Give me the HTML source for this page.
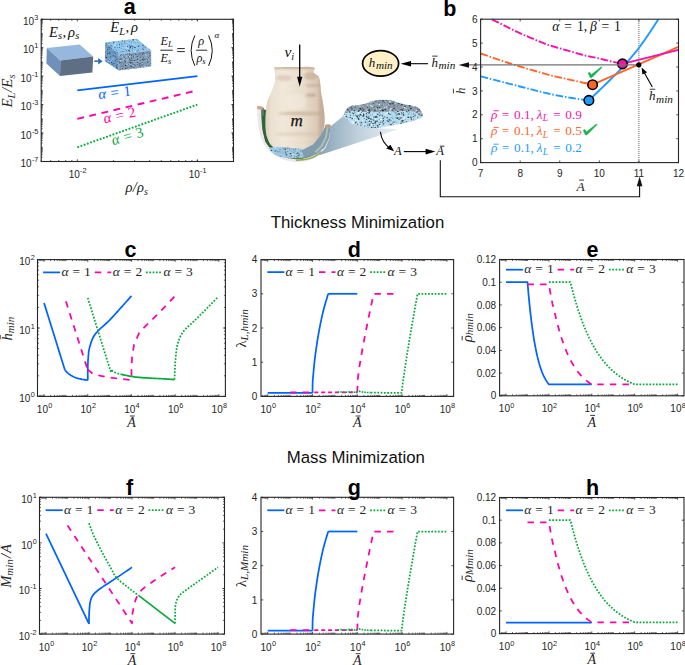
<!DOCTYPE html>
<html><head><meta charset="utf-8"><title>Figure</title>
<style>html,body{margin:0;padding:0;background:#fff;}svg{display:block;}</style></head>
<body><svg width="685" height="665" viewBox="0 0 685 665">
<defs><clipPath id="fc1"><path d="M105.3 42.3 L136.8 38.8 L151.2 50.6 L118.8 54.6 Z"/></clipPath>
<clipPath id="fc2"><path d="M105.3 42.3 L118.8 54.6 L118.8 70.4 L104.8 61.2 Z"/></clipPath>
<clipPath id="fc3"><path d="M118.8 54.6 L151.2 50.6 L151.2 66.4 L118.8 70.4 Z"/></clipPath>
<linearGradient id="metG" x1="0" y1="0" x2="1" y2="0">
      <stop offset="0" stop-color="#e9ddcc"/><stop offset="0.3" stop-color="#f1e8da"/>
      <stop offset="0.65" stop-color="#e8dccb"/><stop offset="0.86" stop-color="#dccab7"/><stop offset="1" stop-color="#c6af9a"/></linearGradient>
    <linearGradient id="coneG" x1="0" y1="0" x2="1" y2="0">
      <stop offset="0" stop-color="#7f9db2" stop-opacity="0.95"/><stop offset="0.5" stop-color="#b9cbd8" stop-opacity="0.9"/>
      <stop offset="1" stop-color="#e4ecf2" stop-opacity="0.85"/></linearGradient>
    <filter id="blur1" x="-20%" y="-20%" width="140%" height="140%"><feGaussianBlur stdDeviation="1.2"/></filter>
    <filter id="blur2" x="-20%" y="-20%" width="140%" height="140%"><feGaussianBlur stdDeviation="0.6"/></filter>
<clipPath id="metClip"><path d="M274 67.4 L276.73 67.33 L280.58 67.23 L285.07 67.12 L289.71 67.04 L294 67 L298.26 66.96 L302.81 66.88 L307.19 66.87 L310.94 67.01 L313.6 67.4 L314.77 68.12 L314.77 69.11 L314.18 70.24 L313.59 71.38 L313.6 72.4 L314.33 73.24 L315.4 73.98 L316.6 74.72 L317.74 75.53 L318.6 76.5 L319.15 77.61 L319.52 78.8 L319.77 80.1 L319.98 81.52 L320.2 83.1 L320.41 84.91 L320.58 86.94 L320.72 89.07 L320.89 91.16 L321.1 93.1 L321.37 94.78 L321.68 96.27 L322.02 97.75 L322.36 99.37 L322.7 101.3 L323.06 103.67 L323.45 106.37 L323.84 109.21 L324.17 111.98 L324.4 114.5 L324.54 116.76 L324.6 118.9 L324.6 120.91 L324.54 122.78 L324.4 124.5 L324.22 125.98 L323.99 127.23 L323.68 128.39 L323.26 129.6 L322.7 131 L322.04 132.66 L321.29 134.49 L320.41 136.39 L319.33 138.26 L318 140 L316.37 141.68 L314.48 143.35 L312.4 144.93 L310.21 146.34 L308 147.5 L305.76 148.37 L303.44 149 L301.04 149.46 L298.56 149.77 L296 150 L293.26 150.14 L290.35 150.16 L287.41 150.06 L284.58 149.84 L282 149.5 L279.66 149.06 L277.45 148.53 L275.42 147.87 L273.59 147.04 L272 146 L270.69 144.7 L269.63 143.15 L268.77 141.46 L268.05 139.71 L267.4 138 L266.85 136.42 L266.43 134.91 L266.12 133.32 L265.88 131.53 L265.7 129.4 L265.56 126.8 L265.5 123.81 L265.5 120.64 L265.56 117.47 L265.7 114.5 L265.89 111.7 L266.14 108.94 L266.47 106.26 L266.88 103.7 L267.4 101.3 L268.08 99.11 L268.91 97.1 L269.8 95.2 L270.69 93.33 L271.5 91.4 L272.26 89.41 L273.04 87.4 L273.76 85.4 L274.36 83.43 L274.8 81.5 L275.02 79.56 L275.08 77.61 L275.02 75.71 L274.9 73.94 L274.8 72.4 L274.68 71.06 L274.5 69.86 L274.3 68.84 L274.12 68.01 L274 67.4 Z"/></clipPath>
<clipPath id="fc4"><path d="M268.8 147.6 L270.57 147.41 L273.09 147.12 L276.01 146.88 L279 146.8 L282.1 146.95 L285.45 147.25 L288.82 147.63 L292 148 L295.12 148.25 L298.25 148.44 L301 148.81 L303 149.6 L304.26 151.1 L304.94 153.11 L304.9 155.12 L304 156.6 L301.91 157.41 L298.81 157.82 L295.3 157.98 L292 158 L288.91 157.91 L285.75 157.64 L282.72 157.2 L280 156.6 L277.61 155.81 L275.45 154.82 L273.57 153.73 L272 152.6 L270.79 151.3 L269.9 149.85 L269.26 148.52 L268.8 147.6 Z"/></clipPath>
<clipPath id="fc5"><path d="M343.1 116.1 L343.48 115.06 L344.03 113.57 L344.7 111.94 L345.5 110.5 L346.4 109.26 L347.41 108.06 L348.56 107.01 L349.9 106.2 L351.47 105.73 L353.24 105.53 L355.11 105.41 L357 105.2 L358.82 104.91 L360.64 104.61 L362.59 104.23 L364.8 103.7 L367.3 102.89 L370.04 101.87 L372.95 100.89 L376 100.2 L379.32 99.84 L382.88 99.69 L386.4 99.74 L389.6 100 L392.24 100.54 L394.52 101.34 L396.85 102.25 L399.6 103.1 L403.19 103.89 L407.31 104.69 L411.28 105.47 L414.4 106.2 L416.37 106.74 L417.59 107.16 L418.47 107.7 L419.4 108.6 L420.59 110.1 L421.79 112.01 L422.73 113.94 L423.1 115.5 L422.84 116.54 L422.1 117.29 L420.93 117.91 L419.4 118.6 L417.45 119.38 L415.07 120.15 L412.39 120.92 L409.5 121.7 L406.37 122.48 L402.96 123.28 L399.39 124.05 L395.8 124.8 L392.06 125.55 L388.17 126.29 L384.39 126.97 L381 127.5 L378.19 127.91 L375.76 128.21 L373.46 128.36 L371 128.3 L368.24 127.98 L365.35 127.43 L362.53 126.75 L360 126 L357.83 125.16 L355.9 124.2 L354.12 123.22 L352.4 122.3 L350.68 121.48 L349.02 120.71 L347.5 119.96 L346.2 119.2 L345.13 118.35 L344.26 117.46 L343.58 116.66 L343.1 116.1 Z"/></clipPath></defs>
<rect x="0" y="0" width="685" height="665" fill="#fff"/>
<rect x="41.2" y="19.3" width="192.3" height="142.2" fill="none" stroke="#262626" stroke-width="1.1"/>
<path d="M77.33 161.50v-2.20M77.33 19.30v2.20M197.37 161.50v-2.20M197.37 19.30v2.20" stroke="#262626" stroke-width="0.8" fill="none"/>
<path d="M41.20 161.50v-1.50M41.20 19.30v1.50M50.70 161.50v-1.50M50.70 19.30v1.50M58.74 161.50v-1.50M58.74 19.30v1.50M65.70 161.50v-1.50M65.70 19.30v1.50M71.84 161.50v-1.50M71.84 19.30v1.50M113.47 161.50v-1.50M113.47 19.30v1.50M134.60 161.50v-1.50M134.60 19.30v1.50M149.60 161.50v-1.50M149.60 19.30v1.50M161.23 161.50v-1.50M161.23 19.30v1.50M170.74 161.50v-1.50M170.74 19.30v1.50M178.77 161.50v-1.50M178.77 19.30v1.50M185.73 161.50v-1.50M185.73 19.30v1.50M191.87 161.50v-1.50M191.87 19.30v1.50M197.37 161.50v-1.50M197.37 19.30v1.50M233.50 161.50v-1.50M233.50 19.30v1.50" stroke="#262626" stroke-width="0.7" fill="none"/>
<path d="M41.20 19.30h2.20M233.50 19.30h-2.20M41.20 47.74h2.20M233.50 47.74h-2.20M41.20 76.18h2.20M233.50 76.18h-2.20M41.20 104.62h2.20M233.50 104.62h-2.20M41.20 133.06h2.20M233.50 133.06h-2.20M41.20 161.50h2.20M233.50 161.50h-2.20" stroke="#262626" stroke-width="0.8" fill="none"/>
<path d="M41.20 161.50h1.50M233.50 161.50h-1.50M41.20 157.22h1.50M233.50 157.22h-1.50M41.20 154.72h1.50M233.50 154.72h-1.50M41.20 152.94h1.50M233.50 152.94h-1.50M41.20 151.56h1.50M233.50 151.56h-1.50M41.20 150.43h1.50M233.50 150.43h-1.50M41.20 149.48h1.50M233.50 149.48h-1.50M41.20 148.66h1.50M233.50 148.66h-1.50M41.20 147.93h1.50M233.50 147.93h-1.50M41.20 143.00h1.50M233.50 143.00h-1.50M41.20 140.50h1.50M233.50 140.50h-1.50M41.20 138.72h1.50M233.50 138.72h-1.50M41.20 137.34h1.50M233.50 137.34h-1.50M41.20 136.21h1.50M233.50 136.21h-1.50M41.20 135.26h1.50M233.50 135.26h-1.50M41.20 134.44h1.50M233.50 134.44h-1.50M41.20 133.71h1.50M233.50 133.71h-1.50M41.20 133.06h1.50M233.50 133.06h-1.50M41.20 128.78h1.50M233.50 128.78h-1.50M41.20 126.28h1.50M233.50 126.28h-1.50M41.20 124.50h1.50M233.50 124.50h-1.50M41.20 123.12h1.50M233.50 123.12h-1.50M41.20 121.99h1.50M233.50 121.99h-1.50M41.20 121.04h1.50M233.50 121.04h-1.50M41.20 120.22h1.50M233.50 120.22h-1.50M41.20 119.49h1.50M233.50 119.49h-1.50M41.20 114.56h1.50M233.50 114.56h-1.50M41.20 112.06h1.50M233.50 112.06h-1.50M41.20 110.28h1.50M233.50 110.28h-1.50M41.20 108.90h1.50M233.50 108.90h-1.50M41.20 107.77h1.50M233.50 107.77h-1.50M41.20 106.82h1.50M233.50 106.82h-1.50M41.20 106.00h1.50M233.50 106.00h-1.50M41.20 105.27h1.50M233.50 105.27h-1.50M41.20 104.62h1.50M233.50 104.62h-1.50M41.20 100.34h1.50M233.50 100.34h-1.50M41.20 97.84h1.50M233.50 97.84h-1.50M41.20 96.06h1.50M233.50 96.06h-1.50M41.20 94.68h1.50M233.50 94.68h-1.50M41.20 93.55h1.50M233.50 93.55h-1.50M41.20 92.60h1.50M233.50 92.60h-1.50M41.20 91.78h1.50M233.50 91.78h-1.50M41.20 91.05h1.50M233.50 91.05h-1.50M41.20 86.12h1.50M233.50 86.12h-1.50M41.20 83.62h1.50M233.50 83.62h-1.50M41.20 81.84h1.50M233.50 81.84h-1.50M41.20 80.46h1.50M233.50 80.46h-1.50M41.20 79.33h1.50M233.50 79.33h-1.50M41.20 78.38h1.50M233.50 78.38h-1.50M41.20 77.56h1.50M233.50 77.56h-1.50M41.20 76.83h1.50M233.50 76.83h-1.50M41.20 76.18h1.50M233.50 76.18h-1.50M41.20 71.90h1.50M233.50 71.90h-1.50M41.20 69.40h1.50M233.50 69.40h-1.50M41.20 67.62h1.50M233.50 67.62h-1.50M41.20 66.24h1.50M233.50 66.24h-1.50M41.20 65.11h1.50M233.50 65.11h-1.50M41.20 64.16h1.50M233.50 64.16h-1.50M41.20 63.34h1.50M233.50 63.34h-1.50M41.20 62.61h1.50M233.50 62.61h-1.50M41.20 57.68h1.50M233.50 57.68h-1.50M41.20 55.18h1.50M233.50 55.18h-1.50M41.20 53.40h1.50M233.50 53.40h-1.50M41.20 52.02h1.50M233.50 52.02h-1.50M41.20 50.89h1.50M233.50 50.89h-1.50M41.20 49.94h1.50M233.50 49.94h-1.50M41.20 49.12h1.50M233.50 49.12h-1.50M41.20 48.39h1.50M233.50 48.39h-1.50M41.20 47.74h1.50M233.50 47.74h-1.50M41.20 43.46h1.50M233.50 43.46h-1.50M41.20 40.96h1.50M233.50 40.96h-1.50M41.20 39.18h1.50M233.50 39.18h-1.50M41.20 37.80h1.50M233.50 37.80h-1.50M41.20 36.67h1.50M233.50 36.67h-1.50M41.20 35.72h1.50M233.50 35.72h-1.50M41.20 34.90h1.50M233.50 34.90h-1.50M41.20 34.17h1.50M233.50 34.17h-1.50M41.20 29.24h1.50M233.50 29.24h-1.50M41.20 26.74h1.50M233.50 26.74h-1.50M41.20 24.96h1.50M233.50 24.96h-1.50M41.20 23.58h1.50M233.50 23.58h-1.50M41.20 22.45h1.50M233.50 22.45h-1.50M41.20 21.50h1.50M233.50 21.50h-1.50M41.20 20.68h1.50M233.50 20.68h-1.50M41.20 19.95h1.50M233.50 19.95h-1.50M41.20 19.30h1.50M233.50 19.30h-1.50M41.20 33.52h1.50M233.50 33.52h-1.50M41.20 61.96h1.50M233.50 61.96h-1.50M41.20 90.40h1.50M233.50 90.40h-1.50M41.20 118.84h1.50M233.50 118.84h-1.50M41.20 147.28h1.50M233.50 147.28h-1.50" stroke="#262626" stroke-width="0.7" fill="none"/>
<text x="38.4" y="24.9" font-size="10" text-anchor="end" font-family='"Liberation Sans", sans-serif' fill="#262626">10<tspan font-size="7.3" dx="0.25" dy="-5">3</tspan></text>
<text x="38.4" y="53.34" font-size="10" text-anchor="end" font-family='"Liberation Sans", sans-serif' fill="#262626">10<tspan font-size="7.3" dx="0.25" dy="-5">1</tspan></text>
<text x="38.4" y="81.78" font-size="10" text-anchor="end" font-family='"Liberation Sans", sans-serif' fill="#262626">10<tspan font-size="7.3" dx="0.25" dy="-5">-1</tspan></text>
<text x="38.4" y="110.22" font-size="10" text-anchor="end" font-family='"Liberation Sans", sans-serif' fill="#262626">10<tspan font-size="7.3" dx="0.25" dy="-5">-3</tspan></text>
<text x="38.4" y="138.66" font-size="10" text-anchor="end" font-family='"Liberation Sans", sans-serif' fill="#262626">10<tspan font-size="7.3" dx="0.25" dy="-5">-5</tspan></text>
<text x="38.4" y="167.1" font-size="10" text-anchor="end" font-family='"Liberation Sans", sans-serif' fill="#262626">10<tspan font-size="7.3" dx="0.25" dy="-5">-7</tspan></text>
<text x="77.63" y="178" font-size="10" text-anchor="middle" font-family='"Liberation Sans", sans-serif' fill="#262626">10<tspan font-size="7.3" dx="0.25" dy="-4.6">-2</tspan></text>
<text x="197.67" y="178" font-size="10" text-anchor="middle" font-family='"Liberation Sans", sans-serif' fill="#262626">10<tspan font-size="7.3" dx="0.25" dy="-4.6">-1</tspan></text>
<text x="129.8" y="14.3" font-size="21.5" text-anchor="middle" font-weight="bold" font-style="normal" font-family='"Liberation Sans", sans-serif' fill="#000" >a</text>
<g transform="translate(136.7 192.3)" fill="#262626"><text font-family='"Liberation Serif", serif'><tspan x="-11.22" y="0" font-size="14.5" font-style="italic">ρ</tspan><tspan x="-3.96" y="0" font-size="14.5" font-style="italic">/</tspan><tspan x="0.37" y="0" font-size="14.5" font-style="italic">ρ</tspan><tspan x="7.33" y="2.6" font-size="10" font-style="italic">s</tspan></text></g>
<g transform="translate(12.3 91) rotate(-90)" fill="#262626"><text font-family='"Liberation Serif", serif'><tspan x="-16.61" y="0" font-size="15" font-style="italic">E</tspan><tspan x="-7.45" y="2.6" font-size="10.5" font-style="italic">L</tspan><tspan x="-1.01" y="0" font-size="15" font-style="italic">/</tspan><tspan x="3.36" y="0" font-size="15" font-style="italic">E</tspan><tspan x="12.52" y="2.6" font-size="10.5" font-style="italic">s</tspan></text></g>
<path d="M77.33 90.4 L197.37 76.18" fill="none" stroke="#0064ff" stroke-width="1.9" stroke-linejoin="round" />
<path d="M77.33 118.84 L197.37 90.4" fill="none" stroke="#ff00aa" stroke-width="1.9" stroke-dasharray="6.8 5.6" stroke-linejoin="round" />
<path d="M77.33 147.28 L197.37 104.62" fill="none" stroke="#08aa3c" stroke-width="1.9" stroke-dasharray="1.8 1.6" stroke-linejoin="round" />
<g transform="translate(98.8 99) rotate(-5.8)" fill="#0064ff"><text font-family='"Liberation Serif", serif'><tspan x="0" y="0" font-size="14.8" font-style="italic">α</tspan><tspan x="12.37" y="0" font-size="14.8">=</tspan><tspan x="25.31" y="0" font-size="14.8">1</tspan></text></g>
<g transform="translate(104.6 123.6) rotate(-12.5)" fill="#ff00aa"><text font-family='"Liberation Serif", serif'><tspan x="0" y="0" font-size="14.8" font-style="italic">α</tspan><tspan x="12.37" y="0" font-size="14.8">=</tspan><tspan x="25.31" y="0" font-size="14.8">2</tspan></text></g>
<g transform="translate(113 145.3) rotate(-16)" fill="#08aa3c"><text font-family='"Liberation Serif", serif'><tspan x="0" y="0" font-size="14.8" font-style="italic">α</tspan><tspan x="12.37" y="0" font-size="14.8">=</tspan><tspan x="25.31" y="0" font-size="14.8">3</tspan></text></g>
<path d="M46.8 48.1 L79.7 44.6 L93.2 56.6 L60.4 60.6 Z" fill="#97b8de"/>
<path d="M46.8 48.1 L60.4 60.6 L60 75.9 L46.4 63.6 Z" fill="#6f90bb"/>
<path d="M60.4 60.6 L93.2 56.6 L92.4 72.4 L60 75.9 Z" fill="#5e6f84"/>
<line x1="94.3" y1="61.2" x2="99" y2="61.2" stroke="#2f6db3" stroke-width="1.6" />
<path d="M98.2 57.9 L102.6 61.2 L98.2 64.5 Z" fill="#2f6db3"/>
<path d="M105.3 42.3 L136.8 38.8 L151.2 50.6 L118.8 54.6 Z" fill="#8cc4ec"/>
<g clip-path="url(#fc1)"><ellipse cx="126.1" cy="47.6" rx="0.76" ry="0.50" fill="#d9f3ff" opacity="0.85"/><ellipse cx="126.7" cy="46.8" rx="0.60" ry="0.40" fill="#d9f3ff" opacity="0.85"/><ellipse cx="113.8" cy="46.9" rx="0.62" ry="0.41" fill="#d9f3ff" opacity="0.85"/><ellipse cx="141.7" cy="40.3" rx="0.47" ry="0.31" fill="#d9f3ff" opacity="0.85"/><ellipse cx="109.5" cy="51.6" rx="0.65" ry="0.43" fill="#d9f3ff" opacity="0.85"/><ellipse cx="107.2" cy="54.3" rx="0.78" ry="0.52" fill="#d9f3ff" opacity="0.85"/><ellipse cx="135.3" cy="48.5" rx="0.40" ry="0.27" fill="#d9f3ff" opacity="0.85"/><ellipse cx="106.0" cy="47.1" rx="0.36" ry="0.24" fill="#d9f3ff" opacity="0.85"/><ellipse cx="114.0" cy="42.6" rx="0.34" ry="0.23" fill="#d9f3ff" opacity="0.85"/><ellipse cx="126.6" cy="45.8" rx="0.72" ry="0.48" fill="#d9f3ff" opacity="0.85"/><ellipse cx="129.1" cy="48.9" rx="0.56" ry="0.37" fill="#d9f3ff" opacity="0.85"/><ellipse cx="135.7" cy="46.0" rx="0.46" ry="0.31" fill="#d9f3ff" opacity="0.85"/><ellipse cx="151.1" cy="54.5" rx="0.72" ry="0.48" fill="#d9f3ff" opacity="0.85"/><ellipse cx="137.8" cy="43.8" rx="0.44" ry="0.29" fill="#d9f3ff" opacity="0.85"/><ellipse cx="118.6" cy="39.9" rx="0.68" ry="0.46" fill="#d9f3ff" opacity="0.85"/><ellipse cx="123.7" cy="52.2" rx="0.51" ry="0.34" fill="#d9f3ff" opacity="0.85"/><ellipse cx="149.3" cy="52.2" rx="0.33" ry="0.22" fill="#d9f3ff" opacity="0.85"/><ellipse cx="114.9" cy="53.2" rx="0.55" ry="0.36" fill="#d9f3ff" opacity="0.85"/><ellipse cx="150.3" cy="45.1" rx="0.36" ry="0.24" fill="#d9f3ff" opacity="0.85"/><ellipse cx="134.2" cy="51.1" rx="0.45" ry="0.30" fill="#d9f3ff" opacity="0.85"/><ellipse cx="109.3" cy="44.1" rx="0.78" ry="0.52" fill="#d9f3ff" opacity="0.85"/><ellipse cx="140.1" cy="40.7" rx="0.44" ry="0.30" fill="#d9f3ff" opacity="0.85"/><ellipse cx="109.9" cy="39.7" rx="0.70" ry="0.47" fill="#d9f3ff" opacity="0.85"/><ellipse cx="113.5" cy="47.6" rx="0.54" ry="0.36" fill="#d9f3ff" opacity="0.85"/><ellipse cx="114.1" cy="50.4" rx="0.39" ry="0.26" fill="#d9f3ff" opacity="0.85"/><ellipse cx="134.8" cy="40.6" rx="0.52" ry="0.35" fill="#d9f3ff" opacity="0.85"/><ellipse cx="115.1" cy="43.1" rx="0.78" ry="0.52" fill="#d9f3ff" opacity="0.85"/><ellipse cx="142.2" cy="43.6" rx="0.74" ry="0.49" fill="#d9f3ff" opacity="0.85"/><ellipse cx="115.0" cy="45.0" rx="0.72" ry="0.48" fill="#d9f3ff" opacity="0.85"/><ellipse cx="134.8" cy="40.4" rx="0.79" ry="0.52" fill="#d9f3ff" opacity="0.85"/><ellipse cx="115.1" cy="42.9" rx="0.69" ry="0.46" fill="#d9f3ff" opacity="0.85"/><ellipse cx="120.4" cy="43.5" rx="0.36" ry="0.24" fill="#d9f3ff" opacity="0.85"/><ellipse cx="109.4" cy="48.0" rx="0.44" ry="0.29" fill="#d9f3ff" opacity="0.85"/><ellipse cx="132.9" cy="44.7" rx="0.54" ry="0.36" fill="#d9f3ff" opacity="0.85"/><ellipse cx="149.3" cy="46.4" rx="0.60" ry="0.40" fill="#d9f3ff" opacity="0.85"/><ellipse cx="145.1" cy="41.7" rx="0.40" ry="0.27" fill="#d9f3ff" opacity="0.85"/><ellipse cx="147.0" cy="51.7" rx="0.45" ry="0.30" fill="#d9f3ff" opacity="0.85"/><ellipse cx="114.0" cy="50.5" rx="0.76" ry="0.51" fill="#d9f3ff" opacity="0.85"/><ellipse cx="114.3" cy="53.8" rx="0.74" ry="0.49" fill="#d9f3ff" opacity="0.85"/><ellipse cx="133.0" cy="45.5" rx="0.38" ry="0.25" fill="#d9f3ff" opacity="0.85"/><ellipse cx="107.1" cy="54.0" rx="0.44" ry="0.29" fill="#d9f3ff" opacity="0.85"/><ellipse cx="137.6" cy="42.9" rx="0.71" ry="0.47" fill="#d9f3ff" opacity="0.85"/><ellipse cx="132.7" cy="43.4" rx="0.41" ry="0.27" fill="#d9f3ff" opacity="0.85"/><ellipse cx="138.4" cy="39.9" rx="0.44" ry="0.29" fill="#d9f3ff" opacity="0.85"/><ellipse cx="131.0" cy="52.3" rx="0.61" ry="0.41" fill="#d9f3ff" opacity="0.85"/><ellipse cx="118.2" cy="53.3" rx="0.42" ry="0.28" fill="#d9f3ff" opacity="0.85"/><ellipse cx="106.1" cy="43.1" rx="0.54" ry="0.36" fill="#d9f3ff" opacity="0.85"/><ellipse cx="108.1" cy="41.6" rx="0.50" ry="0.33" fill="#d9f3ff" opacity="0.85"/><ellipse cx="131.6" cy="40.9" rx="0.50" ry="0.33" fill="#d9f3ff" opacity="0.85"/><ellipse cx="146.2" cy="54.3" rx="0.63" ry="0.42" fill="#d9f3ff" opacity="0.85"/><ellipse cx="137.0" cy="48.0" rx="0.39" ry="0.26" fill="#d9f3ff" opacity="0.85"/><ellipse cx="106.9" cy="39.1" rx="0.75" ry="0.50" fill="#d9f3ff" opacity="0.85"/><ellipse cx="137.5" cy="54.0" rx="0.34" ry="0.23" fill="#d9f3ff" opacity="0.85"/><ellipse cx="134.5" cy="46.4" rx="0.67" ry="0.44" fill="#d9f3ff" opacity="0.85"/><ellipse cx="119.9" cy="54.6" rx="0.36" ry="0.24" fill="#d9f3ff" opacity="0.85"/><ellipse cx="130.4" cy="50.4" rx="0.75" ry="0.50" fill="#d9f3ff" opacity="0.85"/><ellipse cx="139.1" cy="49.9" rx="0.70" ry="0.46" fill="#d9f3ff" opacity="0.85"/><ellipse cx="147.3" cy="44.4" rx="0.65" ry="0.43" fill="#d9f3ff" opacity="0.85"/><ellipse cx="146.6" cy="52.6" rx="0.52" ry="0.35" fill="#d9f3ff" opacity="0.85"/><ellipse cx="141.6" cy="52.4" rx="0.59" ry="0.40" fill="#d9f3ff" opacity="0.85"/><ellipse cx="134.0" cy="44.8" rx="0.60" ry="0.40" fill="#d9f3ff" opacity="0.85"/><ellipse cx="133.2" cy="40.1" rx="0.63" ry="0.42" fill="#d9f3ff" opacity="0.85"/><ellipse cx="150.9" cy="52.7" rx="0.67" ry="0.44" fill="#d9f3ff" opacity="0.85"/><ellipse cx="123.1" cy="50.4" rx="0.60" ry="0.40" fill="#d9f3ff" opacity="0.85"/><ellipse cx="125.5" cy="52.0" rx="0.37" ry="0.25" fill="#d9f3ff" opacity="0.85"/><ellipse cx="139.7" cy="39.3" rx="0.61" ry="0.41" fill="#d9f3ff" opacity="0.85"/><ellipse cx="127.4" cy="42.4" rx="0.65" ry="0.44" fill="#d9f3ff" opacity="0.85"/><ellipse cx="128.1" cy="48.5" rx="0.76" ry="0.50" fill="#d9f3ff" opacity="0.85"/><ellipse cx="117.0" cy="39.0" rx="0.47" ry="0.31" fill="#d9f3ff" opacity="0.85"/><ellipse cx="136.4" cy="42.0" rx="0.41" ry="0.27" fill="#d9f3ff" opacity="0.85"/><ellipse cx="146.9" cy="49.2" rx="0.53" ry="0.36" fill="#d9f3ff" opacity="0.85"/><ellipse cx="146.2" cy="44.0" rx="0.64" ry="0.43" fill="#d9f3ff" opacity="0.85"/><ellipse cx="114.4" cy="45.6" rx="0.70" ry="0.47" fill="#d9f3ff" opacity="0.85"/><ellipse cx="147.3" cy="52.7" rx="0.51" ry="0.34" fill="#d9f3ff" opacity="0.85"/><ellipse cx="132.1" cy="43.8" rx="0.39" ry="0.26" fill="#d9f3ff" opacity="0.85"/><ellipse cx="128.1" cy="52.0" rx="0.72" ry="0.48" fill="#d9f3ff" opacity="0.85"/><ellipse cx="137.9" cy="53.8" rx="0.46" ry="0.31" fill="#d9f3ff" opacity="0.85"/><ellipse cx="113.1" cy="45.9" rx="0.46" ry="0.30" fill="#d9f3ff" opacity="0.85"/><ellipse cx="115.1" cy="45.3" rx="0.62" ry="0.41" fill="#d9f3ff" opacity="0.85"/><ellipse cx="128.0" cy="43.8" rx="0.72" ry="0.48" fill="#d9f3ff" opacity="0.85"/><ellipse cx="150.4" cy="45.9" rx="0.36" ry="0.24" fill="#d9f3ff" opacity="0.85"/><ellipse cx="106.7" cy="52.6" rx="0.35" ry="0.23" fill="#d9f3ff" opacity="0.85"/><ellipse cx="137.8" cy="47.8" rx="0.47" ry="0.32" fill="#d9f3ff" opacity="0.85"/><ellipse cx="141.6" cy="39.1" rx="0.39" ry="0.26" fill="#d9f3ff" opacity="0.85"/><ellipse cx="126.2" cy="39.2" rx="0.71" ry="0.48" fill="#d9f3ff" opacity="0.85"/><ellipse cx="116.2" cy="41.0" rx="0.35" ry="0.23" fill="#d9f3ff" opacity="0.85"/><ellipse cx="134.2" cy="45.9" rx="0.62" ry="0.41" fill="#d9f3ff" opacity="0.85"/><ellipse cx="135.4" cy="51.6" rx="0.77" ry="0.52" fill="#d9f3ff" opacity="0.85"/><ellipse cx="136.7" cy="41.9" rx="0.55" ry="0.37" fill="#d9f3ff" opacity="0.85"/><ellipse cx="113.5" cy="39.0" rx="0.55" ry="0.37" fill="#d9f3ff" opacity="0.85"/><ellipse cx="138.1" cy="41.6" rx="0.46" ry="0.30" fill="#d9f3ff" opacity="0.85"/><ellipse cx="121.2" cy="49.8" rx="0.57" ry="0.38" fill="#d9f3ff" opacity="0.85"/><ellipse cx="133.5" cy="50.7" rx="0.51" ry="0.34" fill="#d9f3ff" opacity="0.85"/><ellipse cx="141.6" cy="53.1" rx="0.37" ry="0.25" fill="#d9f3ff" opacity="0.85"/><ellipse cx="148.1" cy="50.2" rx="0.39" ry="0.26" fill="#d9f3ff" opacity="0.85"/><ellipse cx="126.1" cy="48.7" rx="0.75" ry="0.50" fill="#d9f3ff" opacity="0.85"/><ellipse cx="122.6" cy="47.8" rx="0.74" ry="0.49" fill="#d9f3ff" opacity="0.85"/><ellipse cx="141.9" cy="53.7" rx="0.54" ry="0.36" fill="#d9f3ff" opacity="0.85"/><ellipse cx="135.2" cy="42.0" rx="0.66" ry="0.44" fill="#d9f3ff" opacity="0.85"/><ellipse cx="142.9" cy="48.9" rx="0.66" ry="0.44" fill="#d9f3ff" opacity="0.85"/><ellipse cx="115.1" cy="53.0" rx="0.68" ry="0.50" fill="#15202b" opacity="0.94"/><ellipse cx="129.9" cy="51.3" rx="0.42" ry="0.31" fill="#15202b" opacity="0.91"/><ellipse cx="144.6" cy="44.3" rx="0.32" ry="0.24" fill="#15202b" opacity="0.73"/><ellipse cx="130.6" cy="50.9" rx="0.48" ry="0.36" fill="#15202b" opacity="0.56"/><ellipse cx="142.4" cy="39.8" rx="0.61" ry="0.45" fill="#15202b" opacity="0.62"/><ellipse cx="120.7" cy="51.2" rx="0.34" ry="0.25" fill="#15202b" opacity="0.61"/><ellipse cx="129.0" cy="50.2" rx="0.63" ry="0.46" fill="#15202b" opacity="0.83"/><ellipse cx="148.7" cy="46.6" rx="0.67" ry="0.49" fill="#15202b" opacity="0.58"/><ellipse cx="115.5" cy="47.1" rx="0.40" ry="0.30" fill="#15202b" opacity="0.84"/><ellipse cx="134.6" cy="47.1" rx="0.63" ry="0.46" fill="#15202b" opacity="0.77"/><ellipse cx="119.6" cy="44.8" rx="0.63" ry="0.46" fill="#15202b" opacity="0.91"/><ellipse cx="114.9" cy="52.2" rx="0.68" ry="0.50" fill="#15202b" opacity="0.76"/><ellipse cx="131.6" cy="42.0" rx="0.50" ry="0.37" fill="#15202b" opacity="0.75"/><ellipse cx="133.1" cy="39.2" rx="0.68" ry="0.50" fill="#15202b" opacity="0.76"/><ellipse cx="123.7" cy="51.5" rx="0.51" ry="0.38" fill="#15202b" opacity="0.75"/><ellipse cx="137.0" cy="39.8" rx="0.50" ry="0.37" fill="#15202b" opacity="0.72"/><ellipse cx="149.2" cy="53.4" rx="0.40" ry="0.29" fill="#15202b" opacity="0.74"/><ellipse cx="111.1" cy="45.7" rx="0.62" ry="0.46" fill="#15202b" opacity="0.91"/><ellipse cx="127.2" cy="43.8" rx="0.36" ry="0.27" fill="#15202b" opacity="0.80"/><ellipse cx="147.8" cy="40.8" rx="0.60" ry="0.44" fill="#15202b" opacity="0.56"/><ellipse cx="114.2" cy="42.4" rx="0.56" ry="0.42" fill="#15202b" opacity="0.68"/><ellipse cx="121.6" cy="48.6" rx="0.33" ry="0.24" fill="#15202b" opacity="0.84"/><ellipse cx="110.9" cy="46.9" rx="0.39" ry="0.29" fill="#15202b" opacity="0.63"/><ellipse cx="129.6" cy="45.7" rx="0.44" ry="0.32" fill="#15202b" opacity="0.72"/><ellipse cx="129.6" cy="41.3" rx="0.37" ry="0.27" fill="#15202b" opacity="0.80"/><ellipse cx="134.6" cy="47.2" rx="0.63" ry="0.47" fill="#15202b" opacity="0.79"/><ellipse cx="144.6" cy="42.5" rx="0.59" ry="0.43" fill="#15202b" opacity="0.87"/><ellipse cx="146.7" cy="43.8" rx="0.41" ry="0.31" fill="#15202b" opacity="0.92"/><ellipse cx="115.3" cy="54.6" rx="0.64" ry="0.48" fill="#15202b" opacity="0.60"/><ellipse cx="116.3" cy="50.3" rx="0.39" ry="0.29" fill="#15202b" opacity="0.59"/><ellipse cx="143.5" cy="45.5" rx="0.61" ry="0.45" fill="#15202b" opacity="0.60"/><ellipse cx="123.8" cy="49.6" rx="0.29" ry="0.22" fill="#15202b" opacity="0.63"/><ellipse cx="136.6" cy="53.2" rx="0.68" ry="0.50" fill="#15202b" opacity="0.60"/><ellipse cx="128.5" cy="50.8" rx="0.49" ry="0.36" fill="#15202b" opacity="0.82"/><ellipse cx="114.0" cy="39.9" rx="0.33" ry="0.24" fill="#15202b" opacity="0.56"/><ellipse cx="130.6" cy="46.9" rx="0.52" ry="0.38" fill="#15202b" opacity="0.61"/><ellipse cx="113.8" cy="42.0" rx="0.63" ry="0.46" fill="#15202b" opacity="0.95"/><ellipse cx="147.8" cy="40.3" rx="0.31" ry="0.23" fill="#15202b" opacity="0.93"/><ellipse cx="126.5" cy="50.9" rx="0.42" ry="0.31" fill="#15202b" opacity="0.74"/><ellipse cx="129.0" cy="45.6" rx="0.53" ry="0.39" fill="#15202b" opacity="0.56"/><ellipse cx="137.5" cy="52.1" rx="0.36" ry="0.27" fill="#15202b" opacity="0.73"/><ellipse cx="139.2" cy="45.2" rx="0.37" ry="0.27" fill="#15202b" opacity="0.62"/><ellipse cx="128.8" cy="39.0" rx="0.65" ry="0.48" fill="#15202b" opacity="0.87"/><ellipse cx="137.6" cy="52.4" rx="0.54" ry="0.40" fill="#15202b" opacity="0.71"/><ellipse cx="132.8" cy="46.8" rx="0.68" ry="0.50" fill="#15202b" opacity="0.87"/><ellipse cx="117.2" cy="53.2" rx="0.59" ry="0.43" fill="#15202b" opacity="0.86"/><ellipse cx="142.7" cy="45.2" rx="0.65" ry="0.48" fill="#15202b" opacity="0.90"/><ellipse cx="137.2" cy="50.9" rx="0.60" ry="0.44" fill="#15202b" opacity="0.71"/><ellipse cx="138.5" cy="39.9" rx="0.43" ry="0.31" fill="#15202b" opacity="0.74"/><ellipse cx="105.8" cy="44.4" rx="0.54" ry="0.40" fill="#15202b" opacity="0.80"/><ellipse cx="116.0" cy="53.7" rx="0.56" ry="0.41" fill="#15202b" opacity="0.69"/><ellipse cx="135.6" cy="47.8" rx="0.50" ry="0.37" fill="#15202b" opacity="0.71"/><ellipse cx="151.2" cy="48.9" rx="0.57" ry="0.42" fill="#15202b" opacity="0.85"/><ellipse cx="150.3" cy="39.2" rx="0.54" ry="0.40" fill="#15202b" opacity="0.85"/><ellipse cx="117.1" cy="45.1" rx="0.31" ry="0.23" fill="#15202b" opacity="0.63"/><ellipse cx="122.5" cy="40.4" rx="0.39" ry="0.29" fill="#15202b" opacity="0.91"/><ellipse cx="130.5" cy="46.8" rx="0.68" ry="0.50" fill="#15202b" opacity="0.78"/><ellipse cx="151.0" cy="48.9" rx="0.61" ry="0.45" fill="#15202b" opacity="0.58"/><ellipse cx="132.7" cy="50.8" rx="0.31" ry="0.23" fill="#15202b" opacity="0.92"/><ellipse cx="112.6" cy="46.3" rx="0.36" ry="0.26" fill="#15202b" opacity="0.75"/><ellipse cx="133.4" cy="39.7" rx="0.67" ry="0.49" fill="#15202b" opacity="0.72"/><ellipse cx="129.5" cy="48.2" rx="0.43" ry="0.32" fill="#15202b" opacity="0.66"/><ellipse cx="135.4" cy="47.7" rx="0.40" ry="0.30" fill="#15202b" opacity="0.84"/><ellipse cx="118.9" cy="39.0" rx="0.39" ry="0.29" fill="#15202b" opacity="0.57"/><ellipse cx="112.5" cy="50.7" rx="0.44" ry="0.33" fill="#15202b" opacity="0.91"/><ellipse cx="139.6" cy="39.6" rx="0.69" ry="0.51" fill="#15202b" opacity="0.93"/><ellipse cx="108.7" cy="53.1" rx="0.46" ry="0.34" fill="#15202b" opacity="0.74"/><ellipse cx="150.0" cy="42.7" rx="0.50" ry="0.37" fill="#15202b" opacity="0.92"/><ellipse cx="138.5" cy="46.2" rx="0.68" ry="0.50" fill="#15202b" opacity="0.88"/><ellipse cx="133.0" cy="40.6" rx="0.54" ry="0.40" fill="#15202b" opacity="0.73"/><ellipse cx="114.6" cy="39.6" rx="0.50" ry="0.37" fill="#15202b" opacity="0.60"/><ellipse cx="125.6" cy="49.4" rx="0.47" ry="0.35" fill="#15202b" opacity="0.65"/><ellipse cx="132.0" cy="45.4" rx="0.60" ry="0.44" fill="#15202b" opacity="0.76"/><ellipse cx="151.1" cy="53.9" rx="0.58" ry="0.43" fill="#15202b" opacity="0.65"/><ellipse cx="110.5" cy="52.9" rx="0.60" ry="0.45" fill="#15202b" opacity="0.80"/><ellipse cx="121.8" cy="43.1" rx="0.56" ry="0.42" fill="#15202b" opacity="0.78"/><ellipse cx="132.5" cy="48.8" rx="0.59" ry="0.44" fill="#15202b" opacity="0.63"/><ellipse cx="116.7" cy="54.3" rx="0.66" ry="0.48" fill="#15202b" opacity="0.90"/><ellipse cx="107.1" cy="39.8" rx="0.40" ry="0.29" fill="#15202b" opacity="0.72"/><ellipse cx="133.9" cy="40.4" rx="0.51" ry="0.37" fill="#15202b" opacity="0.58"/><ellipse cx="109.3" cy="49.5" rx="0.51" ry="0.38" fill="#15202b" opacity="0.80"/><ellipse cx="122.4" cy="46.4" rx="0.37" ry="0.28" fill="#15202b" opacity="0.69"/><ellipse cx="139.5" cy="52.0" rx="0.32" ry="0.23" fill="#15202b" opacity="0.60"/><ellipse cx="142.4" cy="48.7" rx="0.60" ry="0.44" fill="#15202b" opacity="0.64"/><ellipse cx="124.8" cy="42.9" rx="0.61" ry="0.45" fill="#15202b" opacity="0.70"/><ellipse cx="135.3" cy="54.4" rx="0.42" ry="0.31" fill="#15202b" opacity="0.77"/><ellipse cx="139.5" cy="53.3" rx="0.46" ry="0.34" fill="#15202b" opacity="0.70"/><ellipse cx="109.8" cy="52.6" rx="0.32" ry="0.24" fill="#15202b" opacity="0.58"/><ellipse cx="131.2" cy="46.5" rx="0.56" ry="0.42" fill="#15202b" opacity="0.67"/><ellipse cx="140.9" cy="40.0" rx="0.37" ry="0.28" fill="#15202b" opacity="0.81"/><ellipse cx="109.1" cy="43.6" rx="0.58" ry="0.43" fill="#15202b" opacity="0.83"/><ellipse cx="118.3" cy="41.1" rx="0.43" ry="0.32" fill="#15202b" opacity="0.84"/><ellipse cx="122.1" cy="40.7" rx="0.57" ry="0.42" fill="#15202b" opacity="0.78"/><ellipse cx="147.5" cy="53.7" rx="0.66" ry="0.48" fill="#15202b" opacity="0.73"/><ellipse cx="142.2" cy="43.6" rx="0.42" ry="0.31" fill="#15202b" opacity="0.71"/><ellipse cx="148.2" cy="52.9" rx="0.39" ry="0.29" fill="#15202b" opacity="0.69"/><ellipse cx="122.1" cy="44.5" rx="0.45" ry="0.33" fill="#15202b" opacity="0.71"/><ellipse cx="114.2" cy="47.7" rx="0.61" ry="0.45" fill="#15202b" opacity="0.77"/><ellipse cx="143.7" cy="47.7" rx="0.36" ry="0.27" fill="#15202b" opacity="0.85"/><ellipse cx="145.7" cy="43.2" rx="0.30" ry="0.22" fill="#15202b" opacity="0.76"/><ellipse cx="130.3" cy="47.8" rx="0.68" ry="0.50" fill="#15202b" opacity="0.81"/><ellipse cx="142.2" cy="39.8" rx="0.51" ry="0.38" fill="#15202b" opacity="0.87"/><ellipse cx="109.2" cy="40.1" rx="0.58" ry="0.43" fill="#15202b" opacity="0.91"/><ellipse cx="109.2" cy="48.8" rx="0.35" ry="0.26" fill="#15202b" opacity="0.85"/><ellipse cx="135.1" cy="42.7" rx="0.38" ry="0.28" fill="#15202b" opacity="0.86"/><ellipse cx="129.2" cy="50.9" rx="0.45" ry="0.33" fill="#15202b" opacity="0.69"/><ellipse cx="149.7" cy="49.4" rx="0.49" ry="0.36" fill="#15202b" opacity="0.76"/><ellipse cx="138.4" cy="50.0" rx="0.66" ry="0.48" fill="#15202b" opacity="0.71"/><ellipse cx="143.2" cy="49.3" rx="0.63" ry="0.47" fill="#15202b" opacity="0.87"/><ellipse cx="143.6" cy="52.8" rx="0.67" ry="0.50" fill="#15202b" opacity="0.81"/><ellipse cx="129.3" cy="50.0" rx="0.61" ry="0.45" fill="#15202b" opacity="0.72"/><ellipse cx="124.6" cy="41.1" rx="0.59" ry="0.43" fill="#15202b" opacity="0.95"/><ellipse cx="122.5" cy="41.4" rx="0.37" ry="0.27" fill="#15202b" opacity="0.72"/><ellipse cx="118.7" cy="54.1" rx="0.31" ry="0.23" fill="#15202b" opacity="0.67"/><ellipse cx="110.6" cy="49.0" rx="0.60" ry="0.44" fill="#15202b" opacity="0.62"/><ellipse cx="108.2" cy="46.0" rx="0.52" ry="0.39" fill="#15202b" opacity="0.91"/><ellipse cx="107.0" cy="40.5" rx="0.36" ry="0.27" fill="#15202b" opacity="0.64"/><ellipse cx="116.1" cy="50.1" rx="0.53" ry="0.39" fill="#15202b" opacity="0.64"/><ellipse cx="113.8" cy="43.2" rx="0.36" ry="0.26" fill="#15202b" opacity="0.85"/><ellipse cx="119.6" cy="47.5" rx="0.62" ry="0.46" fill="#15202b" opacity="0.74"/><ellipse cx="117.3" cy="52.8" rx="0.66" ry="0.48" fill="#15202b" opacity="0.69"/><ellipse cx="130.4" cy="53.9" rx="0.48" ry="0.36" fill="#15202b" opacity="0.64"/><ellipse cx="107.6" cy="53.8" rx="0.61" ry="0.45" fill="#15202b" opacity="0.70"/><ellipse cx="129.5" cy="46.9" rx="0.40" ry="0.29" fill="#15202b" opacity="0.95"/><ellipse cx="135.5" cy="42.6" rx="0.29" ry="0.22" fill="#15202b" opacity="0.74"/><ellipse cx="122.4" cy="51.4" rx="0.57" ry="0.42" fill="#15202b" opacity="0.79"/><ellipse cx="112.5" cy="41.3" rx="0.42" ry="0.31" fill="#15202b" opacity="0.65"/><ellipse cx="145.2" cy="47.0" rx="0.54" ry="0.40" fill="#15202b" opacity="0.95"/><ellipse cx="117.5" cy="47.2" rx="0.35" ry="0.26" fill="#15202b" opacity="0.86"/><ellipse cx="105.4" cy="51.8" rx="0.63" ry="0.46" fill="#15202b" opacity="0.88"/><ellipse cx="109.1" cy="43.1" rx="0.58" ry="0.43" fill="#15202b" opacity="0.59"/><ellipse cx="127.3" cy="46.2" rx="0.67" ry="0.50" fill="#15202b" opacity="0.78"/><ellipse cx="144.7" cy="43.6" rx="0.61" ry="0.45" fill="#15202b" opacity="0.72"/><ellipse cx="147.4" cy="40.2" rx="0.62" ry="0.46" fill="#15202b" opacity="0.63"/><ellipse cx="130.2" cy="47.1" rx="0.35" ry="0.26" fill="#15202b" opacity="0.88"/><ellipse cx="119.6" cy="43.7" rx="0.32" ry="0.24" fill="#15202b" opacity="0.67"/><ellipse cx="126.7" cy="50.1" rx="0.43" ry="0.32" fill="#15202b" opacity="0.82"/><ellipse cx="110.2" cy="45.0" rx="0.47" ry="0.35" fill="#15202b" opacity="0.94"/><ellipse cx="143.4" cy="49.1" rx="0.29" ry="0.22" fill="#15202b" opacity="0.70"/><ellipse cx="137.9" cy="42.6" rx="0.51" ry="0.38" fill="#15202b" opacity="0.73"/></g>
<path d="M105.3 42.3 L118.8 54.6 L118.8 70.4 L104.8 61.2 Z" fill="#6d9bc7"/>
<g clip-path="url(#fc2)"><ellipse cx="111.4" cy="60.8" rx="0.64" ry="0.43" fill="#d8f0ff" opacity="0.85"/><ellipse cx="106.8" cy="42.6" rx="0.50" ry="0.34" fill="#d8f0ff" opacity="0.85"/><ellipse cx="108.6" cy="65.1" rx="0.65" ry="0.43" fill="#d8f0ff" opacity="0.85"/><ellipse cx="113.2" cy="58.0" rx="0.64" ry="0.42" fill="#d8f0ff" opacity="0.85"/><ellipse cx="106.8" cy="54.7" rx="0.40" ry="0.27" fill="#d8f0ff" opacity="0.85"/><ellipse cx="117.5" cy="44.0" rx="0.71" ry="0.47" fill="#d8f0ff" opacity="0.85"/><ellipse cx="105.8" cy="61.6" rx="0.49" ry="0.32" fill="#d8f0ff" opacity="0.85"/><ellipse cx="110.5" cy="66.0" rx="0.34" ry="0.23" fill="#d8f0ff" opacity="0.85"/><ellipse cx="105.7" cy="68.0" rx="0.57" ry="0.38" fill="#d8f0ff" opacity="0.85"/><ellipse cx="106.1" cy="70.0" rx="0.77" ry="0.51" fill="#d8f0ff" opacity="0.85"/><ellipse cx="106.4" cy="54.2" rx="0.39" ry="0.26" fill="#d8f0ff" opacity="0.85"/><ellipse cx="109.2" cy="59.8" rx="0.41" ry="0.27" fill="#d8f0ff" opacity="0.85"/><ellipse cx="114.6" cy="43.7" rx="0.41" ry="0.27" fill="#d8f0ff" opacity="0.85"/><ellipse cx="116.2" cy="53.6" rx="0.52" ry="0.35" fill="#d8f0ff" opacity="0.85"/><ellipse cx="113.1" cy="55.7" rx="0.51" ry="0.34" fill="#d8f0ff" opacity="0.85"/><ellipse cx="105.2" cy="62.7" rx="0.78" ry="0.52" fill="#d8f0ff" opacity="0.85"/><ellipse cx="118.5" cy="60.9" rx="0.49" ry="0.33" fill="#d8f0ff" opacity="0.85"/><ellipse cx="109.9" cy="61.7" rx="0.64" ry="0.43" fill="#d8f0ff" opacity="0.85"/><ellipse cx="106.4" cy="48.9" rx="0.50" ry="0.33" fill="#d8f0ff" opacity="0.85"/><ellipse cx="112.0" cy="65.1" rx="0.56" ry="0.37" fill="#d8f0ff" opacity="0.85"/><ellipse cx="105.2" cy="65.4" rx="0.53" ry="0.35" fill="#d8f0ff" opacity="0.85"/><ellipse cx="112.1" cy="48.5" rx="0.53" ry="0.35" fill="#d8f0ff" opacity="0.85"/><ellipse cx="110.2" cy="64.0" rx="0.38" ry="0.25" fill="#d8f0ff" opacity="0.85"/><ellipse cx="112.5" cy="47.3" rx="0.65" ry="0.43" fill="#d8f0ff" opacity="0.85"/><ellipse cx="105.3" cy="50.1" rx="0.49" ry="0.33" fill="#d8f0ff" opacity="0.85"/><ellipse cx="113.7" cy="43.8" rx="0.54" ry="0.36" fill="#d8f0ff" opacity="0.85"/><ellipse cx="107.7" cy="50.2" rx="0.55" ry="0.37" fill="#d8f0ff" opacity="0.85"/><ellipse cx="118.2" cy="55.8" rx="0.77" ry="0.51" fill="#d8f0ff" opacity="0.85"/><ellipse cx="107.1" cy="68.3" rx="0.50" ry="0.33" fill="#d8f0ff" opacity="0.85"/><ellipse cx="107.4" cy="63.3" rx="0.75" ry="0.50" fill="#d8f0ff" opacity="0.85"/><ellipse cx="104.9" cy="49.8" rx="0.69" ry="0.46" fill="#d8f0ff" opacity="0.85"/><ellipse cx="109.6" cy="49.1" rx="0.33" ry="0.22" fill="#d8f0ff" opacity="0.85"/><ellipse cx="105.4" cy="59.7" rx="0.78" ry="0.52" fill="#d8f0ff" opacity="0.85"/><ellipse cx="118.8" cy="56.5" rx="0.34" ry="0.23" fill="#d8f0ff" opacity="0.85"/><ellipse cx="109.3" cy="64.4" rx="0.71" ry="0.48" fill="#d8f0ff" opacity="0.85"/><ellipse cx="113.8" cy="48.7" rx="0.57" ry="0.38" fill="#d8f0ff" opacity="0.85"/><ellipse cx="111.5" cy="59.9" rx="0.45" ry="0.30" fill="#d8f0ff" opacity="0.85"/><ellipse cx="118.1" cy="67.4" rx="0.40" ry="0.27" fill="#d8f0ff" opacity="0.85"/><ellipse cx="108.9" cy="66.8" rx="0.46" ry="0.31" fill="#d8f0ff" opacity="0.85"/><ellipse cx="118.0" cy="56.8" rx="0.65" ry="0.43" fill="#d8f0ff" opacity="0.85"/><ellipse cx="114.7" cy="48.3" rx="0.46" ry="0.31" fill="#d8f0ff" opacity="0.85"/><ellipse cx="108.4" cy="61.5" rx="0.65" ry="0.43" fill="#d8f0ff" opacity="0.85"/><ellipse cx="106.6" cy="67.2" rx="0.52" ry="0.35" fill="#d8f0ff" opacity="0.85"/><ellipse cx="108.2" cy="54.5" rx="0.78" ry="0.52" fill="#d8f0ff" opacity="0.85"/><ellipse cx="112.6" cy="59.9" rx="0.76" ry="0.50" fill="#d8f0ff" opacity="0.85"/><ellipse cx="118.3" cy="63.7" rx="0.52" ry="0.35" fill="#d8f0ff" opacity="0.85"/><ellipse cx="113.0" cy="67.6" rx="0.69" ry="0.46" fill="#d8f0ff" opacity="0.85"/><ellipse cx="112.9" cy="52.1" rx="0.50" ry="0.33" fill="#d8f0ff" opacity="0.85"/><ellipse cx="115.1" cy="58.1" rx="0.34" ry="0.23" fill="#d8f0ff" opacity="0.85"/><ellipse cx="114.7" cy="67.7" rx="0.70" ry="0.47" fill="#d8f0ff" opacity="0.85"/><ellipse cx="117.4" cy="67.9" rx="0.50" ry="0.37" fill="#15202b" opacity="0.87"/><ellipse cx="110.1" cy="45.1" rx="0.43" ry="0.32" fill="#15202b" opacity="0.67"/><ellipse cx="117.9" cy="61.7" rx="0.51" ry="0.37" fill="#15202b" opacity="0.80"/><ellipse cx="106.5" cy="57.3" rx="0.57" ry="0.42" fill="#15202b" opacity="0.71"/><ellipse cx="108.2" cy="53.7" rx="0.42" ry="0.31" fill="#15202b" opacity="0.82"/><ellipse cx="106.8" cy="44.8" rx="0.41" ry="0.31" fill="#15202b" opacity="0.83"/><ellipse cx="115.4" cy="60.8" rx="0.66" ry="0.49" fill="#15202b" opacity="0.70"/><ellipse cx="105.2" cy="56.0" rx="0.47" ry="0.34" fill="#15202b" opacity="0.62"/><ellipse cx="114.1" cy="51.9" rx="0.38" ry="0.28" fill="#15202b" opacity="0.68"/><ellipse cx="118.0" cy="42.5" rx="0.43" ry="0.32" fill="#15202b" opacity="0.66"/><ellipse cx="107.6" cy="54.5" rx="0.38" ry="0.28" fill="#15202b" opacity="0.92"/><ellipse cx="111.8" cy="61.9" rx="0.35" ry="0.26" fill="#15202b" opacity="0.74"/><ellipse cx="113.3" cy="66.0" rx="0.39" ry="0.29" fill="#15202b" opacity="0.73"/><ellipse cx="116.8" cy="65.7" rx="0.38" ry="0.28" fill="#15202b" opacity="0.77"/><ellipse cx="115.5" cy="53.4" rx="0.56" ry="0.41" fill="#15202b" opacity="0.82"/><ellipse cx="118.4" cy="57.9" rx="0.56" ry="0.42" fill="#15202b" opacity="0.69"/><ellipse cx="115.1" cy="51.4" rx="0.49" ry="0.36" fill="#15202b" opacity="0.69"/><ellipse cx="109.1" cy="46.1" rx="0.38" ry="0.28" fill="#15202b" opacity="0.77"/><ellipse cx="108.3" cy="43.6" rx="0.61" ry="0.45" fill="#15202b" opacity="0.66"/><ellipse cx="117.9" cy="59.1" rx="0.44" ry="0.33" fill="#15202b" opacity="0.90"/><ellipse cx="117.4" cy="51.3" rx="0.34" ry="0.25" fill="#15202b" opacity="0.81"/><ellipse cx="116.6" cy="59.4" rx="0.60" ry="0.45" fill="#15202b" opacity="0.71"/><ellipse cx="113.4" cy="49.7" rx="0.45" ry="0.33" fill="#15202b" opacity="0.70"/><ellipse cx="110.2" cy="53.5" rx="0.61" ry="0.45" fill="#15202b" opacity="0.62"/><ellipse cx="107.7" cy="49.5" rx="0.68" ry="0.50" fill="#15202b" opacity="0.76"/><ellipse cx="105.5" cy="65.8" rx="0.64" ry="0.47" fill="#15202b" opacity="0.88"/><ellipse cx="109.8" cy="62.9" rx="0.41" ry="0.30" fill="#15202b" opacity="0.60"/><ellipse cx="116.9" cy="65.7" rx="0.37" ry="0.28" fill="#15202b" opacity="0.90"/><ellipse cx="105.1" cy="51.0" rx="0.29" ry="0.22" fill="#15202b" opacity="0.62"/><ellipse cx="107.1" cy="62.4" rx="0.41" ry="0.30" fill="#15202b" opacity="0.63"/><ellipse cx="107.4" cy="51.1" rx="0.63" ry="0.47" fill="#15202b" opacity="0.79"/><ellipse cx="106.2" cy="61.5" rx="0.50" ry="0.37" fill="#15202b" opacity="0.73"/><ellipse cx="112.2" cy="60.6" rx="0.61" ry="0.45" fill="#15202b" opacity="0.75"/><ellipse cx="113.7" cy="55.4" rx="0.54" ry="0.40" fill="#15202b" opacity="0.71"/><ellipse cx="110.6" cy="56.8" rx="0.58" ry="0.43" fill="#15202b" opacity="0.66"/><ellipse cx="117.7" cy="56.1" rx="0.63" ry="0.47" fill="#15202b" opacity="0.83"/><ellipse cx="118.2" cy="61.5" rx="0.46" ry="0.34" fill="#15202b" opacity="0.71"/><ellipse cx="113.3" cy="63.5" rx="0.63" ry="0.46" fill="#15202b" opacity="0.60"/><ellipse cx="105.7" cy="45.3" rx="0.32" ry="0.24" fill="#15202b" opacity="0.57"/><ellipse cx="104.9" cy="49.3" rx="0.33" ry="0.25" fill="#15202b" opacity="0.82"/><ellipse cx="113.4" cy="69.4" rx="0.67" ry="0.50" fill="#15202b" opacity="0.85"/><ellipse cx="118.1" cy="43.1" rx="0.38" ry="0.28" fill="#15202b" opacity="0.92"/><ellipse cx="111.5" cy="48.1" rx="0.59" ry="0.44" fill="#15202b" opacity="0.72"/><ellipse cx="112.4" cy="51.2" rx="0.38" ry="0.28" fill="#15202b" opacity="0.58"/><ellipse cx="113.3" cy="69.1" rx="0.68" ry="0.51" fill="#15202b" opacity="0.86"/><ellipse cx="117.9" cy="52.5" rx="0.41" ry="0.30" fill="#15202b" opacity="0.92"/><ellipse cx="113.2" cy="61.1" rx="0.29" ry="0.22" fill="#15202b" opacity="0.64"/><ellipse cx="111.6" cy="62.8" rx="0.62" ry="0.46" fill="#15202b" opacity="0.85"/><ellipse cx="109.6" cy="53.0" rx="0.63" ry="0.47" fill="#15202b" opacity="0.95"/><ellipse cx="111.6" cy="47.8" rx="0.54" ry="0.40" fill="#15202b" opacity="0.76"/><ellipse cx="109.9" cy="48.8" rx="0.44" ry="0.33" fill="#15202b" opacity="0.79"/><ellipse cx="106.6" cy="57.5" rx="0.67" ry="0.50" fill="#15202b" opacity="0.85"/><ellipse cx="108.3" cy="54.1" rx="0.33" ry="0.24" fill="#15202b" opacity="0.84"/><ellipse cx="113.6" cy="47.2" rx="0.51" ry="0.38" fill="#15202b" opacity="0.79"/><ellipse cx="112.9" cy="52.9" rx="0.41" ry="0.30" fill="#15202b" opacity="0.69"/><ellipse cx="118.8" cy="51.6" rx="0.49" ry="0.36" fill="#15202b" opacity="0.73"/><ellipse cx="107.2" cy="53.5" rx="0.37" ry="0.27" fill="#15202b" opacity="0.68"/><ellipse cx="109.9" cy="52.1" rx="0.67" ry="0.49" fill="#15202b" opacity="0.67"/><ellipse cx="109.5" cy="60.8" rx="0.45" ry="0.33" fill="#15202b" opacity="0.76"/><ellipse cx="113.9" cy="44.4" rx="0.56" ry="0.41" fill="#15202b" opacity="0.59"/><ellipse cx="108.3" cy="65.1" rx="0.69" ry="0.51" fill="#15202b" opacity="0.82"/><ellipse cx="107.2" cy="54.6" rx="0.40" ry="0.30" fill="#15202b" opacity="0.89"/><ellipse cx="108.1" cy="47.8" rx="0.54" ry="0.40" fill="#15202b" opacity="0.80"/><ellipse cx="113.1" cy="55.8" rx="0.67" ry="0.50" fill="#15202b" opacity="0.73"/><ellipse cx="117.9" cy="53.3" rx="0.47" ry="0.35" fill="#15202b" opacity="0.69"/><ellipse cx="114.8" cy="63.4" rx="0.38" ry="0.28" fill="#15202b" opacity="0.76"/><ellipse cx="115.0" cy="56.4" rx="0.55" ry="0.41" fill="#15202b" opacity="0.80"/><ellipse cx="114.8" cy="52.3" rx="0.41" ry="0.30" fill="#15202b" opacity="0.56"/><ellipse cx="117.3" cy="64.5" rx="0.44" ry="0.33" fill="#15202b" opacity="0.94"/><ellipse cx="117.4" cy="46.6" rx="0.62" ry="0.46" fill="#15202b" opacity="0.72"/><ellipse cx="109.2" cy="49.6" rx="0.45" ry="0.34" fill="#15202b" opacity="0.57"/><ellipse cx="105.5" cy="45.6" rx="0.41" ry="0.30" fill="#15202b" opacity="0.61"/><ellipse cx="106.5" cy="65.7" rx="0.44" ry="0.33" fill="#15202b" opacity="0.75"/><ellipse cx="113.2" cy="68.5" rx="0.35" ry="0.26" fill="#15202b" opacity="0.64"/><ellipse cx="116.8" cy="67.9" rx="0.66" ry="0.49" fill="#15202b" opacity="0.76"/><ellipse cx="109.9" cy="47.6" rx="0.65" ry="0.48" fill="#15202b" opacity="0.86"/><ellipse cx="112.5" cy="64.5" rx="0.39" ry="0.29" fill="#15202b" opacity="0.76"/><ellipse cx="117.5" cy="45.4" rx="0.54" ry="0.40" fill="#15202b" opacity="0.62"/><ellipse cx="116.5" cy="65.9" rx="0.55" ry="0.40" fill="#15202b" opacity="0.72"/><ellipse cx="105.1" cy="56.2" rx="0.43" ry="0.32" fill="#15202b" opacity="0.71"/><ellipse cx="105.9" cy="68.2" rx="0.50" ry="0.37" fill="#15202b" opacity="0.77"/><ellipse cx="116.6" cy="67.5" rx="0.51" ry="0.38" fill="#15202b" opacity="0.77"/><ellipse cx="116.7" cy="52.8" rx="0.65" ry="0.48" fill="#15202b" opacity="0.56"/><ellipse cx="115.9" cy="57.1" rx="0.54" ry="0.40" fill="#15202b" opacity="0.95"/><ellipse cx="107.9" cy="53.7" rx="0.61" ry="0.45" fill="#15202b" opacity="0.85"/><ellipse cx="112.1" cy="64.1" rx="0.56" ry="0.41" fill="#15202b" opacity="0.90"/><ellipse cx="113.9" cy="52.5" rx="0.40" ry="0.30" fill="#15202b" opacity="0.58"/><ellipse cx="106.5" cy="43.5" rx="0.68" ry="0.50" fill="#15202b" opacity="0.61"/><ellipse cx="113.2" cy="46.1" rx="0.68" ry="0.50" fill="#15202b" opacity="0.76"/><ellipse cx="107.3" cy="65.5" rx="0.63" ry="0.47" fill="#15202b" opacity="0.94"/></g>
<path d="M118.8 54.6 L151.2 50.6 L151.2 66.4 L118.8 70.4 Z" fill="#849fba"/>
<g clip-path="url(#fc3)"><ellipse cx="127.2" cy="64.2" rx="0.65" ry="0.43" fill="#cfe6f7" opacity="0.85"/><ellipse cx="146.3" cy="54.3" rx="0.44" ry="0.29" fill="#cfe6f7" opacity="0.85"/><ellipse cx="123.6" cy="55.1" rx="0.67" ry="0.45" fill="#cfe6f7" opacity="0.85"/><ellipse cx="123.0" cy="61.1" rx="0.43" ry="0.29" fill="#cfe6f7" opacity="0.85"/><ellipse cx="128.3" cy="59.1" rx="0.72" ry="0.48" fill="#cfe6f7" opacity="0.85"/><ellipse cx="138.5" cy="50.9" rx="0.46" ry="0.30" fill="#cfe6f7" opacity="0.85"/><ellipse cx="123.6" cy="67.9" rx="0.70" ry="0.47" fill="#cfe6f7" opacity="0.85"/><ellipse cx="144.9" cy="67.0" rx="0.67" ry="0.45" fill="#cfe6f7" opacity="0.85"/><ellipse cx="149.6" cy="66.3" rx="0.45" ry="0.30" fill="#cfe6f7" opacity="0.85"/><ellipse cx="146.3" cy="60.2" rx="0.68" ry="0.45" fill="#cfe6f7" opacity="0.85"/><ellipse cx="137.1" cy="59.1" rx="0.50" ry="0.33" fill="#cfe6f7" opacity="0.85"/><ellipse cx="132.7" cy="56.8" rx="0.38" ry="0.26" fill="#cfe6f7" opacity="0.85"/><ellipse cx="145.4" cy="66.4" rx="0.79" ry="0.52" fill="#cfe6f7" opacity="0.85"/><ellipse cx="141.2" cy="61.6" rx="0.68" ry="0.45" fill="#cfe6f7" opacity="0.85"/><ellipse cx="123.2" cy="64.0" rx="0.53" ry="0.36" fill="#cfe6f7" opacity="0.85"/><ellipse cx="124.5" cy="54.6" rx="0.57" ry="0.38" fill="#cfe6f7" opacity="0.85"/><ellipse cx="127.0" cy="59.7" rx="0.61" ry="0.41" fill="#cfe6f7" opacity="0.85"/><ellipse cx="131.6" cy="53.2" rx="0.56" ry="0.37" fill="#cfe6f7" opacity="0.85"/><ellipse cx="126.4" cy="55.3" rx="0.42" ry="0.28" fill="#cfe6f7" opacity="0.85"/><ellipse cx="130.7" cy="52.1" rx="0.63" ry="0.42" fill="#cfe6f7" opacity="0.85"/><ellipse cx="149.7" cy="58.3" rx="0.66" ry="0.44" fill="#cfe6f7" opacity="0.85"/><ellipse cx="149.0" cy="51.5" rx="0.40" ry="0.26" fill="#cfe6f7" opacity="0.85"/><ellipse cx="144.9" cy="67.2" rx="0.63" ry="0.42" fill="#cfe6f7" opacity="0.85"/><ellipse cx="124.0" cy="58.8" rx="0.73" ry="0.49" fill="#cfe6f7" opacity="0.85"/><ellipse cx="147.5" cy="66.5" rx="0.42" ry="0.28" fill="#cfe6f7" opacity="0.85"/><ellipse cx="146.5" cy="58.0" rx="0.66" ry="0.44" fill="#cfe6f7" opacity="0.85"/><ellipse cx="123.2" cy="69.8" rx="0.61" ry="0.41" fill="#cfe6f7" opacity="0.85"/><ellipse cx="142.2" cy="54.8" rx="0.62" ry="0.41" fill="#cfe6f7" opacity="0.85"/><ellipse cx="137.6" cy="62.3" rx="0.50" ry="0.33" fill="#cfe6f7" opacity="0.85"/><ellipse cx="142.4" cy="57.4" rx="0.47" ry="0.31" fill="#cfe6f7" opacity="0.85"/><ellipse cx="124.1" cy="64.1" rx="0.38" ry="0.25" fill="#cfe6f7" opacity="0.85"/><ellipse cx="126.1" cy="52.0" rx="0.63" ry="0.42" fill="#cfe6f7" opacity="0.85"/><ellipse cx="136.8" cy="61.4" rx="0.35" ry="0.23" fill="#cfe6f7" opacity="0.85"/><ellipse cx="133.0" cy="57.4" rx="0.37" ry="0.25" fill="#cfe6f7" opacity="0.85"/><ellipse cx="118.9" cy="70.4" rx="0.39" ry="0.26" fill="#cfe6f7" opacity="0.85"/><ellipse cx="128.6" cy="55.9" rx="0.61" ry="0.40" fill="#cfe6f7" opacity="0.85"/><ellipse cx="121.3" cy="59.9" rx="0.50" ry="0.33" fill="#cfe6f7" opacity="0.85"/><ellipse cx="145.8" cy="50.7" rx="0.48" ry="0.32" fill="#cfe6f7" opacity="0.85"/><ellipse cx="134.9" cy="69.8" rx="0.57" ry="0.38" fill="#cfe6f7" opacity="0.85"/><ellipse cx="134.2" cy="63.9" rx="0.47" ry="0.31" fill="#cfe6f7" opacity="0.85"/><ellipse cx="119.8" cy="60.5" rx="0.75" ry="0.50" fill="#cfe6f7" opacity="0.85"/><ellipse cx="142.7" cy="55.7" rx="0.65" ry="0.43" fill="#cfe6f7" opacity="0.85"/><ellipse cx="146.3" cy="55.7" rx="0.60" ry="0.40" fill="#cfe6f7" opacity="0.85"/><ellipse cx="130.3" cy="55.4" rx="0.46" ry="0.31" fill="#cfe6f7" opacity="0.85"/><ellipse cx="125.4" cy="57.5" rx="0.35" ry="0.23" fill="#cfe6f7" opacity="0.85"/><ellipse cx="131.7" cy="52.3" rx="0.68" ry="0.45" fill="#cfe6f7" opacity="0.85"/><ellipse cx="138.2" cy="50.7" rx="0.69" ry="0.46" fill="#cfe6f7" opacity="0.85"/><ellipse cx="125.0" cy="60.1" rx="0.59" ry="0.39" fill="#cfe6f7" opacity="0.85"/><ellipse cx="129.6" cy="56.3" rx="0.53" ry="0.35" fill="#cfe6f7" opacity="0.85"/><ellipse cx="123.2" cy="67.7" rx="0.38" ry="0.25" fill="#cfe6f7" opacity="0.85"/><ellipse cx="145.5" cy="54.9" rx="0.47" ry="0.31" fill="#cfe6f7" opacity="0.85"/><ellipse cx="131.4" cy="51.3" rx="0.39" ry="0.26" fill="#cfe6f7" opacity="0.85"/><ellipse cx="130.5" cy="59.3" rx="0.73" ry="0.49" fill="#cfe6f7" opacity="0.85"/><ellipse cx="150.9" cy="51.5" rx="0.58" ry="0.38" fill="#cfe6f7" opacity="0.85"/><ellipse cx="123.0" cy="66.5" rx="0.48" ry="0.32" fill="#cfe6f7" opacity="0.85"/><ellipse cx="147.7" cy="61.4" rx="0.39" ry="0.26" fill="#cfe6f7" opacity="0.85"/><ellipse cx="119.0" cy="55.5" rx="0.73" ry="0.49" fill="#cfe6f7" opacity="0.85"/><ellipse cx="123.7" cy="60.1" rx="0.50" ry="0.33" fill="#cfe6f7" opacity="0.85"/><ellipse cx="130.0" cy="66.5" rx="0.43" ry="0.29" fill="#cfe6f7" opacity="0.85"/><ellipse cx="142.1" cy="63.8" rx="0.76" ry="0.51" fill="#cfe6f7" opacity="0.85"/><ellipse cx="135.6" cy="68.8" rx="0.53" ry="0.36" fill="#cfe6f7" opacity="0.85"/><ellipse cx="137.4" cy="62.9" rx="0.72" ry="0.48" fill="#cfe6f7" opacity="0.85"/><ellipse cx="147.9" cy="52.9" rx="0.39" ry="0.26" fill="#cfe6f7" opacity="0.85"/><ellipse cx="136.1" cy="66.7" rx="0.58" ry="0.38" fill="#cfe6f7" opacity="0.85"/><ellipse cx="128.5" cy="69.6" rx="0.47" ry="0.31" fill="#cfe6f7" opacity="0.85"/><ellipse cx="121.6" cy="51.6" rx="0.34" ry="0.23" fill="#cfe6f7" opacity="0.85"/><ellipse cx="142.4" cy="52.7" rx="0.66" ry="0.44" fill="#cfe6f7" opacity="0.85"/><ellipse cx="146.9" cy="70.4" rx="0.70" ry="0.47" fill="#cfe6f7" opacity="0.85"/><ellipse cx="132.5" cy="62.9" rx="0.71" ry="0.48" fill="#cfe6f7" opacity="0.85"/><ellipse cx="142.0" cy="56.4" rx="0.68" ry="0.45" fill="#cfe6f7" opacity="0.85"/><ellipse cx="122.3" cy="56.7" rx="0.79" ry="0.53" fill="#cfe6f7" opacity="0.85"/><ellipse cx="134.1" cy="55.9" rx="0.69" ry="0.46" fill="#cfe6f7" opacity="0.85"/><ellipse cx="133.4" cy="50.7" rx="0.34" ry="0.23" fill="#cfe6f7" opacity="0.85"/><ellipse cx="127.2" cy="57.2" rx="0.76" ry="0.51" fill="#cfe6f7" opacity="0.85"/><ellipse cx="126.8" cy="67.4" rx="0.72" ry="0.48" fill="#cfe6f7" opacity="0.85"/><ellipse cx="132.3" cy="70.3" rx="0.68" ry="0.45" fill="#cfe6f7" opacity="0.85"/><ellipse cx="134.5" cy="55.8" rx="0.54" ry="0.36" fill="#cfe6f7" opacity="0.85"/><ellipse cx="148.0" cy="61.2" rx="0.42" ry="0.28" fill="#cfe6f7" opacity="0.85"/><ellipse cx="131.0" cy="60.0" rx="0.42" ry="0.28" fill="#cfe6f7" opacity="0.85"/><ellipse cx="137.4" cy="51.3" rx="0.71" ry="0.47" fill="#cfe6f7" opacity="0.85"/><ellipse cx="124.6" cy="52.6" rx="0.60" ry="0.40" fill="#cfe6f7" opacity="0.85"/><ellipse cx="128.8" cy="68.1" rx="0.56" ry="0.37" fill="#cfe6f7" opacity="0.85"/><ellipse cx="135.7" cy="67.1" rx="0.43" ry="0.29" fill="#cfe6f7" opacity="0.85"/><ellipse cx="142.9" cy="63.5" rx="0.53" ry="0.35" fill="#cfe6f7" opacity="0.85"/><ellipse cx="149.9" cy="51.0" rx="0.73" ry="0.49" fill="#cfe6f7" opacity="0.85"/><ellipse cx="123.4" cy="67.2" rx="0.40" ry="0.27" fill="#cfe6f7" opacity="0.85"/><ellipse cx="120.5" cy="60.5" rx="0.76" ry="0.51" fill="#cfe6f7" opacity="0.85"/><ellipse cx="127.1" cy="60.2" rx="0.61" ry="0.41" fill="#cfe6f7" opacity="0.85"/><ellipse cx="126.7" cy="61.1" rx="0.33" ry="0.22" fill="#cfe6f7" opacity="0.85"/><ellipse cx="133.4" cy="65.6" rx="0.49" ry="0.32" fill="#cfe6f7" opacity="0.85"/><ellipse cx="125.9" cy="51.6" rx="0.65" ry="0.44" fill="#cfe6f7" opacity="0.85"/><ellipse cx="132.6" cy="68.7" rx="0.67" ry="0.45" fill="#cfe6f7" opacity="0.85"/><ellipse cx="122.1" cy="68.7" rx="0.76" ry="0.51" fill="#cfe6f7" opacity="0.85"/><ellipse cx="145.3" cy="67.1" rx="0.64" ry="0.43" fill="#cfe6f7" opacity="0.85"/><ellipse cx="142.2" cy="63.8" rx="0.60" ry="0.40" fill="#cfe6f7" opacity="0.85"/><ellipse cx="127.1" cy="53.2" rx="0.67" ry="0.44" fill="#cfe6f7" opacity="0.85"/><ellipse cx="138.1" cy="51.7" rx="0.63" ry="0.42" fill="#cfe6f7" opacity="0.85"/><ellipse cx="138.6" cy="60.7" rx="0.69" ry="0.46" fill="#cfe6f7" opacity="0.85"/><ellipse cx="147.2" cy="58.1" rx="0.71" ry="0.47" fill="#cfe6f7" opacity="0.85"/><ellipse cx="135.0" cy="61.9" rx="0.52" ry="0.35" fill="#cfe6f7" opacity="0.85"/><ellipse cx="149.0" cy="59.4" rx="0.77" ry="0.51" fill="#cfe6f7" opacity="0.85"/><ellipse cx="129.8" cy="63.9" rx="0.75" ry="0.50" fill="#cfe6f7" opacity="0.85"/><ellipse cx="140.9" cy="58.0" rx="0.37" ry="0.24" fill="#cfe6f7" opacity="0.85"/><ellipse cx="134.3" cy="58.8" rx="0.71" ry="0.47" fill="#cfe6f7" opacity="0.85"/><ellipse cx="144.2" cy="70.1" rx="0.54" ry="0.36" fill="#cfe6f7" opacity="0.85"/><ellipse cx="132.1" cy="61.8" rx="0.68" ry="0.45" fill="#cfe6f7" opacity="0.85"/><ellipse cx="121.4" cy="54.9" rx="0.40" ry="0.26" fill="#cfe6f7" opacity="0.85"/><ellipse cx="129.3" cy="56.5" rx="0.78" ry="0.52" fill="#cfe6f7" opacity="0.85"/><ellipse cx="125.5" cy="69.1" rx="0.47" ry="0.31" fill="#cfe6f7" opacity="0.85"/><ellipse cx="125.4" cy="69.9" rx="0.37" ry="0.25" fill="#cfe6f7" opacity="0.85"/><ellipse cx="122.5" cy="53.1" rx="0.36" ry="0.24" fill="#cfe6f7" opacity="0.85"/><ellipse cx="131.3" cy="54.8" rx="0.40" ry="0.27" fill="#cfe6f7" opacity="0.85"/><ellipse cx="119.3" cy="64.4" rx="0.35" ry="0.24" fill="#cfe6f7" opacity="0.85"/><ellipse cx="126.3" cy="61.8" rx="0.74" ry="0.49" fill="#cfe6f7" opacity="0.85"/><ellipse cx="140.2" cy="64.6" rx="0.65" ry="0.44" fill="#cfe6f7" opacity="0.85"/><ellipse cx="144.6" cy="67.5" rx="0.40" ry="0.27" fill="#cfe6f7" opacity="0.85"/><ellipse cx="120.6" cy="62.9" rx="0.57" ry="0.38" fill="#cfe6f7" opacity="0.85"/><ellipse cx="135.7" cy="66.1" rx="0.41" ry="0.27" fill="#cfe6f7" opacity="0.85"/><ellipse cx="141.7" cy="59.0" rx="0.52" ry="0.35" fill="#cfe6f7" opacity="0.85"/><ellipse cx="126.7" cy="56.2" rx="0.60" ry="0.40" fill="#cfe6f7" opacity="0.85"/><ellipse cx="136.7" cy="68.6" rx="0.40" ry="0.30" fill="#15202b" opacity="0.84"/><ellipse cx="121.9" cy="63.5" rx="0.35" ry="0.26" fill="#15202b" opacity="0.89"/><ellipse cx="150.1" cy="55.6" rx="0.61" ry="0.45" fill="#15202b" opacity="0.64"/><ellipse cx="128.7" cy="52.6" rx="0.47" ry="0.34" fill="#15202b" opacity="0.59"/><ellipse cx="141.6" cy="62.0" rx="0.46" ry="0.34" fill="#15202b" opacity="0.83"/><ellipse cx="126.4" cy="57.2" rx="0.43" ry="0.32" fill="#15202b" opacity="0.55"/><ellipse cx="147.5" cy="52.3" rx="0.33" ry="0.24" fill="#15202b" opacity="0.87"/><ellipse cx="145.3" cy="59.5" rx="0.46" ry="0.34" fill="#15202b" opacity="0.61"/><ellipse cx="118.8" cy="60.9" rx="0.39" ry="0.29" fill="#15202b" opacity="0.61"/><ellipse cx="148.1" cy="51.0" rx="0.43" ry="0.32" fill="#15202b" opacity="0.85"/><ellipse cx="143.0" cy="52.7" rx="0.59" ry="0.43" fill="#15202b" opacity="0.78"/><ellipse cx="139.2" cy="69.3" rx="0.61" ry="0.45" fill="#15202b" opacity="0.79"/><ellipse cx="143.7" cy="60.3" rx="0.51" ry="0.38" fill="#15202b" opacity="0.88"/><ellipse cx="138.9" cy="58.1" rx="0.30" ry="0.22" fill="#15202b" opacity="0.87"/><ellipse cx="129.8" cy="59.1" rx="0.40" ry="0.30" fill="#15202b" opacity="0.77"/><ellipse cx="131.8" cy="67.1" rx="0.53" ry="0.39" fill="#15202b" opacity="0.77"/><ellipse cx="144.2" cy="59.3" rx="0.50" ry="0.37" fill="#15202b" opacity="0.85"/><ellipse cx="142.2" cy="65.3" rx="0.65" ry="0.48" fill="#15202b" opacity="0.77"/><ellipse cx="136.8" cy="54.3" rx="0.38" ry="0.28" fill="#15202b" opacity="0.72"/><ellipse cx="135.0" cy="68.4" rx="0.30" ry="0.23" fill="#15202b" opacity="0.69"/><ellipse cx="142.8" cy="59.7" rx="0.63" ry="0.46" fill="#15202b" opacity="0.61"/><ellipse cx="143.8" cy="59.1" rx="0.52" ry="0.38" fill="#15202b" opacity="0.57"/><ellipse cx="131.9" cy="66.5" rx="0.58" ry="0.43" fill="#15202b" opacity="0.78"/><ellipse cx="132.5" cy="51.4" rx="0.57" ry="0.42" fill="#15202b" opacity="0.73"/><ellipse cx="142.3" cy="62.7" rx="0.45" ry="0.33" fill="#15202b" opacity="0.90"/><ellipse cx="123.1" cy="69.6" rx="0.32" ry="0.24" fill="#15202b" opacity="0.94"/><ellipse cx="137.8" cy="59.5" rx="0.66" ry="0.49" fill="#15202b" opacity="0.75"/><ellipse cx="135.3" cy="51.8" rx="0.61" ry="0.45" fill="#15202b" opacity="0.81"/><ellipse cx="126.6" cy="52.9" rx="0.46" ry="0.34" fill="#15202b" opacity="0.92"/><ellipse cx="147.0" cy="59.8" rx="0.30" ry="0.22" fill="#15202b" opacity="0.88"/><ellipse cx="125.3" cy="65.1" rx="0.49" ry="0.36" fill="#15202b" opacity="0.94"/><ellipse cx="123.6" cy="66.3" rx="0.58" ry="0.43" fill="#15202b" opacity="0.56"/><ellipse cx="137.1" cy="56.4" rx="0.57" ry="0.42" fill="#15202b" opacity="0.93"/><ellipse cx="140.4" cy="60.4" rx="0.53" ry="0.39" fill="#15202b" opacity="0.65"/><ellipse cx="134.0" cy="52.9" rx="0.58" ry="0.43" fill="#15202b" opacity="0.58"/><ellipse cx="135.9" cy="54.2" rx="0.51" ry="0.38" fill="#15202b" opacity="0.57"/><ellipse cx="119.7" cy="63.0" rx="0.58" ry="0.43" fill="#15202b" opacity="0.91"/><ellipse cx="140.7" cy="70.3" rx="0.34" ry="0.25" fill="#15202b" opacity="0.80"/><ellipse cx="139.4" cy="54.1" rx="0.34" ry="0.25" fill="#15202b" opacity="0.65"/><ellipse cx="135.8" cy="66.2" rx="0.57" ry="0.42" fill="#15202b" opacity="0.78"/><ellipse cx="121.3" cy="64.9" rx="0.49" ry="0.36" fill="#15202b" opacity="0.62"/><ellipse cx="138.8" cy="55.5" rx="0.41" ry="0.30" fill="#15202b" opacity="0.73"/><ellipse cx="143.1" cy="52.7" rx="0.47" ry="0.34" fill="#15202b" opacity="0.64"/><ellipse cx="140.5" cy="66.8" rx="0.39" ry="0.29" fill="#15202b" opacity="0.84"/><ellipse cx="133.8" cy="54.9" rx="0.40" ry="0.29" fill="#15202b" opacity="0.77"/><ellipse cx="144.9" cy="62.5" rx="0.29" ry="0.21" fill="#15202b" opacity="0.86"/><ellipse cx="137.6" cy="59.0" rx="0.38" ry="0.28" fill="#15202b" opacity="0.73"/><ellipse cx="141.2" cy="56.0" rx="0.34" ry="0.25" fill="#15202b" opacity="0.90"/><ellipse cx="133.1" cy="52.0" rx="0.65" ry="0.48" fill="#15202b" opacity="0.59"/><ellipse cx="130.6" cy="62.9" rx="0.55" ry="0.41" fill="#15202b" opacity="0.91"/><ellipse cx="124.5" cy="61.9" rx="0.64" ry="0.47" fill="#15202b" opacity="0.74"/><ellipse cx="142.0" cy="59.8" rx="0.58" ry="0.43" fill="#15202b" opacity="0.93"/><ellipse cx="129.8" cy="65.2" rx="0.43" ry="0.32" fill="#15202b" opacity="0.91"/><ellipse cx="143.6" cy="67.6" rx="0.64" ry="0.47" fill="#15202b" opacity="0.79"/><ellipse cx="149.6" cy="53.7" rx="0.52" ry="0.38" fill="#15202b" opacity="0.58"/><ellipse cx="137.7" cy="64.2" rx="0.40" ry="0.30" fill="#15202b" opacity="0.87"/><ellipse cx="132.3" cy="54.5" rx="0.37" ry="0.27" fill="#15202b" opacity="0.78"/><ellipse cx="131.2" cy="51.5" rx="0.41" ry="0.30" fill="#15202b" opacity="0.94"/><ellipse cx="134.1" cy="64.1" rx="0.46" ry="0.34" fill="#15202b" opacity="0.58"/><ellipse cx="138.6" cy="54.8" rx="0.34" ry="0.25" fill="#15202b" opacity="0.80"/><ellipse cx="140.7" cy="50.8" rx="0.67" ry="0.49" fill="#15202b" opacity="0.56"/><ellipse cx="124.2" cy="57.1" rx="0.61" ry="0.45" fill="#15202b" opacity="0.85"/><ellipse cx="142.9" cy="59.1" rx="0.65" ry="0.48" fill="#15202b" opacity="0.60"/><ellipse cx="149.9" cy="51.6" rx="0.35" ry="0.26" fill="#15202b" opacity="0.85"/><ellipse cx="143.7" cy="63.9" rx="0.39" ry="0.29" fill="#15202b" opacity="0.90"/><ellipse cx="135.5" cy="54.7" rx="0.33" ry="0.24" fill="#15202b" opacity="0.95"/><ellipse cx="120.6" cy="55.0" rx="0.43" ry="0.32" fill="#15202b" opacity="0.91"/><ellipse cx="145.7" cy="67.3" rx="0.54" ry="0.40" fill="#15202b" opacity="0.55"/><ellipse cx="142.7" cy="54.4" rx="0.67" ry="0.49" fill="#15202b" opacity="0.94"/><ellipse cx="120.9" cy="65.1" rx="0.38" ry="0.28" fill="#15202b" opacity="0.59"/><ellipse cx="147.1" cy="59.4" rx="0.41" ry="0.30" fill="#15202b" opacity="0.77"/><ellipse cx="120.9" cy="59.0" rx="0.55" ry="0.41" fill="#15202b" opacity="0.90"/><ellipse cx="122.8" cy="68.3" rx="0.33" ry="0.24" fill="#15202b" opacity="0.63"/><ellipse cx="129.6" cy="53.9" rx="0.32" ry="0.24" fill="#15202b" opacity="0.81"/><ellipse cx="131.7" cy="54.4" rx="0.49" ry="0.37" fill="#15202b" opacity="0.60"/><ellipse cx="140.9" cy="69.7" rx="0.48" ry="0.35" fill="#15202b" opacity="0.72"/><ellipse cx="131.7" cy="57.9" rx="0.45" ry="0.34" fill="#15202b" opacity="0.62"/><ellipse cx="128.4" cy="64.3" rx="0.48" ry="0.36" fill="#15202b" opacity="0.58"/><ellipse cx="123.5" cy="67.3" rx="0.43" ry="0.32" fill="#15202b" opacity="0.88"/><ellipse cx="138.8" cy="63.0" rx="0.43" ry="0.32" fill="#15202b" opacity="0.78"/><ellipse cx="132.2" cy="60.8" rx="0.67" ry="0.49" fill="#15202b" opacity="0.59"/><ellipse cx="125.7" cy="68.5" rx="0.66" ry="0.49" fill="#15202b" opacity="0.88"/><ellipse cx="146.7" cy="52.7" rx="0.58" ry="0.43" fill="#15202b" opacity="0.60"/><ellipse cx="146.3" cy="58.4" rx="0.48" ry="0.36" fill="#15202b" opacity="0.76"/><ellipse cx="125.5" cy="61.8" rx="0.63" ry="0.47" fill="#15202b" opacity="0.73"/><ellipse cx="133.0" cy="57.9" rx="0.36" ry="0.27" fill="#15202b" opacity="0.66"/><ellipse cx="145.9" cy="69.7" rx="0.44" ry="0.32" fill="#15202b" opacity="0.66"/><ellipse cx="129.7" cy="67.7" rx="0.39" ry="0.29" fill="#15202b" opacity="0.62"/><ellipse cx="129.0" cy="52.3" rx="0.35" ry="0.26" fill="#15202b" opacity="0.64"/><ellipse cx="139.9" cy="69.0" rx="0.39" ry="0.29" fill="#15202b" opacity="0.67"/><ellipse cx="137.8" cy="51.2" rx="0.32" ry="0.24" fill="#15202b" opacity="0.78"/><ellipse cx="133.9" cy="57.6" rx="0.45" ry="0.34" fill="#15202b" opacity="0.56"/><ellipse cx="127.2" cy="54.1" rx="0.38" ry="0.28" fill="#15202b" opacity="0.58"/><ellipse cx="145.2" cy="50.9" rx="0.45" ry="0.34" fill="#15202b" opacity="0.62"/><ellipse cx="125.4" cy="65.6" rx="0.67" ry="0.50" fill="#15202b" opacity="0.94"/><ellipse cx="129.5" cy="61.3" rx="0.46" ry="0.34" fill="#15202b" opacity="0.58"/><ellipse cx="132.5" cy="62.7" rx="0.45" ry="0.33" fill="#15202b" opacity="0.86"/><ellipse cx="133.3" cy="56.4" rx="0.65" ry="0.48" fill="#15202b" opacity="0.78"/><ellipse cx="127.1" cy="68.5" rx="0.48" ry="0.36" fill="#15202b" opacity="0.79"/><ellipse cx="134.0" cy="67.6" rx="0.58" ry="0.43" fill="#15202b" opacity="0.73"/><ellipse cx="130.6" cy="65.9" rx="0.62" ry="0.46" fill="#15202b" opacity="0.79"/><ellipse cx="147.1" cy="61.0" rx="0.45" ry="0.34" fill="#15202b" opacity="0.68"/><ellipse cx="127.5" cy="53.6" rx="0.66" ry="0.49" fill="#15202b" opacity="0.77"/><ellipse cx="121.5" cy="54.7" rx="0.46" ry="0.34" fill="#15202b" opacity="0.87"/><ellipse cx="146.5" cy="65.6" rx="0.41" ry="0.30" fill="#15202b" opacity="0.72"/><ellipse cx="149.5" cy="58.3" rx="0.55" ry="0.41" fill="#15202b" opacity="0.57"/><ellipse cx="134.3" cy="60.6" rx="0.65" ry="0.48" fill="#15202b" opacity="0.93"/><ellipse cx="143.2" cy="57.2" rx="0.64" ry="0.47" fill="#15202b" opacity="0.92"/><ellipse cx="121.3" cy="59.0" rx="0.51" ry="0.38" fill="#15202b" opacity="0.67"/><ellipse cx="126.6" cy="66.1" rx="0.37" ry="0.27" fill="#15202b" opacity="0.77"/><ellipse cx="119.4" cy="59.7" rx="0.68" ry="0.50" fill="#15202b" opacity="0.55"/><ellipse cx="122.3" cy="68.4" rx="0.66" ry="0.48" fill="#15202b" opacity="0.75"/><ellipse cx="128.4" cy="56.5" rx="0.58" ry="0.43" fill="#15202b" opacity="0.78"/><ellipse cx="133.3" cy="64.3" rx="0.33" ry="0.24" fill="#15202b" opacity="0.71"/><ellipse cx="147.3" cy="68.7" rx="0.48" ry="0.36" fill="#15202b" opacity="0.86"/><ellipse cx="147.5" cy="60.9" rx="0.35" ry="0.26" fill="#15202b" opacity="0.59"/><ellipse cx="140.5" cy="57.4" rx="0.50" ry="0.37" fill="#15202b" opacity="0.57"/><ellipse cx="149.5" cy="56.1" rx="0.54" ry="0.40" fill="#15202b" opacity="0.80"/><ellipse cx="130.3" cy="54.7" rx="0.51" ry="0.38" fill="#15202b" opacity="0.68"/><ellipse cx="121.3" cy="54.1" rx="0.30" ry="0.22" fill="#15202b" opacity="0.91"/><ellipse cx="125.4" cy="68.8" rx="0.54" ry="0.40" fill="#15202b" opacity="0.93"/><ellipse cx="134.0" cy="55.7" rx="0.32" ry="0.24" fill="#15202b" opacity="0.80"/><ellipse cx="141.3" cy="64.0" rx="0.65" ry="0.48" fill="#15202b" opacity="0.59"/><ellipse cx="139.7" cy="64.5" rx="0.67" ry="0.49" fill="#15202b" opacity="0.65"/><ellipse cx="149.0" cy="51.1" rx="0.52" ry="0.39" fill="#15202b" opacity="0.68"/><ellipse cx="135.6" cy="54.0" rx="0.44" ry="0.33" fill="#15202b" opacity="0.69"/><ellipse cx="133.8" cy="58.6" rx="0.38" ry="0.28" fill="#15202b" opacity="0.62"/><ellipse cx="133.9" cy="70.2" rx="0.63" ry="0.46" fill="#15202b" opacity="0.61"/><ellipse cx="139.3" cy="53.5" rx="0.42" ry="0.31" fill="#15202b" opacity="0.95"/><ellipse cx="129.8" cy="52.6" rx="0.51" ry="0.38" fill="#15202b" opacity="0.78"/><ellipse cx="135.3" cy="69.4" rx="0.49" ry="0.37" fill="#15202b" opacity="0.70"/><ellipse cx="125.6" cy="62.1" rx="0.59" ry="0.43" fill="#15202b" opacity="0.75"/><ellipse cx="131.5" cy="55.6" rx="0.63" ry="0.46" fill="#15202b" opacity="0.95"/><ellipse cx="137.8" cy="64.7" rx="0.42" ry="0.31" fill="#15202b" opacity="0.61"/><ellipse cx="120.6" cy="62.8" rx="0.66" ry="0.49" fill="#15202b" opacity="0.83"/><ellipse cx="140.6" cy="67.6" rx="0.45" ry="0.34" fill="#15202b" opacity="0.72"/><ellipse cx="127.2" cy="67.1" rx="0.57" ry="0.42" fill="#15202b" opacity="0.76"/><ellipse cx="144.0" cy="68.7" rx="0.31" ry="0.23" fill="#15202b" opacity="0.64"/><ellipse cx="134.0" cy="64.7" rx="0.38" ry="0.28" fill="#15202b" opacity="0.73"/><ellipse cx="140.3" cy="56.4" rx="0.56" ry="0.41" fill="#15202b" opacity="0.57"/><ellipse cx="132.2" cy="63.2" rx="0.64" ry="0.47" fill="#15202b" opacity="0.75"/><ellipse cx="140.3" cy="63.7" rx="0.55" ry="0.41" fill="#15202b" opacity="0.73"/><ellipse cx="129.1" cy="53.1" rx="0.64" ry="0.48" fill="#15202b" opacity="0.86"/><ellipse cx="139.9" cy="65.5" rx="0.41" ry="0.31" fill="#15202b" opacity="0.62"/><ellipse cx="136.0" cy="59.9" rx="0.55" ry="0.41" fill="#15202b" opacity="0.90"/><ellipse cx="131.5" cy="58.0" rx="0.57" ry="0.42" fill="#15202b" opacity="0.90"/><ellipse cx="137.1" cy="62.4" rx="0.65" ry="0.48" fill="#15202b" opacity="0.92"/><ellipse cx="120.3" cy="69.9" rx="0.33" ry="0.24" fill="#15202b" opacity="0.77"/><ellipse cx="135.0" cy="70.0" rx="0.38" ry="0.28" fill="#15202b" opacity="0.57"/><ellipse cx="149.9" cy="59.6" rx="0.47" ry="0.35" fill="#15202b" opacity="0.72"/><ellipse cx="127.8" cy="51.2" rx="0.51" ry="0.38" fill="#15202b" opacity="0.64"/><ellipse cx="135.0" cy="70.3" rx="0.68" ry="0.51" fill="#15202b" opacity="0.67"/><ellipse cx="129.6" cy="53.0" rx="0.53" ry="0.39" fill="#15202b" opacity="0.62"/><ellipse cx="122.9" cy="68.7" rx="0.51" ry="0.38" fill="#15202b" opacity="0.91"/><ellipse cx="125.8" cy="54.1" rx="0.52" ry="0.38" fill="#15202b" opacity="0.83"/><ellipse cx="124.6" cy="60.5" rx="0.51" ry="0.38" fill="#15202b" opacity="0.75"/><ellipse cx="129.0" cy="59.4" rx="0.33" ry="0.25" fill="#15202b" opacity="0.59"/><ellipse cx="120.7" cy="67.1" rx="0.39" ry="0.29" fill="#15202b" opacity="0.82"/><ellipse cx="122.5" cy="68.1" rx="0.30" ry="0.22" fill="#15202b" opacity="0.87"/><ellipse cx="136.0" cy="68.6" rx="0.65" ry="0.48" fill="#15202b" opacity="0.55"/><ellipse cx="120.4" cy="55.5" rx="0.31" ry="0.23" fill="#15202b" opacity="0.90"/><ellipse cx="123.5" cy="64.0" rx="0.67" ry="0.49" fill="#15202b" opacity="0.83"/><ellipse cx="151.0" cy="63.4" rx="0.44" ry="0.33" fill="#15202b" opacity="0.94"/><ellipse cx="125.8" cy="61.6" rx="0.45" ry="0.34" fill="#15202b" opacity="0.77"/><ellipse cx="128.5" cy="69.6" rx="0.69" ry="0.51" fill="#15202b" opacity="0.83"/><ellipse cx="134.9" cy="69.4" rx="0.67" ry="0.49" fill="#15202b" opacity="0.57"/><ellipse cx="147.5" cy="52.7" rx="0.33" ry="0.24" fill="#15202b" opacity="0.65"/><ellipse cx="130.8" cy="60.2" rx="0.67" ry="0.50" fill="#15202b" opacity="0.61"/><ellipse cx="139.8" cy="60.6" rx="0.34" ry="0.25" fill="#15202b" opacity="0.95"/><ellipse cx="148.5" cy="57.4" rx="0.64" ry="0.47" fill="#15202b" opacity="0.73"/><ellipse cx="140.6" cy="69.0" rx="0.54" ry="0.40" fill="#15202b" opacity="0.69"/><ellipse cx="120.5" cy="59.8" rx="0.52" ry="0.38" fill="#15202b" opacity="0.66"/><ellipse cx="137.5" cy="50.9" rx="0.39" ry="0.29" fill="#15202b" opacity="0.74"/><ellipse cx="134.4" cy="64.6" rx="0.38" ry="0.28" fill="#15202b" opacity="0.66"/><ellipse cx="142.5" cy="56.2" rx="0.35" ry="0.26" fill="#15202b" opacity="0.80"/><ellipse cx="130.1" cy="62.3" rx="0.68" ry="0.50" fill="#15202b" opacity="0.94"/><ellipse cx="144.4" cy="69.9" rx="0.61" ry="0.45" fill="#15202b" opacity="0.69"/><ellipse cx="149.0" cy="53.1" rx="0.37" ry="0.27" fill="#15202b" opacity="0.75"/><ellipse cx="122.8" cy="62.5" rx="0.51" ry="0.37" fill="#15202b" opacity="0.63"/><ellipse cx="142.9" cy="52.3" rx="0.48" ry="0.36" fill="#15202b" opacity="0.66"/><ellipse cx="149.2" cy="53.5" rx="0.44" ry="0.33" fill="#15202b" opacity="0.84"/><ellipse cx="128.6" cy="67.0" rx="0.33" ry="0.25" fill="#15202b" opacity="0.58"/><ellipse cx="119.2" cy="61.6" rx="0.48" ry="0.36" fill="#15202b" opacity="0.76"/><ellipse cx="134.1" cy="68.0" rx="0.37" ry="0.28" fill="#15202b" opacity="0.61"/><ellipse cx="126.8" cy="67.1" rx="0.61" ry="0.45" fill="#15202b" opacity="0.60"/><ellipse cx="118.8" cy="70.2" rx="0.68" ry="0.50" fill="#15202b" opacity="0.66"/><ellipse cx="136.0" cy="51.5" rx="0.49" ry="0.36" fill="#15202b" opacity="0.62"/><ellipse cx="140.9" cy="53.7" rx="0.51" ry="0.38" fill="#15202b" opacity="0.68"/><ellipse cx="134.4" cy="69.4" rx="0.50" ry="0.37" fill="#15202b" opacity="0.94"/><ellipse cx="142.1" cy="55.1" rx="0.39" ry="0.29" fill="#15202b" opacity="0.88"/><ellipse cx="144.0" cy="53.4" rx="0.61" ry="0.45" fill="#15202b" opacity="0.67"/><ellipse cx="137.2" cy="68.3" rx="0.66" ry="0.49" fill="#15202b" opacity="0.62"/><ellipse cx="123.4" cy="55.9" rx="0.53" ry="0.39" fill="#15202b" opacity="0.94"/><ellipse cx="140.0" cy="65.7" rx="0.62" ry="0.46" fill="#15202b" opacity="0.74"/><ellipse cx="131.0" cy="66.4" rx="0.54" ry="0.40" fill="#15202b" opacity="0.90"/><ellipse cx="151.1" cy="59.8" rx="0.43" ry="0.31" fill="#15202b" opacity="0.60"/><ellipse cx="137.7" cy="56.8" rx="0.41" ry="0.31" fill="#15202b" opacity="0.75"/><ellipse cx="142.4" cy="64.1" rx="0.47" ry="0.35" fill="#15202b" opacity="0.81"/><ellipse cx="139.1" cy="68.7" rx="0.56" ry="0.42" fill="#15202b" opacity="0.89"/><ellipse cx="126.6" cy="67.5" rx="0.29" ry="0.21" fill="#15202b" opacity="0.88"/><ellipse cx="119.3" cy="62.7" rx="0.40" ry="0.29" fill="#15202b" opacity="0.62"/><ellipse cx="142.9" cy="53.3" rx="0.56" ry="0.41" fill="#15202b" opacity="0.58"/><ellipse cx="125.5" cy="58.4" rx="0.52" ry="0.38" fill="#15202b" opacity="0.81"/><ellipse cx="130.5" cy="67.8" rx="0.30" ry="0.22" fill="#15202b" opacity="0.63"/><ellipse cx="131.5" cy="62.7" rx="0.55" ry="0.41" fill="#15202b" opacity="0.90"/><ellipse cx="130.1" cy="63.3" rx="0.57" ry="0.42" fill="#15202b" opacity="0.61"/><ellipse cx="130.7" cy="59.4" rx="0.53" ry="0.39" fill="#15202b" opacity="0.76"/><ellipse cx="123.3" cy="54.6" rx="0.42" ry="0.31" fill="#15202b" opacity="0.58"/><ellipse cx="143.8" cy="68.3" rx="0.58" ry="0.43" fill="#15202b" opacity="0.64"/><ellipse cx="137.8" cy="51.2" rx="0.37" ry="0.28" fill="#15202b" opacity="0.65"/><ellipse cx="138.2" cy="62.1" rx="0.51" ry="0.37" fill="#15202b" opacity="0.61"/><ellipse cx="135.1" cy="65.4" rx="0.64" ry="0.47" fill="#15202b" opacity="0.70"/><ellipse cx="133.3" cy="67.8" rx="0.31" ry="0.23" fill="#15202b" opacity="0.79"/><ellipse cx="122.1" cy="66.5" rx="0.56" ry="0.41" fill="#15202b" opacity="0.58"/><ellipse cx="120.2" cy="69.2" rx="0.41" ry="0.30" fill="#15202b" opacity="0.78"/><ellipse cx="137.6" cy="58.2" rx="0.33" ry="0.24" fill="#15202b" opacity="0.84"/><ellipse cx="129.6" cy="59.1" rx="0.61" ry="0.45" fill="#15202b" opacity="0.93"/><ellipse cx="128.1" cy="57.2" rx="0.60" ry="0.44" fill="#15202b" opacity="0.73"/><ellipse cx="147.7" cy="58.0" rx="0.31" ry="0.23" fill="#15202b" opacity="0.66"/><ellipse cx="147.9" cy="62.1" rx="0.68" ry="0.50" fill="#15202b" opacity="0.88"/><ellipse cx="140.9" cy="54.1" rx="0.45" ry="0.34" fill="#15202b" opacity="0.56"/><ellipse cx="129.6" cy="54.9" rx="0.66" ry="0.49" fill="#15202b" opacity="0.61"/><ellipse cx="130.0" cy="51.1" rx="0.35" ry="0.26" fill="#15202b" opacity="0.83"/><ellipse cx="131.9" cy="60.6" rx="0.62" ry="0.46" fill="#15202b" opacity="0.83"/><ellipse cx="125.7" cy="65.4" rx="0.56" ry="0.42" fill="#15202b" opacity="0.79"/><ellipse cx="135.0" cy="68.7" rx="0.53" ry="0.39" fill="#15202b" opacity="0.57"/><ellipse cx="146.0" cy="63.7" rx="0.39" ry="0.29" fill="#15202b" opacity="0.86"/><ellipse cx="149.0" cy="65.1" rx="0.48" ry="0.35" fill="#15202b" opacity="0.88"/><ellipse cx="121.4" cy="51.6" rx="0.45" ry="0.33" fill="#15202b" opacity="0.76"/><ellipse cx="139.6" cy="63.6" rx="0.50" ry="0.37" fill="#15202b" opacity="0.70"/></g>
<g transform="translate(49 36.6)" fill="#111"><text font-family='"Liberation Serif", serif'><tspan x="0" y="0" font-size="14.5" font-style="italic">E</tspan><tspan x="9.06" y="2.8" font-size="10.5" font-style="italic">s</tspan><tspan x="13.44" y="0" font-size="14.5">,</tspan><tspan x="19.07" y="0" font-size="14.5" font-style="italic">ρ</tspan><tspan x="26.23" y="2.8" font-size="10.5" font-style="italic">s</tspan></text></g>
<g transform="translate(110.3 32.3)" fill="#111"><text font-family='"Liberation Serif", serif'><tspan x="0" y="0" font-size="14.5" font-style="italic">E</tspan><tspan x="9.06" y="2.8" font-size="10.5" font-style="italic">L</tspan><tspan x="15.2" y="0" font-size="14.5">,</tspan><tspan x="20.82" y="0" font-size="14.5" font-style="italic">ρ</tspan></text></g>
<text x="160.4" y="44.8" font-size="12.3" font-family='"Liberation Serif", serif' fill="#111"><tspan font-style="italic">E</tspan><tspan font-size="8.6" dy="2" font-style="italic">L</tspan></text>
<text x="160.4" y="61.7" font-size="12.3" font-family='"Liberation Serif", serif' fill="#111"><tspan font-style="italic">E</tspan><tspan font-size="8.6" dy="2" font-style="italic">s</tspan></text>
<line x1="160.3" y1="50.2" x2="172.8" y2="50.2" stroke="#111" stroke-width="0.9" />
<line x1="177.2" y1="48.6" x2="184.8" y2="48.6" stroke="#111" stroke-width="0.9" />
<line x1="177.2" y1="51.6" x2="184.8" y2="51.6" stroke="#111" stroke-width="0.9" />
<path d="M194.8 35.5 Q187.5 50.5 194.8 65.8" fill="none" stroke="#111" stroke-width="1"/>
<path d="M208.6 35.5 Q215.9 50.5 208.6 65.8" fill="none" stroke="#111" stroke-width="1"/>
<text x="198.3" y="45.4" font-size="12.3" font-style="italic" font-family='"Liberation Serif", serif' fill="#111">ρ</text>
<text x="196.4" y="62.3" font-size="12.3" font-family='"Liberation Serif", serif' fill="#111"><tspan font-style="italic">ρ</tspan><tspan font-size="8.6" dy="1.5" font-style="italic">s</tspan></text>
<line x1="196.1" y1="50.2" x2="207.2" y2="50.2" stroke="#111" stroke-width="0.9" />
<text x="214.6" y="37.6" font-size="9" font-style="italic" font-family='"Liberation Serif", serif' fill="#111">α</text>
<path d="M257.6 106.6 L257.5 107.86 L257.35 109.62 L257.25 111.85 L257.3 114.5 L257.51 117.77 L257.83 121.62 L258.28 125.63 L258.9 129.4 L259.65 132.89 L260.53 136.29 L261.62 139.55 L263 142.6 L264.7 145.45 L266.67 148.11 L268.88 150.57 L271.3 152.8 L273.97 154.8 L276.89 156.58 L279.97 158.12 L283.1 159.4 L286.3 160.41 L289.61 161.17 L292.97 161.67 L296.3 161.9 L299.68 161.85 L303.11 161.52 L306.43 160.96 L309.5 160.2 L312.28 159.24 L314.86 158.06 L317.23 156.7 L319.4 155.2 L321.36 153.58 L323.11 151.81 L324.65 149.89 L326 147.8 L327.12 145.45 L328.02 142.86 L328.77 140.25 L329.4 137.8 L329.93 135.5 L330.34 133.28 L330.62 131.21 L330.8 129.4 L330.93 127.81 L330.99 126.41 L330.85 125.31 L330.4 124.6 L329.4 124.27 L327.97 124.27 L326.57 124.69 L325.6 125.6 L325.33 127.15 L325.48 129.27 L325.68 131.65 L325.6 134 L325.18 136.35 L324.59 138.82 L323.81 141.25 L322.8 143.5 L321.55 145.54 L320.07 147.44 L318.38 149.2 L316.5 150.8 L314.38 152.25 L312.03 153.55 L309.53 154.68 L307 155.6 L304.44 156.33 L301.79 156.87 L299.08 157.2 L296.3 157.3 L293.39 157.17 L290.37 156.82 L287.36 156.24 L284.5 155.4 L281.76 154.27 L279.08 152.88 L276.57 151.27 L274.3 149.5 L272.31 147.59 L270.55 145.49 L268.99 143.23 L267.6 140.8 L266.39 138.22 L265.37 135.49 L264.51 132.56 L263.8 129.4 L263.25 125.73 L262.88 121.66 L262.61 117.73 L262.4 114.5 L262.37 112.12 L262.5 110.29 L262.53 108.9 L262.2 107.8 L261.25 107.09 L259.89 106.78 L258.53 106.69 L257.6 106.6 Z" fill="#ede5ef"/>
<path d="M261.9 108 L261.85 108.97 L261.77 110.32 L261.73 112.13 L261.8 114.5 L261.97 117.71 L262.21 121.62 L262.57 125.7 L263.1 129.4 L263.8 132.63 L264.65 135.66 L265.67 138.51 L266.9 141.2 L268.32 143.76 L269.94 146.16 L271.76 148.39 L273.8 150.4 L276.11 152.21 L278.67 153.84 L281.4 155.24 L284.2 156.4 L287.13 157.31 L290.21 157.97 L293.31 158.41 L296.3 158.6 L299.18 158.55 L301.99 158.25 L304.74 157.73 L307.4 157 L310.02 156.05 L312.59 154.88 L315.02 153.52 L317.2 152 L319.11 150.31 L320.81 148.45 L322.3 146.44 L323.6 144.3 L324.69 141.97 L325.56 139.45 L326.26 136.91 L326.8 134.5 L327.15 132.08 L327.3 129.64 L327.35 127.5 L327.4 126" fill="none" stroke="#5d8a47" stroke-width="1.3"/>
<path d="M296 160.2 L297.83 160.08 L300.47 159.92 L303.37 159.67 L306 159.3 L308.27 158.81 L310.44 158.21 L312.52 157.48 L314.5 156.6 L316.52 155.39 L318.53 153.93 L320.28 152.55 L321.5 151.6" fill="none" stroke="#93ad62" stroke-width="1.6"/>
<path d="M262.0 108.6 L266.4 110.2 L266.0 124 L267.0 134 L269.6 142 L274.5 148.8 L269.8 148.2 L265.2 141.5 L262.8 131 L262.0 120 Z" fill="#2d6434"/>
<path d="M261.4 107.2 L263.8 107.8 L263.8 116 L261.6 115.4 Z" fill="#66786e"/>
<path d="M257.0 106.0 L262.4 106.6 L262.6 110.0 L257.4 109.0 Z" fill="#c9a784"/>
<path d="M274 67.4 L276.73 67.33 L280.58 67.23 L285.07 67.12 L289.71 67.04 L294 67 L298.26 66.96 L302.81 66.88 L307.19 66.87 L310.94 67.01 L313.6 67.4 L314.77 68.12 L314.77 69.11 L314.18 70.24 L313.59 71.38 L313.6 72.4 L314.33 73.24 L315.4 73.98 L316.6 74.72 L317.74 75.53 L318.6 76.5 L319.15 77.61 L319.52 78.8 L319.77 80.1 L319.98 81.52 L320.2 83.1 L320.41 84.91 L320.58 86.94 L320.72 89.07 L320.89 91.16 L321.1 93.1 L321.37 94.78 L321.68 96.27 L322.02 97.75 L322.36 99.37 L322.7 101.3 L323.06 103.67 L323.45 106.37 L323.84 109.21 L324.17 111.98 L324.4 114.5 L324.54 116.76 L324.6 118.9 L324.6 120.91 L324.54 122.78 L324.4 124.5 L324.22 125.98 L323.99 127.23 L323.68 128.39 L323.26 129.6 L322.7 131 L322.04 132.66 L321.29 134.49 L320.41 136.39 L319.33 138.26 L318 140 L316.37 141.68 L314.48 143.35 L312.4 144.93 L310.21 146.34 L308 147.5 L305.76 148.37 L303.44 149 L301.04 149.46 L298.56 149.77 L296 150 L293.26 150.14 L290.35 150.16 L287.41 150.06 L284.58 149.84 L282 149.5 L279.66 149.06 L277.45 148.53 L275.42 147.87 L273.59 147.04 L272 146 L270.69 144.7 L269.63 143.15 L268.77 141.46 L268.05 139.71 L267.4 138 L266.85 136.42 L266.43 134.91 L266.12 133.32 L265.88 131.53 L265.7 129.4 L265.56 126.8 L265.5 123.81 L265.5 120.64 L265.56 117.47 L265.7 114.5 L265.89 111.7 L266.14 108.94 L266.47 106.26 L266.88 103.7 L267.4 101.3 L268.08 99.11 L268.91 97.1 L269.8 95.2 L270.69 93.33 L271.5 91.4 L272.26 89.41 L273.04 87.4 L273.76 85.4 L274.36 83.43 L274.8 81.5 L275.02 79.56 L275.08 77.61 L275.02 75.71 L274.9 73.94 L274.8 72.4 L274.68 71.06 L274.5 69.86 L274.3 68.84 L274.12 68.01 L274 67.4 Z" fill="url(#metG)"/>
<g clip-path="url(#metClip)" filter="url(#blur1)"><rect x="270" y="66" width="46" height="2.6" fill="#b79c85" opacity="0.85"/><ellipse cx="284" cy="78" rx="8" ry="3" fill="#c9b09b" opacity="0.45"/><ellipse cx="311" cy="76" rx="7" ry="4" fill="#c2a690" opacity="0.6"/><ellipse cx="313" cy="85.5" rx="8" ry="1.4" fill="#b59a84" opacity="0.5"/><ellipse cx="311" cy="95" rx="5" ry="1.5" fill="#a98b74" opacity="0.55"/><ellipse cx="302" cy="113.5" rx="24" ry="1.9" fill="#c2a68f" opacity="0.6"/><ellipse cx="300" cy="134" rx="26" ry="1.6" fill="#cdb6a2" opacity="0.4"/><rect x="319" y="70" width="8" height="70" fill="#bda591" opacity="0.45"/><rect x="264" y="70" width="5" height="80" fill="#d8c8b6" opacity="0.5"/><ellipse cx="296" cy="102" rx="10" ry="8" fill="#f5ede2" opacity="0.5"/></g>
<path d="M268.8 147.6 L270.57 147.41 L273.09 147.12 L276.01 146.88 L279 146.8 L282.1 146.95 L285.45 147.25 L288.82 147.63 L292 148 L295.12 148.25 L298.25 148.44 L301 148.81 L303 149.6 L304.26 151.1 L304.94 153.11 L304.9 155.12 L304 156.6 L301.91 157.41 L298.81 157.82 L295.3 157.98 L292 158 L288.91 157.91 L285.75 157.64 L282.72 157.2 L280 156.6 L277.61 155.81 L275.45 154.82 L273.57 153.73 L272 152.6 L270.79 151.3 L269.9 149.85 L269.26 148.52 L268.8 147.6 Z" fill="#9fcae2"/>
<g clip-path="url(#fc4)"><ellipse cx="274.6" cy="154.5" rx="0.68" ry="0.45" fill="#d8f0ff" opacity="0.85"/><ellipse cx="285.7" cy="149.2" rx="0.76" ry="0.50" fill="#d8f0ff" opacity="0.85"/><ellipse cx="297.2" cy="152.5" rx="0.62" ry="0.41" fill="#d8f0ff" opacity="0.85"/><ellipse cx="277.1" cy="146.8" rx="0.55" ry="0.37" fill="#d8f0ff" opacity="0.85"/><ellipse cx="289.4" cy="147.6" rx="0.76" ry="0.50" fill="#d8f0ff" opacity="0.85"/><ellipse cx="277.0" cy="149.4" rx="0.39" ry="0.26" fill="#d8f0ff" opacity="0.85"/><ellipse cx="303.9" cy="155.1" rx="0.80" ry="0.53" fill="#d8f0ff" opacity="0.85"/><ellipse cx="290.5" cy="147.2" rx="0.53" ry="0.35" fill="#d8f0ff" opacity="0.85"/><ellipse cx="286.3" cy="148.1" rx="0.83" ry="0.56" fill="#d8f0ff" opacity="0.85"/><ellipse cx="281.8" cy="148.5" rx="0.77" ry="0.51" fill="#d8f0ff" opacity="0.85"/><ellipse cx="273.2" cy="157.2" rx="0.59" ry="0.39" fill="#d8f0ff" opacity="0.85"/><ellipse cx="288.2" cy="150.6" rx="0.61" ry="0.40" fill="#d8f0ff" opacity="0.85"/><ellipse cx="275.4" cy="147.2" rx="0.79" ry="0.53" fill="#d8f0ff" opacity="0.85"/><ellipse cx="277.1" cy="155.5" rx="0.47" ry="0.31" fill="#d8f0ff" opacity="0.85"/><ellipse cx="302.9" cy="156.8" rx="0.74" ry="0.49" fill="#d8f0ff" opacity="0.85"/><ellipse cx="295.7" cy="153.3" rx="0.73" ry="0.48" fill="#d8f0ff" opacity="0.85"/><ellipse cx="273.1" cy="152.1" rx="0.77" ry="0.52" fill="#d8f0ff" opacity="0.85"/><ellipse cx="275.9" cy="157.1" rx="0.80" ry="0.54" fill="#d8f0ff" opacity="0.85"/><ellipse cx="283.2" cy="150.9" rx="0.59" ry="0.39" fill="#d8f0ff" opacity="0.85"/><ellipse cx="282.4" cy="157.9" rx="0.56" ry="0.37" fill="#d8f0ff" opacity="0.85"/><ellipse cx="269.7" cy="147.8" rx="0.72" ry="0.48" fill="#d8f0ff" opacity="0.85"/><ellipse cx="303.7" cy="152.4" rx="0.61" ry="0.41" fill="#d8f0ff" opacity="0.85"/><ellipse cx="288.2" cy="155.2" rx="0.48" ry="0.32" fill="#d8f0ff" opacity="0.85"/><ellipse cx="290.2" cy="153.0" rx="0.67" ry="0.45" fill="#d8f0ff" opacity="0.85"/><ellipse cx="275.2" cy="148.7" rx="0.54" ry="0.36" fill="#d8f0ff" opacity="0.85"/><ellipse cx="301.4" cy="150.7" rx="0.66" ry="0.44" fill="#d8f0ff" opacity="0.85"/><ellipse cx="279.6" cy="148.0" rx="0.40" ry="0.27" fill="#d8f0ff" opacity="0.85"/><ellipse cx="297.4" cy="155.5" rx="0.55" ry="0.37" fill="#d8f0ff" opacity="0.85"/><ellipse cx="292.9" cy="154.4" rx="0.81" ry="0.54" fill="#d8f0ff" opacity="0.85"/><ellipse cx="302.5" cy="151.4" rx="0.85" ry="0.57" fill="#d8f0ff" opacity="0.85"/><ellipse cx="302.6" cy="153.4" rx="0.80" ry="0.53" fill="#d8f0ff" opacity="0.85"/><ellipse cx="286.1" cy="151.0" rx="0.49" ry="0.33" fill="#d8f0ff" opacity="0.85"/><ellipse cx="299.6" cy="148.6" rx="0.40" ry="0.27" fill="#d8f0ff" opacity="0.85"/><ellipse cx="297.1" cy="155.5" rx="0.61" ry="0.40" fill="#d8f0ff" opacity="0.85"/><ellipse cx="298.3" cy="147.4" rx="0.50" ry="0.33" fill="#d8f0ff" opacity="0.85"/><ellipse cx="279.0" cy="151.5" rx="0.39" ry="0.29" fill="#15202b" opacity="0.58"/><ellipse cx="280.7" cy="156.9" rx="0.74" ry="0.55" fill="#15202b" opacity="0.85"/><ellipse cx="285.7" cy="149.6" rx="0.73" ry="0.54" fill="#15202b" opacity="0.76"/><ellipse cx="294.4" cy="147.1" rx="0.41" ry="0.30" fill="#15202b" opacity="0.89"/><ellipse cx="296.8" cy="156.7" rx="0.58" ry="0.43" fill="#15202b" opacity="0.72"/><ellipse cx="289.3" cy="156.3" rx="0.45" ry="0.33" fill="#15202b" opacity="0.76"/><ellipse cx="278.5" cy="155.4" rx="0.33" ry="0.24" fill="#15202b" opacity="0.82"/><ellipse cx="302.4" cy="147.1" rx="0.57" ry="0.42" fill="#15202b" opacity="0.81"/><ellipse cx="298.8" cy="153.3" rx="0.43" ry="0.32" fill="#15202b" opacity="0.71"/><ellipse cx="302.5" cy="156.9" rx="0.38" ry="0.28" fill="#15202b" opacity="0.59"/><ellipse cx="272.1" cy="147.1" rx="0.51" ry="0.38" fill="#15202b" opacity="0.61"/><ellipse cx="299.3" cy="154.1" rx="0.38" ry="0.28" fill="#15202b" opacity="0.77"/><ellipse cx="280.2" cy="152.3" rx="0.42" ry="0.31" fill="#15202b" opacity="0.62"/><ellipse cx="275.3" cy="151.0" rx="0.62" ry="0.46" fill="#15202b" opacity="0.77"/><ellipse cx="270.4" cy="154.8" rx="0.69" ry="0.51" fill="#15202b" opacity="0.86"/><ellipse cx="296.6" cy="146.9" rx="0.52" ry="0.38" fill="#15202b" opacity="0.58"/><ellipse cx="295.7" cy="148.8" rx="0.62" ry="0.46" fill="#15202b" opacity="0.65"/><ellipse cx="293.3" cy="150.3" rx="0.34" ry="0.25" fill="#15202b" opacity="0.71"/><ellipse cx="279.7" cy="156.9" rx="0.45" ry="0.33" fill="#15202b" opacity="0.75"/><ellipse cx="288.1" cy="157.4" rx="0.36" ry="0.27" fill="#15202b" opacity="0.79"/><ellipse cx="286.7" cy="155.0" rx="0.73" ry="0.54" fill="#15202b" opacity="0.67"/><ellipse cx="293.4" cy="152.7" rx="0.56" ry="0.41" fill="#15202b" opacity="0.58"/><ellipse cx="297.5" cy="157.7" rx="0.47" ry="0.35" fill="#15202b" opacity="0.68"/><ellipse cx="303.8" cy="148.0" rx="0.35" ry="0.26" fill="#15202b" opacity="0.58"/><ellipse cx="297.5" cy="155.3" rx="0.51" ry="0.38" fill="#15202b" opacity="0.80"/><ellipse cx="269.5" cy="154.0" rx="0.51" ry="0.38" fill="#15202b" opacity="0.76"/><ellipse cx="282.5" cy="151.3" rx="0.42" ry="0.31" fill="#15202b" opacity="0.57"/><ellipse cx="284.1" cy="149.6" rx="0.62" ry="0.46" fill="#15202b" opacity="0.88"/><ellipse cx="294.3" cy="151.9" rx="0.42" ry="0.31" fill="#15202b" opacity="0.70"/><ellipse cx="285.9" cy="153.9" rx="0.73" ry="0.54" fill="#15202b" opacity="0.58"/><ellipse cx="285.7" cy="152.3" rx="0.63" ry="0.46" fill="#15202b" opacity="0.91"/><ellipse cx="296.2" cy="153.8" rx="0.64" ry="0.48" fill="#15202b" opacity="0.82"/><ellipse cx="299.0" cy="154.6" rx="0.61" ry="0.45" fill="#15202b" opacity="0.65"/><ellipse cx="301.1" cy="151.1" rx="0.58" ry="0.43" fill="#15202b" opacity="0.88"/><ellipse cx="302.7" cy="157.9" rx="0.32" ry="0.24" fill="#15202b" opacity="0.68"/><ellipse cx="279.8" cy="151.2" rx="0.38" ry="0.28" fill="#15202b" opacity="0.77"/><ellipse cx="271.6" cy="150.2" rx="0.72" ry="0.53" fill="#15202b" opacity="0.85"/><ellipse cx="285.1" cy="148.0" rx="0.73" ry="0.54" fill="#15202b" opacity="0.83"/><ellipse cx="276.0" cy="150.6" rx="0.59" ry="0.44" fill="#15202b" opacity="0.82"/><ellipse cx="278.0" cy="157.5" rx="0.46" ry="0.34" fill="#15202b" opacity="0.65"/><ellipse cx="298.6" cy="148.5" rx="0.61" ry="0.45" fill="#15202b" opacity="0.63"/><ellipse cx="289.8" cy="149.9" rx="0.48" ry="0.36" fill="#15202b" opacity="0.93"/><ellipse cx="285.2" cy="151.7" rx="0.58" ry="0.43" fill="#15202b" opacity="0.66"/><ellipse cx="274.9" cy="151.1" rx="0.44" ry="0.32" fill="#15202b" opacity="0.63"/><ellipse cx="302.6" cy="147.2" rx="0.67" ry="0.49" fill="#15202b" opacity="0.92"/><ellipse cx="293.6" cy="147.0" rx="0.54" ry="0.40" fill="#15202b" opacity="0.57"/><ellipse cx="290.2" cy="154.6" rx="0.42" ry="0.31" fill="#15202b" opacity="0.55"/><ellipse cx="288.0" cy="147.9" rx="0.45" ry="0.34" fill="#15202b" opacity="0.73"/><ellipse cx="300.3" cy="150.9" rx="0.38" ry="0.28" fill="#15202b" opacity="0.87"/><ellipse cx="297.7" cy="152.7" rx="0.34" ry="0.25" fill="#15202b" opacity="0.63"/><ellipse cx="283.0" cy="153.0" rx="0.42" ry="0.31" fill="#15202b" opacity="0.87"/><ellipse cx="298.5" cy="157.2" rx="0.70" ry="0.52" fill="#15202b" opacity="0.56"/><ellipse cx="289.3" cy="147.7" rx="0.70" ry="0.52" fill="#15202b" opacity="0.85"/><ellipse cx="295.5" cy="148.9" rx="0.35" ry="0.26" fill="#15202b" opacity="0.88"/><ellipse cx="290.1" cy="153.7" rx="0.52" ry="0.39" fill="#15202b" opacity="0.87"/><ellipse cx="280.7" cy="149.8" rx="0.47" ry="0.35" fill="#15202b" opacity="0.67"/><ellipse cx="290.9" cy="156.8" rx="0.35" ry="0.26" fill="#15202b" opacity="0.58"/><ellipse cx="286.8" cy="154.4" rx="0.40" ry="0.30" fill="#15202b" opacity="0.66"/><ellipse cx="270.9" cy="147.2" rx="0.53" ry="0.39" fill="#15202b" opacity="0.82"/><ellipse cx="291.8" cy="148.6" rx="0.37" ry="0.27" fill="#15202b" opacity="0.92"/><ellipse cx="287.8" cy="151.4" rx="0.62" ry="0.46" fill="#15202b" opacity="0.84"/><ellipse cx="287.3" cy="147.7" rx="0.67" ry="0.50" fill="#15202b" opacity="0.64"/><ellipse cx="270.2" cy="150.7" rx="0.55" ry="0.41" fill="#15202b" opacity="0.80"/><ellipse cx="274.9" cy="154.7" rx="0.53" ry="0.39" fill="#15202b" opacity="0.61"/><ellipse cx="298.8" cy="155.8" rx="0.71" ry="0.52" fill="#15202b" opacity="0.82"/><ellipse cx="276.4" cy="155.5" rx="0.71" ry="0.52" fill="#15202b" opacity="0.76"/><ellipse cx="300.8" cy="157.7" rx="0.49" ry="0.36" fill="#15202b" opacity="0.93"/><ellipse cx="301.8" cy="155.7" rx="0.33" ry="0.24" fill="#15202b" opacity="0.69"/><ellipse cx="290.4" cy="153.6" rx="0.64" ry="0.48" fill="#15202b" opacity="0.81"/><ellipse cx="274.5" cy="157.2" rx="0.55" ry="0.41" fill="#15202b" opacity="0.90"/><ellipse cx="276.1" cy="158.0" rx="0.56" ry="0.41" fill="#15202b" opacity="0.86"/><ellipse cx="294.8" cy="156.7" rx="0.48" ry="0.35" fill="#15202b" opacity="0.58"/><ellipse cx="283.1" cy="148.8" rx="0.55" ry="0.41" fill="#15202b" opacity="0.88"/><ellipse cx="281.6" cy="148.3" rx="0.33" ry="0.25" fill="#15202b" opacity="0.72"/><ellipse cx="289.2" cy="147.1" rx="0.61" ry="0.45" fill="#15202b" opacity="0.63"/><ellipse cx="272.6" cy="157.2" rx="0.54" ry="0.40" fill="#15202b" opacity="0.91"/><ellipse cx="286.9" cy="148.2" rx="0.42" ry="0.31" fill="#15202b" opacity="0.72"/><ellipse cx="291.4" cy="155.4" rx="0.64" ry="0.47" fill="#15202b" opacity="0.81"/><ellipse cx="277.7" cy="151.6" rx="0.48" ry="0.36" fill="#15202b" opacity="0.75"/><ellipse cx="278.1" cy="152.8" rx="0.52" ry="0.38" fill="#15202b" opacity="0.56"/><ellipse cx="297.8" cy="153.4" rx="0.66" ry="0.49" fill="#15202b" opacity="0.84"/><ellipse cx="294.5" cy="157.9" rx="0.48" ry="0.36" fill="#15202b" opacity="0.71"/><ellipse cx="268.9" cy="154.2" rx="0.57" ry="0.42" fill="#15202b" opacity="0.78"/><ellipse cx="303.9" cy="149.0" rx="0.42" ry="0.31" fill="#15202b" opacity="0.84"/><ellipse cx="297.4" cy="152.2" rx="0.35" ry="0.26" fill="#15202b" opacity="0.70"/><ellipse cx="297.9" cy="152.4" rx="0.52" ry="0.38" fill="#15202b" opacity="0.71"/><ellipse cx="290.9" cy="153.5" rx="0.62" ry="0.46" fill="#15202b" opacity="0.90"/><ellipse cx="295.2" cy="151.0" rx="0.43" ry="0.32" fill="#15202b" opacity="0.86"/><ellipse cx="296.7" cy="157.2" rx="0.41" ry="0.30" fill="#15202b" opacity="0.89"/><ellipse cx="300.1" cy="147.7" rx="0.45" ry="0.33" fill="#15202b" opacity="0.80"/><ellipse cx="273.9" cy="156.1" rx="0.43" ry="0.32" fill="#15202b" opacity="0.82"/><ellipse cx="279.2" cy="149.2" rx="0.41" ry="0.30" fill="#15202b" opacity="0.75"/><ellipse cx="293.9" cy="149.2" rx="0.61" ry="0.45" fill="#15202b" opacity="0.68"/><ellipse cx="291.7" cy="150.9" rx="0.40" ry="0.30" fill="#15202b" opacity="0.61"/><ellipse cx="270.8" cy="154.6" rx="0.50" ry="0.37" fill="#15202b" opacity="0.60"/></g>
<path d="M301.5 150.2 L313 144.5 L320.5 135.5 L325.2 126.4 L330.6 126.6 L329.0 138 L324.5 147.5 L316.5 154.2 L304 158 Z" fill="#829bad"/>
<path d="M316.2 153.0 L322.6 146.8 L326.8 138.0 L328.6 127.2 L326.8 127.0 L324.8 137.2 L320.8 145.6 L314.6 151.6 Z" fill="#aec3b0" opacity="0.95"/>
<path d="M324.6 125.6 Q327.8 123.2 330.8 124.8 L330.6 127.4 L325.2 127.2 Z" fill="#c4a07a"/>
<path d="M330.4 126.4 L344.0 115.6 L352 123.5 L372 128.3 L392 128.8 L398 129.6 L318.5 155.6 L325.5 148 L329.4 138 Z" fill="url(#coneG)"/>
<path d="M343.1 116.1 L343.48 115.06 L344.03 113.57 L344.7 111.94 L345.5 110.5 L346.4 109.26 L347.41 108.06 L348.56 107.01 L349.9 106.2 L351.47 105.73 L353.24 105.53 L355.11 105.41 L357 105.2 L358.82 104.91 L360.64 104.61 L362.59 104.23 L364.8 103.7 L367.3 102.89 L370.04 101.87 L372.95 100.89 L376 100.2 L379.32 99.84 L382.88 99.69 L386.4 99.74 L389.6 100 L392.24 100.54 L394.52 101.34 L396.85 102.25 L399.6 103.1 L403.19 103.89 L407.31 104.69 L411.28 105.47 L414.4 106.2 L416.37 106.74 L417.59 107.16 L418.47 107.7 L419.4 108.6 L420.59 110.1 L421.79 112.01 L422.73 113.94 L423.1 115.5 L422.84 116.54 L422.1 117.29 L420.93 117.91 L419.4 118.6 L417.45 119.38 L415.07 120.15 L412.39 120.92 L409.5 121.7 L406.37 122.48 L402.96 123.28 L399.39 124.05 L395.8 124.8 L392.06 125.55 L388.17 126.29 L384.39 126.97 L381 127.5 L378.19 127.91 L375.76 128.21 L373.46 128.36 L371 128.3 L368.24 127.98 L365.35 127.43 L362.53 126.75 L360 126 L357.83 125.16 L355.9 124.2 L354.12 123.22 L352.4 122.3 L350.68 121.48 L349.02 120.71 L347.5 119.96 L346.2 119.2 L345.13 118.35 L344.26 117.46 L343.58 116.66 L343.1 116.1 Z" fill="#b3dbf0"/>
<g clip-path="url(#fc5)"><path d="M343.1 116.1 L343.48 115.06 L344.03 113.57 L344.7 111.94 L345.5 110.5 L346.4 109.26 L347.41 108.06 L348.56 107.01 L349.9 106.2 L351.47 105.73 L353.24 105.53 L355.11 105.41 L357 105.2 L358.82 104.91 L360.64 104.61 L362.59 104.23 L364.8 103.7 L367.3 102.89 L370.04 101.87 L372.95 100.89 L376 100.2 L379.32 99.84 L382.88 99.69 L386.4 99.74 L389.6 100 L392.24 100.54 L394.52 101.34 L396.85 102.25 L399.6 103.1 L403.19 103.89 L407.31 104.69 L411.28 105.47 L414.4 106.2 L416.37 106.74 L417.59 107.16 L418.47 107.7 L419.4 108.6 L420.81 110.28 L422.38 112.49 L423.39 114.49 L423.1 115.5 L421.05 115.01 L417.72 113.53 L413.8 111.86 L410 110.8 L406.38 110.63 L402.62 110.89 L398.79 111.31 L395 111.6 L391.25 111.69 L387.5 111.72 L383.75 111.75 L380 111.8 L376.2 111.93 L372.38 112.11 L368.61 112.24 L365 112.2 L361.51 111.77 L358.12 111.08 L354.91 110.55 L352 110.6 L349.28 111.6 L346.74 113.25 L344.6 114.95 L343.1 116.1 Z" fill="#8d9dab"/><ellipse cx="344.1" cy="103.2" rx="0.61" ry="0.41" fill="#f2fbff" opacity="0.85"/><ellipse cx="397.8" cy="103.9" rx="0.44" ry="0.29" fill="#f2fbff" opacity="0.85"/><ellipse cx="361.6" cy="121.4" rx="0.46" ry="0.31" fill="#f2fbff" opacity="0.85"/><ellipse cx="402.4" cy="118.7" rx="0.45" ry="0.30" fill="#f2fbff" opacity="0.85"/><ellipse cx="386.0" cy="112.7" rx="0.63" ry="0.42" fill="#f2fbff" opacity="0.85"/><ellipse cx="422.8" cy="102.6" rx="0.38" ry="0.25" fill="#f2fbff" opacity="0.85"/><ellipse cx="418.3" cy="111.4" rx="0.49" ry="0.33" fill="#f2fbff" opacity="0.85"/><ellipse cx="369.5" cy="110.3" rx="0.96" ry="0.64" fill="#f2fbff" opacity="0.85"/><ellipse cx="359.9" cy="106.1" rx="0.73" ry="0.49" fill="#f2fbff" opacity="0.85"/><ellipse cx="386.9" cy="127.0" rx="0.89" ry="0.59" fill="#f2fbff" opacity="0.85"/><ellipse cx="371.5" cy="105.8" rx="0.89" ry="0.59" fill="#f2fbff" opacity="0.85"/><ellipse cx="422.2" cy="100.9" rx="0.83" ry="0.55" fill="#f2fbff" opacity="0.85"/><ellipse cx="412.6" cy="118.4" rx="0.51" ry="0.34" fill="#f2fbff" opacity="0.85"/><ellipse cx="406.8" cy="120.7" rx="0.49" ry="0.33" fill="#f2fbff" opacity="0.85"/><ellipse cx="394.4" cy="106.2" rx="0.40" ry="0.26" fill="#f2fbff" opacity="0.85"/><ellipse cx="370.0" cy="109.5" rx="0.62" ry="0.41" fill="#f2fbff" opacity="0.85"/><ellipse cx="394.8" cy="123.7" rx="0.97" ry="0.64" fill="#f2fbff" opacity="0.85"/><ellipse cx="421.2" cy="128.1" rx="0.86" ry="0.57" fill="#f2fbff" opacity="0.85"/><ellipse cx="367.6" cy="105.0" rx="0.76" ry="0.50" fill="#f2fbff" opacity="0.85"/><ellipse cx="386.8" cy="119.1" rx="0.43" ry="0.29" fill="#f2fbff" opacity="0.85"/><ellipse cx="358.5" cy="126.1" rx="0.74" ry="0.50" fill="#f2fbff" opacity="0.85"/><ellipse cx="398.7" cy="102.7" rx="0.62" ry="0.41" fill="#f2fbff" opacity="0.85"/><ellipse cx="415.9" cy="118.4" rx="0.98" ry="0.66" fill="#f2fbff" opacity="0.85"/><ellipse cx="358.9" cy="112.9" rx="0.87" ry="0.58" fill="#f2fbff" opacity="0.85"/><ellipse cx="378.7" cy="122.3" rx="0.72" ry="0.48" fill="#f2fbff" opacity="0.85"/><ellipse cx="352.5" cy="102.8" rx="0.98" ry="0.65" fill="#f2fbff" opacity="0.85"/><ellipse cx="352.6" cy="105.5" rx="0.58" ry="0.39" fill="#f2fbff" opacity="0.85"/><ellipse cx="400.2" cy="124.2" rx="0.66" ry="0.44" fill="#f2fbff" opacity="0.85"/><ellipse cx="383.0" cy="122.3" rx="0.54" ry="0.36" fill="#f2fbff" opacity="0.85"/><ellipse cx="372.9" cy="117.3" rx="0.76" ry="0.51" fill="#f2fbff" opacity="0.85"/><ellipse cx="346.1" cy="103.2" rx="0.46" ry="0.30" fill="#f2fbff" opacity="0.85"/><ellipse cx="401.1" cy="119.6" rx="0.97" ry="0.65" fill="#f2fbff" opacity="0.85"/><ellipse cx="404.5" cy="107.2" rx="0.84" ry="0.56" fill="#f2fbff" opacity="0.85"/><ellipse cx="421.9" cy="109.9" rx="0.38" ry="0.25" fill="#f2fbff" opacity="0.85"/><ellipse cx="373.1" cy="108.0" rx="0.48" ry="0.32" fill="#f2fbff" opacity="0.85"/><ellipse cx="346.7" cy="103.5" rx="0.91" ry="0.60" fill="#f2fbff" opacity="0.85"/><ellipse cx="347.1" cy="117.4" rx="0.50" ry="0.33" fill="#f2fbff" opacity="0.85"/><ellipse cx="358.6" cy="123.2" rx="0.55" ry="0.37" fill="#f2fbff" opacity="0.85"/><ellipse cx="357.8" cy="112.9" rx="0.80" ry="0.53" fill="#f2fbff" opacity="0.85"/><ellipse cx="385.1" cy="124.3" rx="0.62" ry="0.41" fill="#f2fbff" opacity="0.85"/><ellipse cx="385.0" cy="120.3" rx="0.66" ry="0.44" fill="#f2fbff" opacity="0.85"/><ellipse cx="400.5" cy="113.2" rx="0.45" ry="0.30" fill="#f2fbff" opacity="0.85"/><ellipse cx="353.0" cy="122.2" rx="0.83" ry="0.55" fill="#f2fbff" opacity="0.85"/><ellipse cx="418.5" cy="119.5" rx="0.73" ry="0.49" fill="#f2fbff" opacity="0.85"/><ellipse cx="356.4" cy="124.1" rx="0.44" ry="0.30" fill="#f2fbff" opacity="0.85"/><ellipse cx="377.1" cy="104.0" rx="0.61" ry="0.40" fill="#f2fbff" opacity="0.85"/><ellipse cx="367.7" cy="112.0" rx="0.81" ry="0.54" fill="#f2fbff" opacity="0.85"/><ellipse cx="386.4" cy="106.9" rx="0.85" ry="0.57" fill="#f2fbff" opacity="0.85"/><ellipse cx="401.9" cy="123.4" rx="0.39" ry="0.26" fill="#f2fbff" opacity="0.85"/><ellipse cx="392.3" cy="125.3" rx="0.53" ry="0.35" fill="#f2fbff" opacity="0.85"/><ellipse cx="359.3" cy="123.0" rx="0.60" ry="0.40" fill="#f2fbff" opacity="0.85"/><ellipse cx="375.2" cy="123.1" rx="0.61" ry="0.41" fill="#f2fbff" opacity="0.85"/><ellipse cx="359.0" cy="106.1" rx="0.58" ry="0.39" fill="#f2fbff" opacity="0.85"/><ellipse cx="398.9" cy="110.4" rx="0.85" ry="0.57" fill="#f2fbff" opacity="0.85"/><ellipse cx="348.4" cy="107.0" rx="0.76" ry="0.50" fill="#f2fbff" opacity="0.85"/><ellipse cx="381.5" cy="114.1" rx="0.95" ry="0.63" fill="#f2fbff" opacity="0.85"/><ellipse cx="365.3" cy="105.1" rx="0.39" ry="0.26" fill="#f2fbff" opacity="0.85"/><ellipse cx="381.7" cy="108.4" rx="0.66" ry="0.44" fill="#f2fbff" opacity="0.85"/><ellipse cx="343.5" cy="100.0" rx="0.61" ry="0.40" fill="#f2fbff" opacity="0.85"/><ellipse cx="403.7" cy="108.5" rx="0.94" ry="0.62" fill="#f2fbff" opacity="0.85"/><ellipse cx="389.5" cy="111.4" rx="0.85" ry="0.57" fill="#f2fbff" opacity="0.85"/><ellipse cx="361.8" cy="117.1" rx="0.89" ry="0.60" fill="#f2fbff" opacity="0.85"/><ellipse cx="386.4" cy="109.0" rx="0.43" ry="0.29" fill="#f2fbff" opacity="0.85"/><ellipse cx="389.0" cy="105.3" rx="0.60" ry="0.40" fill="#f2fbff" opacity="0.85"/><ellipse cx="386.5" cy="126.6" rx="0.79" ry="0.52" fill="#f2fbff" opacity="0.85"/><ellipse cx="384.6" cy="124.3" rx="0.56" ry="0.37" fill="#f2fbff" opacity="0.85"/><ellipse cx="374.1" cy="119.2" rx="0.71" ry="0.48" fill="#f2fbff" opacity="0.85"/><ellipse cx="360.8" cy="111.6" rx="0.88" ry="0.59" fill="#f2fbff" opacity="0.85"/><ellipse cx="362.5" cy="120.0" rx="0.40" ry="0.27" fill="#f2fbff" opacity="0.85"/><ellipse cx="419.5" cy="119.4" rx="0.57" ry="0.38" fill="#f2fbff" opacity="0.85"/><ellipse cx="421.8" cy="122.5" rx="0.41" ry="0.27" fill="#f2fbff" opacity="0.85"/><ellipse cx="363.0" cy="113.9" rx="0.99" ry="0.66" fill="#f2fbff" opacity="0.85"/><ellipse cx="354.4" cy="101.3" rx="0.56" ry="0.38" fill="#f2fbff" opacity="0.85"/><ellipse cx="346.7" cy="111.6" rx="0.70" ry="0.47" fill="#f2fbff" opacity="0.85"/><ellipse cx="378.3" cy="104.0" rx="0.38" ry="0.26" fill="#f2fbff" opacity="0.85"/><ellipse cx="407.3" cy="112.5" rx="0.67" ry="0.44" fill="#f2fbff" opacity="0.85"/><ellipse cx="381.3" cy="119.4" rx="0.93" ry="0.62" fill="#f2fbff" opacity="0.85"/><ellipse cx="409.3" cy="120.6" rx="0.58" ry="0.39" fill="#f2fbff" opacity="0.85"/><ellipse cx="356.6" cy="102.5" rx="0.90" ry="0.60" fill="#f2fbff" opacity="0.85"/><ellipse cx="347.7" cy="116.1" rx="0.93" ry="0.62" fill="#f2fbff" opacity="0.85"/><ellipse cx="368.9" cy="111.0" rx="0.63" ry="0.42" fill="#f2fbff" opacity="0.85"/><ellipse cx="418.7" cy="119.4" rx="0.89" ry="0.59" fill="#f2fbff" opacity="0.85"/><ellipse cx="346.2" cy="120.7" rx="0.65" ry="0.43" fill="#f2fbff" opacity="0.85"/><ellipse cx="375.2" cy="123.1" rx="0.83" ry="0.55" fill="#f2fbff" opacity="0.85"/><ellipse cx="415.9" cy="120.9" rx="0.93" ry="0.62" fill="#f2fbff" opacity="0.85"/><ellipse cx="377.4" cy="115.7" rx="0.86" ry="0.57" fill="#f2fbff" opacity="0.85"/><ellipse cx="379.4" cy="103.9" rx="0.73" ry="0.49" fill="#f2fbff" opacity="0.85"/><ellipse cx="412.8" cy="124.6" rx="0.45" ry="0.30" fill="#f2fbff" opacity="0.85"/><ellipse cx="373.6" cy="106.5" rx="0.58" ry="0.39" fill="#f2fbff" opacity="0.85"/><ellipse cx="419.9" cy="111.9" rx="0.56" ry="0.38" fill="#f2fbff" opacity="0.85"/><ellipse cx="364.9" cy="112.5" rx="0.79" ry="0.52" fill="#f2fbff" opacity="0.85"/><ellipse cx="370.5" cy="105.3" rx="0.51" ry="0.34" fill="#f2fbff" opacity="0.85"/><ellipse cx="363.9" cy="125.6" rx="0.47" ry="0.32" fill="#f2fbff" opacity="0.85"/><ellipse cx="403.4" cy="103.1" rx="0.86" ry="0.57" fill="#f2fbff" opacity="0.85"/><ellipse cx="364.4" cy="122.1" rx="0.64" ry="0.43" fill="#f2fbff" opacity="0.85"/><ellipse cx="349.4" cy="102.7" rx="0.87" ry="0.58" fill="#f2fbff" opacity="0.85"/><ellipse cx="386.5" cy="113.8" rx="0.59" ry="0.39" fill="#f2fbff" opacity="0.85"/><ellipse cx="398.4" cy="113.7" rx="0.41" ry="0.27" fill="#f2fbff" opacity="0.85"/><ellipse cx="391.2" cy="108.9" rx="0.89" ry="0.60" fill="#f2fbff" opacity="0.85"/><ellipse cx="387.0" cy="121.9" rx="0.44" ry="0.30" fill="#f2fbff" opacity="0.85"/><ellipse cx="399.7" cy="117.3" rx="0.90" ry="0.60" fill="#f2fbff" opacity="0.85"/><ellipse cx="413.8" cy="115.6" rx="0.74" ry="0.49" fill="#f2fbff" opacity="0.85"/><ellipse cx="404.5" cy="107.5" rx="0.71" ry="0.47" fill="#f2fbff" opacity="0.85"/><ellipse cx="406.0" cy="116.8" rx="0.71" ry="0.47" fill="#f2fbff" opacity="0.85"/><ellipse cx="411.6" cy="127.6" rx="0.53" ry="0.35" fill="#f2fbff" opacity="0.85"/><ellipse cx="349.1" cy="117.4" rx="0.46" ry="0.31" fill="#f2fbff" opacity="0.85"/><ellipse cx="420.7" cy="113.4" rx="0.70" ry="0.47" fill="#f2fbff" opacity="0.85"/><ellipse cx="408.5" cy="124.6" rx="0.46" ry="0.31" fill="#f2fbff" opacity="0.85"/><ellipse cx="379.4" cy="105.1" rx="0.66" ry="0.44" fill="#f2fbff" opacity="0.85"/><ellipse cx="353.8" cy="124.8" rx="0.59" ry="0.39" fill="#f2fbff" opacity="0.85"/><ellipse cx="374.2" cy="125.4" rx="0.88" ry="0.59" fill="#f2fbff" opacity="0.85"/><ellipse cx="370.0" cy="114.1" rx="0.78" ry="0.52" fill="#f2fbff" opacity="0.85"/><ellipse cx="358.1" cy="103.9" rx="0.90" ry="0.60" fill="#f2fbff" opacity="0.85"/><ellipse cx="356.1" cy="120.0" rx="0.83" ry="0.55" fill="#f2fbff" opacity="0.85"/><ellipse cx="390.4" cy="109.8" rx="0.90" ry="0.60" fill="#f2fbff" opacity="0.85"/><ellipse cx="406.0" cy="102.0" rx="0.93" ry="0.62" fill="#f2fbff" opacity="0.85"/><ellipse cx="394.0" cy="108.2" rx="0.47" ry="0.32" fill="#f2fbff" opacity="0.85"/><ellipse cx="350.9" cy="123.0" rx="0.90" ry="0.60" fill="#f2fbff" opacity="0.85"/><ellipse cx="370.9" cy="105.1" rx="0.42" ry="0.28" fill="#f2fbff" opacity="0.85"/><ellipse cx="376.2" cy="108.4" rx="0.40" ry="0.27" fill="#f2fbff" opacity="0.85"/><ellipse cx="366.9" cy="123.2" rx="0.41" ry="0.27" fill="#f2fbff" opacity="0.85"/><ellipse cx="375.4" cy="114.6" rx="0.47" ry="0.31" fill="#f2fbff" opacity="0.85"/><ellipse cx="346.0" cy="102.1" rx="0.46" ry="0.31" fill="#f2fbff" opacity="0.85"/><ellipse cx="421.1" cy="124.4" rx="0.81" ry="0.54" fill="#f2fbff" opacity="0.85"/><ellipse cx="415.1" cy="109.2" rx="0.52" ry="0.35" fill="#f2fbff" opacity="0.85"/><ellipse cx="412.7" cy="117.2" rx="0.94" ry="0.63" fill="#f2fbff" opacity="0.85"/><ellipse cx="371.8" cy="111.7" rx="0.81" ry="0.54" fill="#f2fbff" opacity="0.85"/><ellipse cx="413.7" cy="104.7" rx="0.53" ry="0.36" fill="#f2fbff" opacity="0.85"/><ellipse cx="344.2" cy="115.8" rx="0.94" ry="0.63" fill="#f2fbff" opacity="0.85"/><ellipse cx="388.5" cy="104.2" rx="0.80" ry="0.53" fill="#f2fbff" opacity="0.85"/><ellipse cx="395.1" cy="103.0" rx="0.94" ry="0.62" fill="#f2fbff" opacity="0.85"/><ellipse cx="395.9" cy="113.9" rx="0.58" ry="0.39" fill="#f2fbff" opacity="0.85"/><ellipse cx="355.9" cy="113.2" rx="0.60" ry="0.40" fill="#f2fbff" opacity="0.85"/><ellipse cx="361.7" cy="118.3" rx="0.78" ry="0.52" fill="#f2fbff" opacity="0.85"/><ellipse cx="419.4" cy="127.4" rx="0.66" ry="0.44" fill="#f2fbff" opacity="0.85"/><ellipse cx="400.4" cy="110.6" rx="0.64" ry="0.43" fill="#f2fbff" opacity="0.85"/><ellipse cx="388.5" cy="127.8" rx="0.40" ry="0.26" fill="#f2fbff" opacity="0.85"/><ellipse cx="380.1" cy="109.5" rx="0.87" ry="0.58" fill="#f2fbff" opacity="0.85"/><ellipse cx="419.1" cy="113.4" rx="0.42" ry="0.28" fill="#f2fbff" opacity="0.85"/><ellipse cx="390.7" cy="116.6" rx="0.79" ry="0.53" fill="#f2fbff" opacity="0.85"/><ellipse cx="405.2" cy="113.1" rx="0.71" ry="0.47" fill="#f2fbff" opacity="0.85"/><ellipse cx="404.5" cy="100.8" rx="0.52" ry="0.35" fill="#f2fbff" opacity="0.85"/><ellipse cx="398.1" cy="127.7" rx="0.95" ry="0.64" fill="#f2fbff" opacity="0.85"/><ellipse cx="365.6" cy="127.5" rx="0.54" ry="0.36" fill="#f2fbff" opacity="0.85"/><ellipse cx="379.3" cy="104.5" rx="0.74" ry="0.50" fill="#f2fbff" opacity="0.85"/><ellipse cx="374.4" cy="119.4" rx="0.96" ry="0.64" fill="#f2fbff" opacity="0.85"/><ellipse cx="353.3" cy="118.6" rx="0.74" ry="0.50" fill="#f2fbff" opacity="0.85"/><ellipse cx="365.0" cy="101.0" rx="0.95" ry="0.63" fill="#f2fbff" opacity="0.85"/><ellipse cx="398.7" cy="117.7" rx="0.43" ry="0.29" fill="#f2fbff" opacity="0.85"/><ellipse cx="415.1" cy="111.3" rx="0.66" ry="0.44" fill="#f2fbff" opacity="0.85"/><ellipse cx="387.6" cy="112.6" rx="0.96" ry="0.64" fill="#f2fbff" opacity="0.85"/><ellipse cx="380.5" cy="119.2" rx="0.85" ry="0.57" fill="#f2fbff" opacity="0.85"/><ellipse cx="417.7" cy="104.8" rx="0.58" ry="0.39" fill="#f2fbff" opacity="0.85"/><ellipse cx="419.1" cy="117.2" rx="0.60" ry="0.40" fill="#f2fbff" opacity="0.85"/><ellipse cx="413.6" cy="103.4" rx="0.53" ry="0.35" fill="#f2fbff" opacity="0.85"/><ellipse cx="348.6" cy="119.0" rx="0.67" ry="0.45" fill="#f2fbff" opacity="0.85"/><ellipse cx="367.5" cy="112.4" rx="0.53" ry="0.35" fill="#f2fbff" opacity="0.85"/><ellipse cx="399.8" cy="121.5" rx="0.61" ry="0.40" fill="#f2fbff" opacity="0.85"/><ellipse cx="412.6" cy="101.3" rx="0.72" ry="0.48" fill="#f2fbff" opacity="0.85"/><ellipse cx="355.4" cy="103.3" rx="0.72" ry="0.48" fill="#f2fbff" opacity="0.85"/><ellipse cx="350.1" cy="102.1" rx="0.45" ry="0.30" fill="#f2fbff" opacity="0.85"/><ellipse cx="373.2" cy="123.5" rx="0.55" ry="0.37" fill="#f2fbff" opacity="0.85"/><ellipse cx="352.9" cy="121.7" rx="0.88" ry="0.58" fill="#f2fbff" opacity="0.85"/><ellipse cx="422.8" cy="101.4" rx="0.47" ry="0.31" fill="#f2fbff" opacity="0.85"/><ellipse cx="377.8" cy="128.1" rx="0.70" ry="0.47" fill="#f2fbff" opacity="0.85"/><ellipse cx="413.8" cy="106.3" rx="0.66" ry="0.44" fill="#f2fbff" opacity="0.85"/><ellipse cx="398.0" cy="106.4" rx="0.69" ry="0.46" fill="#f2fbff" opacity="0.85"/><ellipse cx="409.1" cy="123.1" rx="0.80" ry="0.53" fill="#f2fbff" opacity="0.85"/><ellipse cx="409.4" cy="128.2" rx="0.74" ry="0.50" fill="#f2fbff" opacity="0.85"/><ellipse cx="363.0" cy="106.3" rx="0.40" ry="0.27" fill="#f2fbff" opacity="0.85"/><ellipse cx="416.6" cy="116.2" rx="0.74" ry="0.50" fill="#f2fbff" opacity="0.85"/><ellipse cx="412.9" cy="119.6" rx="0.61" ry="0.41" fill="#f2fbff" opacity="0.85"/><ellipse cx="390.0" cy="102.3" rx="0.53" ry="0.35" fill="#f2fbff" opacity="0.85"/><ellipse cx="370.6" cy="122.5" rx="0.78" ry="0.52" fill="#f2fbff" opacity="0.85"/><ellipse cx="391.4" cy="111.2" rx="0.59" ry="0.39" fill="#f2fbff" opacity="0.85"/><ellipse cx="373.9" cy="101.4" rx="0.59" ry="0.40" fill="#f2fbff" opacity="0.85"/><ellipse cx="415.8" cy="123.1" rx="0.52" ry="0.35" fill="#f2fbff" opacity="0.85"/><ellipse cx="383.0" cy="121.1" rx="0.49" ry="0.33" fill="#f2fbff" opacity="0.85"/><ellipse cx="371.6" cy="116.6" rx="0.49" ry="0.32" fill="#f2fbff" opacity="0.85"/><ellipse cx="415.9" cy="100.5" rx="0.92" ry="0.61" fill="#f2fbff" opacity="0.85"/><ellipse cx="396.6" cy="111.2" rx="0.55" ry="0.37" fill="#f2fbff" opacity="0.85"/><ellipse cx="412.6" cy="120.1" rx="0.50" ry="0.33" fill="#f2fbff" opacity="0.85"/><ellipse cx="368.5" cy="102.6" rx="0.76" ry="0.51" fill="#f2fbff" opacity="0.85"/><ellipse cx="377.0" cy="109.0" rx="0.81" ry="0.54" fill="#f2fbff" opacity="0.85"/><ellipse cx="363.4" cy="104.0" rx="0.86" ry="0.58" fill="#f2fbff" opacity="0.85"/><ellipse cx="414.0" cy="122.8" rx="0.72" ry="0.48" fill="#f2fbff" opacity="0.85"/><ellipse cx="400.5" cy="124.4" rx="0.39" ry="0.26" fill="#f2fbff" opacity="0.85"/><ellipse cx="367.0" cy="110.1" rx="0.82" ry="0.55" fill="#f2fbff" opacity="0.85"/><ellipse cx="370.0" cy="121.6" rx="0.53" ry="0.35" fill="#f2fbff" opacity="0.85"/><ellipse cx="418.8" cy="112.3" rx="0.74" ry="0.49" fill="#f2fbff" opacity="0.85"/><ellipse cx="393.4" cy="123.3" rx="0.72" ry="0.48" fill="#f2fbff" opacity="0.85"/><ellipse cx="360.0" cy="112.5" rx="0.72" ry="0.48" fill="#f2fbff" opacity="0.85"/><ellipse cx="348.9" cy="123.5" rx="0.56" ry="0.37" fill="#f2fbff" opacity="0.85"/><ellipse cx="416.7" cy="110.5" rx="0.96" ry="0.64" fill="#f2fbff" opacity="0.85"/><ellipse cx="400.9" cy="111.1" rx="0.80" ry="0.54" fill="#f2fbff" opacity="0.85"/><ellipse cx="343.1" cy="102.4" rx="0.73" ry="0.49" fill="#f2fbff" opacity="0.85"/><ellipse cx="367.7" cy="111.5" rx="0.81" ry="0.54" fill="#f2fbff" opacity="0.85"/><ellipse cx="381.0" cy="117.3" rx="0.83" ry="0.55" fill="#f2fbff" opacity="0.85"/><ellipse cx="409.9" cy="103.0" rx="0.88" ry="0.59" fill="#f2fbff" opacity="0.85"/><ellipse cx="402.6" cy="106.4" rx="0.42" ry="0.28" fill="#f2fbff" opacity="0.85"/><ellipse cx="358.6" cy="102.5" rx="0.72" ry="0.48" fill="#f2fbff" opacity="0.85"/><ellipse cx="422.7" cy="113.8" rx="0.54" ry="0.36" fill="#f2fbff" opacity="0.85"/><ellipse cx="356.7" cy="127.5" rx="0.71" ry="0.47" fill="#f2fbff" opacity="0.85"/><ellipse cx="362.2" cy="125.8" rx="0.63" ry="0.42" fill="#f2fbff" opacity="0.85"/><ellipse cx="421.9" cy="114.5" rx="0.53" ry="0.35" fill="#f2fbff" opacity="0.85"/><ellipse cx="358.0" cy="100.5" rx="0.87" ry="0.58" fill="#f2fbff" opacity="0.85"/><ellipse cx="369.3" cy="120.6" rx="0.89" ry="0.59" fill="#f2fbff" opacity="0.85"/><ellipse cx="375.3" cy="114.4" rx="0.82" ry="0.54" fill="#f2fbff" opacity="0.85"/><ellipse cx="394.5" cy="110.3" rx="0.49" ry="0.33" fill="#f2fbff" opacity="0.85"/><ellipse cx="365.9" cy="100.6" rx="0.76" ry="0.51" fill="#f2fbff" opacity="0.85"/><ellipse cx="394.4" cy="121.9" rx="0.64" ry="0.43" fill="#f2fbff" opacity="0.85"/><ellipse cx="401.6" cy="115.8" rx="0.90" ry="0.60" fill="#f2fbff" opacity="0.85"/><ellipse cx="387.1" cy="119.0" rx="0.74" ry="0.49" fill="#f2fbff" opacity="0.85"/><ellipse cx="359.3" cy="102.2" rx="0.88" ry="0.59" fill="#f2fbff" opacity="0.85"/><ellipse cx="398.5" cy="114.4" rx="0.94" ry="0.62" fill="#f2fbff" opacity="0.85"/><ellipse cx="357.7" cy="120.7" rx="0.68" ry="0.45" fill="#f2fbff" opacity="0.85"/><ellipse cx="351.5" cy="103.6" rx="0.39" ry="0.26" fill="#f2fbff" opacity="0.85"/><ellipse cx="358.2" cy="122.0" rx="0.67" ry="0.44" fill="#f2fbff" opacity="0.85"/><ellipse cx="346.9" cy="114.0" rx="0.97" ry="0.65" fill="#f2fbff" opacity="0.85"/><ellipse cx="406.1" cy="108.5" rx="0.67" ry="0.45" fill="#f2fbff" opacity="0.85"/><ellipse cx="372.5" cy="106.5" rx="0.78" ry="0.52" fill="#f2fbff" opacity="0.85"/><ellipse cx="345.0" cy="113.4" rx="0.95" ry="0.63" fill="#f2fbff" opacity="0.85"/><ellipse cx="403.6" cy="118.6" rx="0.89" ry="0.59" fill="#f2fbff" opacity="0.85"/><ellipse cx="419.3" cy="107.7" rx="0.96" ry="0.64" fill="#f2fbff" opacity="0.85"/><ellipse cx="414.6" cy="114.0" rx="0.45" ry="0.30" fill="#f2fbff" opacity="0.85"/><ellipse cx="385.7" cy="114.1" rx="0.99" ry="0.66" fill="#f2fbff" opacity="0.85"/><ellipse cx="362.8" cy="120.3" rx="0.84" ry="0.56" fill="#f2fbff" opacity="0.85"/><ellipse cx="391.2" cy="108.0" rx="0.93" ry="0.62" fill="#f2fbff" opacity="0.85"/><ellipse cx="363.5" cy="124.3" rx="0.92" ry="0.61" fill="#f2fbff" opacity="0.85"/><ellipse cx="385.6" cy="101.5" rx="0.54" ry="0.36" fill="#f2fbff" opacity="0.85"/><ellipse cx="348.4" cy="105.3" rx="0.59" ry="0.39" fill="#f2fbff" opacity="0.85"/><ellipse cx="389.0" cy="122.8" rx="0.40" ry="0.27" fill="#f2fbff" opacity="0.85"/><ellipse cx="402.7" cy="103.1" rx="0.81" ry="0.54" fill="#f2fbff" opacity="0.85"/><ellipse cx="344.0" cy="110.1" rx="0.94" ry="0.63" fill="#f2fbff" opacity="0.85"/><ellipse cx="413.1" cy="101.5" rx="0.61" ry="0.41" fill="#f2fbff" opacity="0.85"/><ellipse cx="416.2" cy="105.0" rx="0.65" ry="0.44" fill="#f2fbff" opacity="0.85"/><ellipse cx="364.0" cy="108.4" rx="0.67" ry="0.45" fill="#f2fbff" opacity="0.85"/><ellipse cx="354.2" cy="104.4" rx="0.97" ry="0.65" fill="#f2fbff" opacity="0.85"/><ellipse cx="404.1" cy="116.9" rx="0.45" ry="0.30" fill="#f2fbff" opacity="0.85"/><ellipse cx="353.7" cy="117.6" rx="0.75" ry="0.50" fill="#f2fbff" opacity="0.85"/><ellipse cx="343.9" cy="127.3" rx="0.60" ry="0.40" fill="#f2fbff" opacity="0.85"/><ellipse cx="364.6" cy="118.0" rx="0.94" ry="0.62" fill="#f2fbff" opacity="0.85"/><ellipse cx="371.1" cy="114.4" rx="0.40" ry="0.27" fill="#f2fbff" opacity="0.85"/><ellipse cx="380.5" cy="125.4" rx="0.95" ry="0.64" fill="#f2fbff" opacity="0.85"/><ellipse cx="371.1" cy="124.4" rx="0.99" ry="0.66" fill="#f2fbff" opacity="0.85"/><ellipse cx="367.4" cy="124.2" rx="0.54" ry="0.36" fill="#f2fbff" opacity="0.85"/><ellipse cx="420.3" cy="125.5" rx="0.97" ry="0.65" fill="#f2fbff" opacity="0.85"/><ellipse cx="375.7" cy="119.4" rx="0.81" ry="0.54" fill="#f2fbff" opacity="0.85"/><ellipse cx="389.7" cy="101.5" rx="0.78" ry="0.52" fill="#f2fbff" opacity="0.85"/><ellipse cx="407.3" cy="118.2" rx="0.93" ry="0.62" fill="#f2fbff" opacity="0.85"/><ellipse cx="420.2" cy="118.1" rx="0.59" ry="0.39" fill="#f2fbff" opacity="0.85"/><ellipse cx="383.7" cy="105.1" rx="0.51" ry="0.34" fill="#f2fbff" opacity="0.85"/><ellipse cx="421.4" cy="112.5" rx="0.66" ry="0.44" fill="#f2fbff" opacity="0.85"/><ellipse cx="414.1" cy="122.6" rx="0.40" ry="0.26" fill="#f2fbff" opacity="0.85"/><ellipse cx="376.1" cy="115.1" rx="0.52" ry="0.34" fill="#f2fbff" opacity="0.85"/><ellipse cx="404.3" cy="117.5" rx="0.90" ry="0.60" fill="#f2fbff" opacity="0.85"/><ellipse cx="353.9" cy="105.3" rx="0.56" ry="0.37" fill="#f2fbff" opacity="0.85"/><ellipse cx="384.5" cy="107.2" rx="0.69" ry="0.46" fill="#f2fbff" opacity="0.85"/><ellipse cx="370.8" cy="101.8" rx="0.88" ry="0.59" fill="#f2fbff" opacity="0.85"/><ellipse cx="386.4" cy="125.5" rx="0.69" ry="0.46" fill="#f2fbff" opacity="0.85"/><ellipse cx="411.9" cy="117.2" rx="0.59" ry="0.44" fill="#15202b" opacity="0.93"/><ellipse cx="372.0" cy="127.7" rx="0.64" ry="0.47" fill="#15202b" opacity="0.93"/><ellipse cx="350.6" cy="115.3" rx="0.49" ry="0.36" fill="#15202b" opacity="0.88"/><ellipse cx="416.0" cy="124.3" rx="0.53" ry="0.39" fill="#15202b" opacity="0.58"/><ellipse cx="421.0" cy="105.8" rx="0.77" ry="0.57" fill="#15202b" opacity="0.79"/><ellipse cx="401.6" cy="120.0" rx="0.45" ry="0.33" fill="#15202b" opacity="0.70"/><ellipse cx="373.9" cy="119.9" rx="0.69" ry="0.51" fill="#15202b" opacity="0.95"/><ellipse cx="386.1" cy="109.9" rx="0.39" ry="0.29" fill="#15202b" opacity="0.73"/><ellipse cx="390.7" cy="119.5" rx="0.34" ry="0.25" fill="#15202b" opacity="0.63"/><ellipse cx="394.0" cy="122.2" rx="0.83" ry="0.61" fill="#15202b" opacity="0.61"/><ellipse cx="401.3" cy="112.7" rx="0.64" ry="0.47" fill="#15202b" opacity="0.82"/><ellipse cx="375.6" cy="117.2" rx="0.84" ry="0.62" fill="#15202b" opacity="0.56"/><ellipse cx="387.2" cy="128.3" rx="0.80" ry="0.59" fill="#15202b" opacity="0.65"/><ellipse cx="405.7" cy="125.9" rx="0.54" ry="0.40" fill="#15202b" opacity="0.77"/><ellipse cx="366.7" cy="128.2" rx="0.42" ry="0.31" fill="#15202b" opacity="0.83"/><ellipse cx="422.3" cy="127.6" rx="0.78" ry="0.58" fill="#15202b" opacity="0.72"/><ellipse cx="418.2" cy="124.3" rx="0.55" ry="0.41" fill="#15202b" opacity="0.70"/><ellipse cx="369.4" cy="109.2" rx="0.63" ry="0.47" fill="#15202b" opacity="0.72"/><ellipse cx="419.8" cy="100.0" rx="0.65" ry="0.48" fill="#15202b" opacity="0.72"/><ellipse cx="422.9" cy="128.2" rx="0.71" ry="0.52" fill="#15202b" opacity="0.84"/><ellipse cx="373.5" cy="119.8" rx="0.45" ry="0.34" fill="#15202b" opacity="0.88"/><ellipse cx="389.1" cy="106.5" rx="0.44" ry="0.32" fill="#15202b" opacity="0.71"/><ellipse cx="370.7" cy="118.8" rx="0.57" ry="0.42" fill="#15202b" opacity="0.56"/><ellipse cx="369.2" cy="112.8" rx="0.86" ry="0.63" fill="#15202b" opacity="0.92"/><ellipse cx="392.4" cy="127.3" rx="0.40" ry="0.30" fill="#15202b" opacity="0.63"/><ellipse cx="355.2" cy="107.3" rx="0.47" ry="0.35" fill="#15202b" opacity="0.77"/><ellipse cx="414.1" cy="110.0" rx="0.50" ry="0.37" fill="#15202b" opacity="0.74"/><ellipse cx="419.0" cy="114.3" rx="0.85" ry="0.63" fill="#15202b" opacity="0.67"/><ellipse cx="387.3" cy="117.8" rx="0.71" ry="0.53" fill="#15202b" opacity="0.88"/><ellipse cx="352.6" cy="105.8" rx="0.38" ry="0.28" fill="#15202b" opacity="0.86"/><ellipse cx="382.6" cy="114.0" rx="0.34" ry="0.25" fill="#15202b" opacity="0.87"/><ellipse cx="420.8" cy="100.4" rx="0.86" ry="0.63" fill="#15202b" opacity="0.74"/><ellipse cx="352.5" cy="100.8" rx="0.70" ry="0.52" fill="#15202b" opacity="0.87"/><ellipse cx="375.9" cy="124.6" rx="0.32" ry="0.24" fill="#15202b" opacity="0.90"/><ellipse cx="355.8" cy="105.3" rx="0.50" ry="0.37" fill="#15202b" opacity="0.68"/><ellipse cx="415.0" cy="114.3" rx="0.55" ry="0.41" fill="#15202b" opacity="0.87"/><ellipse cx="377.6" cy="108.8" rx="0.51" ry="0.38" fill="#15202b" opacity="0.78"/><ellipse cx="415.9" cy="126.2" rx="0.33" ry="0.25" fill="#15202b" opacity="0.70"/><ellipse cx="398.9" cy="114.0" rx="0.72" ry="0.53" fill="#15202b" opacity="0.93"/><ellipse cx="346.8" cy="119.7" rx="0.45" ry="0.33" fill="#15202b" opacity="0.81"/><ellipse cx="358.3" cy="104.0" rx="0.78" ry="0.58" fill="#15202b" opacity="0.81"/><ellipse cx="394.2" cy="112.2" rx="0.46" ry="0.34" fill="#15202b" opacity="0.58"/><ellipse cx="419.0" cy="122.4" rx="0.73" ry="0.54" fill="#15202b" opacity="0.58"/><ellipse cx="344.1" cy="113.2" rx="0.38" ry="0.28" fill="#15202b" opacity="0.80"/><ellipse cx="367.7" cy="122.0" rx="0.41" ry="0.30" fill="#15202b" opacity="0.75"/><ellipse cx="376.0" cy="106.6" rx="0.50" ry="0.37" fill="#15202b" opacity="0.63"/><ellipse cx="367.3" cy="112.5" rx="0.53" ry="0.39" fill="#15202b" opacity="0.81"/><ellipse cx="413.4" cy="114.3" rx="0.43" ry="0.32" fill="#15202b" opacity="0.75"/><ellipse cx="355.1" cy="123.8" rx="0.33" ry="0.24" fill="#15202b" opacity="0.66"/><ellipse cx="417.3" cy="116.5" rx="0.51" ry="0.37" fill="#15202b" opacity="0.56"/><ellipse cx="357.4" cy="123.7" rx="0.36" ry="0.27" fill="#15202b" opacity="0.83"/><ellipse cx="356.1" cy="121.4" rx="0.38" ry="0.28" fill="#15202b" opacity="0.60"/><ellipse cx="358.8" cy="126.9" rx="0.33" ry="0.25" fill="#15202b" opacity="0.74"/><ellipse cx="415.8" cy="119.1" rx="0.33" ry="0.24" fill="#15202b" opacity="0.82"/><ellipse cx="367.8" cy="106.3" rx="0.39" ry="0.29" fill="#15202b" opacity="0.60"/><ellipse cx="388.1" cy="121.4" rx="0.81" ry="0.60" fill="#15202b" opacity="0.81"/><ellipse cx="378.1" cy="125.8" rx="0.41" ry="0.31" fill="#15202b" opacity="0.92"/><ellipse cx="421.7" cy="115.3" rx="0.72" ry="0.54" fill="#15202b" opacity="0.80"/><ellipse cx="398.9" cy="119.2" rx="0.70" ry="0.51" fill="#15202b" opacity="0.82"/><ellipse cx="381.8" cy="105.3" rx="0.50" ry="0.37" fill="#15202b" opacity="0.68"/><ellipse cx="398.1" cy="103.8" rx="0.70" ry="0.51" fill="#15202b" opacity="0.74"/><ellipse cx="416.9" cy="112.0" rx="0.73" ry="0.54" fill="#15202b" opacity="0.61"/><ellipse cx="354.5" cy="124.1" rx="0.77" ry="0.57" fill="#15202b" opacity="0.65"/><ellipse cx="376.8" cy="121.6" rx="0.37" ry="0.27" fill="#15202b" opacity="0.82"/><ellipse cx="398.7" cy="126.9" rx="0.86" ry="0.64" fill="#15202b" opacity="0.86"/><ellipse cx="352.5" cy="123.1" rx="0.41" ry="0.30" fill="#15202b" opacity="0.66"/><ellipse cx="408.3" cy="114.0" rx="0.55" ry="0.41" fill="#15202b" opacity="0.90"/><ellipse cx="410.9" cy="108.4" rx="0.77" ry="0.57" fill="#15202b" opacity="0.95"/><ellipse cx="397.8" cy="106.2" rx="0.61" ry="0.45" fill="#15202b" opacity="0.77"/><ellipse cx="365.9" cy="121.0" rx="0.39" ry="0.29" fill="#15202b" opacity="0.62"/><ellipse cx="419.1" cy="109.6" rx="0.40" ry="0.30" fill="#15202b" opacity="0.86"/><ellipse cx="407.2" cy="112.5" rx="0.59" ry="0.43" fill="#15202b" opacity="0.55"/><ellipse cx="344.3" cy="125.6" rx="0.84" ry="0.62" fill="#15202b" opacity="0.84"/><ellipse cx="398.1" cy="111.4" rx="0.49" ry="0.36" fill="#15202b" opacity="0.84"/><ellipse cx="406.3" cy="102.3" rx="0.39" ry="0.28" fill="#15202b" opacity="0.58"/><ellipse cx="399.5" cy="113.7" rx="0.36" ry="0.27" fill="#15202b" opacity="0.75"/><ellipse cx="418.1" cy="121.7" rx="0.72" ry="0.53" fill="#15202b" opacity="0.81"/><ellipse cx="358.9" cy="115.4" rx="0.56" ry="0.42" fill="#15202b" opacity="0.93"/><ellipse cx="345.1" cy="100.7" rx="0.34" ry="0.25" fill="#15202b" opacity="0.58"/><ellipse cx="368.4" cy="118.1" rx="0.73" ry="0.54" fill="#15202b" opacity="0.87"/><ellipse cx="349.6" cy="111.8" rx="0.64" ry="0.47" fill="#15202b" opacity="0.68"/><ellipse cx="364.9" cy="104.9" rx="0.51" ry="0.38" fill="#15202b" opacity="0.59"/><ellipse cx="423.0" cy="120.5" rx="0.83" ry="0.62" fill="#15202b" opacity="0.57"/><ellipse cx="352.2" cy="118.5" rx="0.85" ry="0.63" fill="#15202b" opacity="0.71"/><ellipse cx="368.2" cy="111.2" rx="0.32" ry="0.24" fill="#15202b" opacity="0.63"/><ellipse cx="355.0" cy="104.1" rx="0.85" ry="0.63" fill="#15202b" opacity="0.81"/><ellipse cx="409.6" cy="112.0" rx="0.61" ry="0.45" fill="#15202b" opacity="0.70"/><ellipse cx="380.2" cy="122.4" rx="0.69" ry="0.51" fill="#15202b" opacity="0.61"/><ellipse cx="364.3" cy="118.5" rx="0.60" ry="0.44" fill="#15202b" opacity="0.77"/><ellipse cx="346.8" cy="108.1" rx="0.56" ry="0.41" fill="#15202b" opacity="0.91"/><ellipse cx="421.0" cy="102.5" rx="0.55" ry="0.41" fill="#15202b" opacity="0.63"/><ellipse cx="376.2" cy="116.9" rx="0.72" ry="0.53" fill="#15202b" opacity="0.78"/><ellipse cx="392.8" cy="116.7" rx="0.42" ry="0.31" fill="#15202b" opacity="0.63"/><ellipse cx="382.6" cy="102.1" rx="0.53" ry="0.39" fill="#15202b" opacity="0.80"/><ellipse cx="413.0" cy="127.6" rx="0.63" ry="0.47" fill="#15202b" opacity="0.61"/><ellipse cx="388.8" cy="119.2" rx="0.44" ry="0.33" fill="#15202b" opacity="0.88"/><ellipse cx="358.5" cy="118.3" rx="0.83" ry="0.62" fill="#15202b" opacity="0.89"/><ellipse cx="403.5" cy="108.3" rx="0.55" ry="0.40" fill="#15202b" opacity="0.91"/><ellipse cx="382.3" cy="105.8" rx="0.51" ry="0.37" fill="#15202b" opacity="0.58"/><ellipse cx="419.7" cy="110.7" rx="0.58" ry="0.43" fill="#15202b" opacity="0.57"/><ellipse cx="393.1" cy="104.4" rx="0.43" ry="0.32" fill="#15202b" opacity="0.86"/><ellipse cx="381.8" cy="115.8" rx="0.47" ry="0.35" fill="#15202b" opacity="0.58"/><ellipse cx="369.7" cy="110.9" rx="0.80" ry="0.59" fill="#15202b" opacity="0.84"/><ellipse cx="379.8" cy="115.6" rx="0.70" ry="0.52" fill="#15202b" opacity="0.85"/><ellipse cx="403.8" cy="108.1" rx="0.54" ry="0.40" fill="#15202b" opacity="0.66"/><ellipse cx="373.3" cy="123.3" rx="0.57" ry="0.42" fill="#15202b" opacity="0.57"/><ellipse cx="402.1" cy="109.6" rx="0.71" ry="0.52" fill="#15202b" opacity="0.92"/><ellipse cx="415.3" cy="115.9" rx="0.33" ry="0.24" fill="#15202b" opacity="0.91"/><ellipse cx="347.0" cy="114.8" rx="0.34" ry="0.25" fill="#15202b" opacity="0.58"/><ellipse cx="411.8" cy="119.3" rx="0.65" ry="0.48" fill="#15202b" opacity="0.62"/><ellipse cx="362.8" cy="108.5" rx="0.76" ry="0.56" fill="#15202b" opacity="0.64"/><ellipse cx="389.8" cy="124.1" rx="0.37" ry="0.28" fill="#15202b" opacity="0.71"/><ellipse cx="363.0" cy="116.6" rx="0.50" ry="0.37" fill="#15202b" opacity="0.93"/><ellipse cx="369.5" cy="124.4" rx="0.54" ry="0.40" fill="#15202b" opacity="0.75"/><ellipse cx="402.9" cy="120.6" rx="0.68" ry="0.50" fill="#15202b" opacity="0.64"/><ellipse cx="379.4" cy="102.1" rx="0.44" ry="0.33" fill="#15202b" opacity="0.74"/><ellipse cx="414.3" cy="124.5" rx="0.47" ry="0.34" fill="#15202b" opacity="0.84"/><ellipse cx="421.9" cy="119.4" rx="0.79" ry="0.58" fill="#15202b" opacity="0.73"/><ellipse cx="407.4" cy="117.3" rx="0.62" ry="0.46" fill="#15202b" opacity="0.73"/><ellipse cx="390.1" cy="114.4" rx="0.62" ry="0.46" fill="#15202b" opacity="0.57"/><ellipse cx="400.5" cy="105.2" rx="0.38" ry="0.28" fill="#15202b" opacity="0.91"/><ellipse cx="409.4" cy="122.7" rx="0.55" ry="0.41" fill="#15202b" opacity="0.61"/><ellipse cx="373.2" cy="103.6" rx="0.56" ry="0.42" fill="#15202b" opacity="0.65"/><ellipse cx="377.5" cy="125.5" rx="0.83" ry="0.61" fill="#15202b" opacity="0.61"/><ellipse cx="390.9" cy="124.4" rx="0.85" ry="0.63" fill="#15202b" opacity="0.77"/><ellipse cx="403.3" cy="103.2" rx="0.48" ry="0.36" fill="#15202b" opacity="0.84"/><ellipse cx="413.4" cy="103.8" rx="0.79" ry="0.58" fill="#15202b" opacity="0.89"/><ellipse cx="350.3" cy="117.7" rx="0.48" ry="0.36" fill="#15202b" opacity="0.88"/><ellipse cx="373.7" cy="125.4" rx="0.71" ry="0.52" fill="#15202b" opacity="0.65"/><ellipse cx="382.5" cy="115.9" rx="0.55" ry="0.40" fill="#15202b" opacity="0.89"/><ellipse cx="353.6" cy="125.1" rx="0.82" ry="0.61" fill="#15202b" opacity="0.67"/><ellipse cx="397.4" cy="117.9" rx="0.81" ry="0.60" fill="#15202b" opacity="0.62"/><ellipse cx="411.5" cy="121.2" rx="0.73" ry="0.54" fill="#15202b" opacity="0.74"/><ellipse cx="386.4" cy="100.4" rx="0.39" ry="0.29" fill="#15202b" opacity="0.82"/><ellipse cx="415.0" cy="121.8" rx="0.40" ry="0.29" fill="#15202b" opacity="0.68"/><ellipse cx="388.7" cy="113.4" rx="0.77" ry="0.57" fill="#15202b" opacity="0.82"/><ellipse cx="414.6" cy="124.6" rx="0.74" ry="0.55" fill="#15202b" opacity="0.87"/><ellipse cx="419.1" cy="105.8" rx="0.55" ry="0.41" fill="#15202b" opacity="0.91"/><ellipse cx="369.7" cy="109.8" rx="0.37" ry="0.27" fill="#15202b" opacity="0.82"/><ellipse cx="412.6" cy="105.2" rx="0.45" ry="0.33" fill="#15202b" opacity="0.61"/><ellipse cx="410.0" cy="105.9" rx="0.80" ry="0.59" fill="#15202b" opacity="0.93"/><ellipse cx="395.2" cy="126.5" rx="0.80" ry="0.59" fill="#15202b" opacity="0.75"/><ellipse cx="390.0" cy="103.9" rx="0.81" ry="0.60" fill="#15202b" opacity="0.92"/><ellipse cx="351.4" cy="106.0" rx="0.37" ry="0.28" fill="#15202b" opacity="0.83"/><ellipse cx="362.5" cy="100.0" rx="0.86" ry="0.63" fill="#15202b" opacity="0.65"/><ellipse cx="387.2" cy="120.3" rx="0.82" ry="0.61" fill="#15202b" opacity="0.55"/><ellipse cx="351.9" cy="109.9" rx="0.65" ry="0.48" fill="#15202b" opacity="0.88"/><ellipse cx="414.1" cy="125.5" rx="0.70" ry="0.51" fill="#15202b" opacity="0.64"/><ellipse cx="413.3" cy="119.1" rx="0.65" ry="0.48" fill="#15202b" opacity="0.66"/><ellipse cx="364.7" cy="126.7" rx="0.61" ry="0.45" fill="#15202b" opacity="0.75"/><ellipse cx="362.7" cy="107.2" rx="0.40" ry="0.30" fill="#15202b" opacity="0.85"/><ellipse cx="391.7" cy="109.8" rx="0.49" ry="0.36" fill="#15202b" opacity="0.78"/><ellipse cx="370.0" cy="123.8" rx="0.85" ry="0.63" fill="#15202b" opacity="0.71"/><ellipse cx="406.7" cy="111.3" rx="0.86" ry="0.64" fill="#15202b" opacity="0.67"/><ellipse cx="401.5" cy="117.7" rx="0.85" ry="0.63" fill="#15202b" opacity="0.61"/><ellipse cx="363.5" cy="115.3" rx="0.77" ry="0.57" fill="#15202b" opacity="0.82"/><ellipse cx="361.0" cy="115.0" rx="0.76" ry="0.56" fill="#15202b" opacity="0.91"/><ellipse cx="391.0" cy="114.2" rx="0.47" ry="0.35" fill="#15202b" opacity="0.77"/><ellipse cx="371.3" cy="121.9" rx="0.81" ry="0.60" fill="#15202b" opacity="0.87"/><ellipse cx="353.7" cy="125.4" rx="0.34" ry="0.25" fill="#15202b" opacity="0.89"/><ellipse cx="363.4" cy="104.3" rx="0.41" ry="0.30" fill="#15202b" opacity="0.71"/><ellipse cx="394.7" cy="102.9" rx="0.34" ry="0.25" fill="#15202b" opacity="0.68"/><ellipse cx="389.2" cy="107.7" rx="0.43" ry="0.31" fill="#15202b" opacity="0.61"/><ellipse cx="357.3" cy="127.4" rx="0.64" ry="0.48" fill="#15202b" opacity="0.57"/><ellipse cx="408.4" cy="110.9" rx="0.66" ry="0.49" fill="#15202b" opacity="0.75"/><ellipse cx="353.7" cy="115.1" rx="0.51" ry="0.38" fill="#15202b" opacity="0.92"/><ellipse cx="374.5" cy="106.7" rx="0.51" ry="0.38" fill="#15202b" opacity="0.60"/><ellipse cx="346.4" cy="116.7" rx="0.82" ry="0.61" fill="#15202b" opacity="0.83"/><ellipse cx="370.4" cy="101.8" rx="0.43" ry="0.31" fill="#15202b" opacity="0.87"/><ellipse cx="396.2" cy="115.7" rx="0.65" ry="0.48" fill="#15202b" opacity="0.69"/><ellipse cx="378.9" cy="103.2" rx="0.50" ry="0.37" fill="#15202b" opacity="0.79"/><ellipse cx="413.3" cy="105.7" rx="0.60" ry="0.45" fill="#15202b" opacity="0.75"/><ellipse cx="411.5" cy="118.9" rx="0.54" ry="0.40" fill="#15202b" opacity="0.57"/><ellipse cx="416.1" cy="106.1" rx="0.67" ry="0.50" fill="#15202b" opacity="0.88"/><ellipse cx="420.5" cy="119.7" rx="0.61" ry="0.45" fill="#15202b" opacity="0.74"/><ellipse cx="392.0" cy="103.6" rx="0.83" ry="0.61" fill="#15202b" opacity="0.59"/><ellipse cx="416.9" cy="127.3" rx="0.39" ry="0.29" fill="#15202b" opacity="0.64"/><ellipse cx="409.5" cy="100.9" rx="0.77" ry="0.57" fill="#15202b" opacity="0.74"/><ellipse cx="408.3" cy="117.1" rx="0.74" ry="0.55" fill="#15202b" opacity="0.65"/><ellipse cx="394.0" cy="106.3" rx="0.63" ry="0.47" fill="#15202b" opacity="0.57"/><ellipse cx="414.4" cy="123.3" rx="0.49" ry="0.36" fill="#15202b" opacity="0.56"/><ellipse cx="398.9" cy="103.6" rx="0.72" ry="0.53" fill="#15202b" opacity="0.65"/><ellipse cx="404.6" cy="126.8" rx="0.85" ry="0.63" fill="#15202b" opacity="0.84"/><ellipse cx="377.0" cy="115.8" rx="0.40" ry="0.29" fill="#15202b" opacity="0.67"/><ellipse cx="384.6" cy="109.5" rx="0.82" ry="0.61" fill="#15202b" opacity="0.67"/><ellipse cx="400.5" cy="125.5" rx="0.74" ry="0.55" fill="#15202b" opacity="0.89"/><ellipse cx="407.9" cy="119.3" rx="0.33" ry="0.24" fill="#15202b" opacity="0.57"/><ellipse cx="357.4" cy="116.3" rx="0.83" ry="0.62" fill="#15202b" opacity="0.79"/><ellipse cx="369.9" cy="121.6" rx="0.32" ry="0.24" fill="#15202b" opacity="0.75"/><ellipse cx="361.3" cy="109.1" rx="0.55" ry="0.40" fill="#15202b" opacity="0.68"/><ellipse cx="356.0" cy="125.2" rx="0.55" ry="0.40" fill="#15202b" opacity="0.67"/><ellipse cx="391.6" cy="125.4" rx="0.62" ry="0.46" fill="#15202b" opacity="0.72"/><ellipse cx="419.9" cy="109.1" rx="0.51" ry="0.38" fill="#15202b" opacity="0.65"/><ellipse cx="351.3" cy="107.9" rx="0.73" ry="0.54" fill="#15202b" opacity="0.77"/><ellipse cx="414.8" cy="104.3" rx="0.39" ry="0.29" fill="#15202b" opacity="0.82"/><ellipse cx="359.1" cy="126.6" rx="0.84" ry="0.62" fill="#15202b" opacity="0.56"/><ellipse cx="377.4" cy="120.9" rx="0.69" ry="0.51" fill="#15202b" opacity="0.59"/><ellipse cx="371.0" cy="119.1" rx="0.84" ry="0.62" fill="#15202b" opacity="0.84"/><ellipse cx="385.3" cy="122.2" rx="0.42" ry="0.31" fill="#15202b" opacity="0.70"/><ellipse cx="347.7" cy="109.5" rx="0.64" ry="0.48" fill="#15202b" opacity="0.83"/><ellipse cx="393.8" cy="102.8" rx="0.46" ry="0.34" fill="#15202b" opacity="0.94"/><ellipse cx="377.7" cy="114.4" rx="0.80" ry="0.59" fill="#15202b" opacity="0.79"/><ellipse cx="415.1" cy="104.5" rx="0.65" ry="0.48" fill="#15202b" opacity="0.75"/><ellipse cx="383.5" cy="120.7" rx="0.80" ry="0.59" fill="#15202b" opacity="0.60"/><ellipse cx="363.7" cy="103.9" rx="0.40" ry="0.29" fill="#15202b" opacity="0.93"/><ellipse cx="361.1" cy="108.9" rx="0.64" ry="0.48" fill="#15202b" opacity="0.58"/><ellipse cx="421.6" cy="121.6" rx="0.42" ry="0.31" fill="#15202b" opacity="0.62"/><ellipse cx="352.9" cy="113.2" rx="0.63" ry="0.47" fill="#15202b" opacity="0.75"/><ellipse cx="417.9" cy="111.0" rx="0.73" ry="0.54" fill="#15202b" opacity="0.71"/><ellipse cx="368.9" cy="116.3" rx="0.61" ry="0.45" fill="#15202b" opacity="0.89"/><ellipse cx="371.0" cy="109.4" rx="0.64" ry="0.47" fill="#15202b" opacity="0.75"/><ellipse cx="374.8" cy="123.8" rx="0.43" ry="0.32" fill="#15202b" opacity="0.66"/><ellipse cx="353.4" cy="100.2" rx="0.80" ry="0.59" fill="#15202b" opacity="0.94"/><ellipse cx="357.4" cy="124.8" rx="0.84" ry="0.62" fill="#15202b" opacity="0.77"/><ellipse cx="355.7" cy="122.6" rx="0.84" ry="0.62" fill="#15202b" opacity="0.80"/><ellipse cx="405.8" cy="126.0" rx="0.55" ry="0.41" fill="#15202b" opacity="0.93"/><ellipse cx="403.5" cy="112.8" rx="0.70" ry="0.52" fill="#15202b" opacity="0.64"/><ellipse cx="415.1" cy="122.7" rx="0.77" ry="0.57" fill="#15202b" opacity="0.70"/><ellipse cx="347.3" cy="123.0" rx="0.46" ry="0.34" fill="#15202b" opacity="0.60"/><ellipse cx="402.0" cy="104.9" rx="0.73" ry="0.54" fill="#15202b" opacity="0.68"/><ellipse cx="358.3" cy="127.2" rx="0.55" ry="0.40" fill="#15202b" opacity="0.93"/><ellipse cx="401.7" cy="115.1" rx="0.52" ry="0.38" fill="#15202b" opacity="0.62"/><ellipse cx="402.8" cy="103.1" rx="0.77" ry="0.57" fill="#15202b" opacity="0.71"/><ellipse cx="365.4" cy="122.1" rx="0.78" ry="0.58" fill="#15202b" opacity="0.85"/><ellipse cx="344.2" cy="106.7" rx="0.59" ry="0.43" fill="#15202b" opacity="0.80"/><ellipse cx="403.9" cy="103.0" rx="0.86" ry="0.63" fill="#15202b" opacity="0.88"/><ellipse cx="391.1" cy="117.3" rx="0.62" ry="0.46" fill="#15202b" opacity="0.67"/><ellipse cx="368.2" cy="110.5" rx="0.79" ry="0.58" fill="#15202b" opacity="0.70"/><ellipse cx="372.2" cy="114.1" rx="0.54" ry="0.40" fill="#15202b" opacity="0.73"/><ellipse cx="395.9" cy="117.7" rx="0.65" ry="0.48" fill="#15202b" opacity="0.65"/><ellipse cx="375.2" cy="116.8" rx="0.64" ry="0.48" fill="#15202b" opacity="0.86"/><ellipse cx="369.9" cy="110.3" rx="0.46" ry="0.34" fill="#15202b" opacity="0.57"/><ellipse cx="373.0" cy="123.4" rx="0.71" ry="0.52" fill="#15202b" opacity="0.93"/><ellipse cx="400.9" cy="121.9" rx="0.61" ry="0.45" fill="#15202b" opacity="0.60"/><ellipse cx="413.3" cy="116.6" rx="0.70" ry="0.52" fill="#15202b" opacity="0.71"/><ellipse cx="392.5" cy="127.5" rx="0.47" ry="0.35" fill="#15202b" opacity="0.68"/><ellipse cx="396.5" cy="122.6" rx="0.36" ry="0.26" fill="#15202b" opacity="0.90"/><ellipse cx="398.0" cy="114.4" rx="0.50" ry="0.37" fill="#15202b" opacity="0.57"/><ellipse cx="362.3" cy="124.5" rx="0.48" ry="0.35" fill="#15202b" opacity="0.84"/><ellipse cx="366.5" cy="116.3" rx="0.63" ry="0.47" fill="#15202b" opacity="0.55"/><ellipse cx="389.6" cy="118.9" rx="0.49" ry="0.36" fill="#15202b" opacity="0.56"/><ellipse cx="383.2" cy="118.5" rx="0.86" ry="0.64" fill="#15202b" opacity="0.67"/><ellipse cx="352.5" cy="112.5" rx="0.35" ry="0.26" fill="#15202b" opacity="0.91"/><ellipse cx="407.4" cy="124.5" rx="0.43" ry="0.32" fill="#15202b" opacity="0.72"/><ellipse cx="416.1" cy="122.4" rx="0.62" ry="0.46" fill="#15202b" opacity="0.60"/><ellipse cx="414.1" cy="102.0" rx="0.36" ry="0.26" fill="#15202b" opacity="0.66"/><ellipse cx="371.9" cy="108.2" rx="0.36" ry="0.26" fill="#15202b" opacity="0.91"/><ellipse cx="402.3" cy="121.0" rx="0.75" ry="0.55" fill="#15202b" opacity="0.66"/><ellipse cx="392.9" cy="118.4" rx="0.65" ry="0.48" fill="#15202b" opacity="0.59"/><ellipse cx="392.8" cy="110.2" rx="0.77" ry="0.57" fill="#15202b" opacity="0.73"/><ellipse cx="348.6" cy="128.1" rx="0.71" ry="0.53" fill="#15202b" opacity="0.86"/><ellipse cx="349.0" cy="117.2" rx="0.49" ry="0.36" fill="#15202b" opacity="0.90"/><ellipse cx="384.4" cy="102.5" rx="0.66" ry="0.49" fill="#15202b" opacity="0.75"/><ellipse cx="389.7" cy="114.4" rx="0.59" ry="0.44" fill="#15202b" opacity="0.95"/><ellipse cx="384.4" cy="117.0" rx="0.84" ry="0.62" fill="#15202b" opacity="0.60"/><ellipse cx="367.7" cy="107.5" rx="0.70" ry="0.52" fill="#15202b" opacity="0.73"/><ellipse cx="383.3" cy="120.3" rx="0.56" ry="0.42" fill="#15202b" opacity="0.62"/><ellipse cx="391.6" cy="104.8" rx="0.33" ry="0.24" fill="#15202b" opacity="0.68"/><ellipse cx="391.0" cy="120.7" rx="0.62" ry="0.46" fill="#15202b" opacity="0.73"/><ellipse cx="343.6" cy="120.3" rx="0.65" ry="0.48" fill="#15202b" opacity="0.57"/><ellipse cx="355.0" cy="106.6" rx="0.54" ry="0.40" fill="#15202b" opacity="0.63"/><ellipse cx="383.1" cy="121.2" rx="0.50" ry="0.37" fill="#15202b" opacity="0.65"/><ellipse cx="369.7" cy="125.5" rx="0.66" ry="0.49" fill="#15202b" opacity="0.85"/><ellipse cx="369.3" cy="110.8" rx="0.63" ry="0.46" fill="#15202b" opacity="0.61"/><ellipse cx="346.4" cy="112.5" rx="0.39" ry="0.29" fill="#15202b" opacity="0.72"/><ellipse cx="352.2" cy="108.4" rx="0.45" ry="0.34" fill="#15202b" opacity="0.92"/><ellipse cx="353.6" cy="113.4" rx="0.79" ry="0.59" fill="#15202b" opacity="0.66"/><ellipse cx="383.7" cy="123.8" rx="0.52" ry="0.38" fill="#15202b" opacity="0.92"/><ellipse cx="379.3" cy="119.2" rx="0.47" ry="0.35" fill="#15202b" opacity="0.95"/><ellipse cx="349.3" cy="105.5" rx="0.38" ry="0.28" fill="#15202b" opacity="0.85"/><ellipse cx="381.0" cy="114.4" rx="0.61" ry="0.45" fill="#15202b" opacity="0.86"/><ellipse cx="359.2" cy="115.2" rx="0.37" ry="0.28" fill="#15202b" opacity="0.58"/><ellipse cx="375.4" cy="121.9" rx="0.72" ry="0.53" fill="#15202b" opacity="0.80"/><ellipse cx="364.4" cy="109.1" rx="0.56" ry="0.41" fill="#15202b" opacity="0.85"/><ellipse cx="362.9" cy="104.1" rx="0.60" ry="0.44" fill="#15202b" opacity="0.90"/><ellipse cx="358.4" cy="111.4" rx="0.78" ry="0.57" fill="#15202b" opacity="0.77"/><ellipse cx="408.5" cy="117.6" rx="0.68" ry="0.50" fill="#15202b" opacity="0.81"/><ellipse cx="394.0" cy="126.6" rx="0.63" ry="0.46" fill="#15202b" opacity="0.79"/><ellipse cx="389.8" cy="120.2" rx="0.57" ry="0.42" fill="#15202b" opacity="0.79"/><ellipse cx="409.8" cy="127.9" rx="0.49" ry="0.36" fill="#15202b" opacity="0.59"/><ellipse cx="404.6" cy="106.1" rx="0.57" ry="0.42" fill="#15202b" opacity="0.94"/><ellipse cx="404.1" cy="123.0" rx="0.82" ry="0.61" fill="#15202b" opacity="0.91"/><ellipse cx="382.2" cy="122.1" rx="0.48" ry="0.36" fill="#15202b" opacity="0.69"/><ellipse cx="413.6" cy="113.6" rx="0.47" ry="0.35" fill="#15202b" opacity="0.83"/><ellipse cx="366.5" cy="116.4" rx="0.75" ry="0.55" fill="#15202b" opacity="0.59"/><ellipse cx="412.7" cy="125.7" rx="0.59" ry="0.44" fill="#15202b" opacity="0.91"/><ellipse cx="393.2" cy="101.2" rx="0.42" ry="0.31" fill="#15202b" opacity="0.74"/><ellipse cx="379.6" cy="124.4" rx="0.86" ry="0.64" fill="#15202b" opacity="0.70"/><ellipse cx="388.7" cy="111.8" rx="0.49" ry="0.36" fill="#15202b" opacity="0.58"/><ellipse cx="391.1" cy="107.3" rx="0.51" ry="0.38" fill="#15202b" opacity="0.90"/><ellipse cx="369.5" cy="120.6" rx="0.57" ry="0.42" fill="#15202b" opacity="0.75"/><ellipse cx="415.9" cy="101.9" rx="0.65" ry="0.48" fill="#15202b" opacity="0.68"/><ellipse cx="368.0" cy="123.8" rx="0.35" ry="0.26" fill="#15202b" opacity="0.76"/><ellipse cx="405.1" cy="106.3" rx="0.73" ry="0.54" fill="#15202b" opacity="0.84"/><ellipse cx="419.0" cy="100.6" rx="0.39" ry="0.29" fill="#15202b" opacity="0.74"/><ellipse cx="360.0" cy="127.5" rx="0.66" ry="0.49" fill="#15202b" opacity="0.88"/><ellipse cx="392.7" cy="123.5" rx="0.57" ry="0.42" fill="#15202b" opacity="0.58"/><ellipse cx="423.0" cy="127.5" rx="0.48" ry="0.36" fill="#15202b" opacity="0.95"/><ellipse cx="356.7" cy="115.9" rx="0.75" ry="0.55" fill="#15202b" opacity="0.79"/><ellipse cx="369.0" cy="110.2" rx="0.83" ry="0.62" fill="#15202b" opacity="0.86"/><ellipse cx="377.1" cy="116.8" rx="0.81" ry="0.60" fill="#15202b" opacity="0.59"/><ellipse cx="399.1" cy="110.3" rx="0.74" ry="0.55" fill="#15202b" opacity="0.58"/><ellipse cx="379.5" cy="112.9" rx="0.84" ry="0.62" fill="#15202b" opacity="0.57"/><ellipse cx="380.9" cy="110.5" rx="0.70" ry="0.52" fill="#15202b" opacity="0.56"/><ellipse cx="410.5" cy="108.9" rx="0.60" ry="0.44" fill="#15202b" opacity="0.78"/><ellipse cx="397.5" cy="125.1" rx="0.45" ry="0.33" fill="#15202b" opacity="0.58"/><ellipse cx="410.1" cy="125.0" rx="0.42" ry="0.31" fill="#15202b" opacity="0.64"/><ellipse cx="383.0" cy="110.7" rx="0.74" ry="0.55" fill="#15202b" opacity="0.87"/><ellipse cx="421.6" cy="121.8" rx="0.56" ry="0.41" fill="#15202b" opacity="0.85"/><ellipse cx="414.1" cy="126.2" rx="0.76" ry="0.56" fill="#15202b" opacity="0.80"/><ellipse cx="383.1" cy="121.1" rx="0.34" ry="0.25" fill="#15202b" opacity="0.56"/><ellipse cx="373.8" cy="103.5" rx="0.51" ry="0.38" fill="#15202b" opacity="0.93"/><ellipse cx="365.9" cy="102.7" rx="0.59" ry="0.44" fill="#15202b" opacity="0.71"/><ellipse cx="380.6" cy="127.3" rx="0.47" ry="0.35" fill="#15202b" opacity="0.65"/><ellipse cx="364.8" cy="106.7" rx="0.36" ry="0.27" fill="#15202b" opacity="0.75"/><ellipse cx="414.8" cy="126.5" rx="0.53" ry="0.39" fill="#15202b" opacity="0.69"/><ellipse cx="348.7" cy="126.9" rx="0.65" ry="0.48" fill="#15202b" opacity="0.69"/><ellipse cx="376.6" cy="128.2" rx="0.59" ry="0.43" fill="#15202b" opacity="0.91"/><ellipse cx="383.3" cy="101.5" rx="0.53" ry="0.39" fill="#15202b" opacity="0.81"/><ellipse cx="379.5" cy="107.5" rx="0.52" ry="0.39" fill="#15202b" opacity="0.87"/><ellipse cx="417.8" cy="117.8" rx="0.64" ry="0.47" fill="#15202b" opacity="0.90"/><ellipse cx="373.2" cy="106.9" rx="0.57" ry="0.42" fill="#15202b" opacity="0.84"/><ellipse cx="401.1" cy="123.5" rx="0.81" ry="0.60" fill="#15202b" opacity="0.83"/><ellipse cx="397.9" cy="111.5" rx="0.81" ry="0.60" fill="#15202b" opacity="0.72"/><ellipse cx="418.0" cy="108.3" rx="0.45" ry="0.33" fill="#15202b" opacity="0.57"/><ellipse cx="375.9" cy="101.3" rx="0.72" ry="0.53" fill="#15202b" opacity="0.67"/><ellipse cx="403.7" cy="115.6" rx="0.68" ry="0.50" fill="#15202b" opacity="0.82"/><ellipse cx="402.0" cy="113.5" rx="0.80" ry="0.59" fill="#15202b" opacity="0.59"/><ellipse cx="380.9" cy="120.9" rx="0.37" ry="0.27" fill="#15202b" opacity="0.84"/><ellipse cx="366.6" cy="119.3" rx="0.76" ry="0.56" fill="#15202b" opacity="0.82"/><ellipse cx="343.9" cy="103.3" rx="0.50" ry="0.37" fill="#15202b" opacity="0.83"/><ellipse cx="385.7" cy="109.8" rx="0.68" ry="0.50" fill="#15202b" opacity="0.85"/><ellipse cx="389.1" cy="122.1" rx="0.47" ry="0.35" fill="#15202b" opacity="0.82"/><ellipse cx="350.5" cy="114.9" rx="0.39" ry="0.29" fill="#15202b" opacity="0.89"/><ellipse cx="366.8" cy="114.8" rx="0.44" ry="0.33" fill="#15202b" opacity="0.74"/><ellipse cx="345.8" cy="100.1" rx="0.81" ry="0.60" fill="#15202b" opacity="0.74"/><ellipse cx="406.5" cy="121.8" rx="0.82" ry="0.61" fill="#15202b" opacity="0.74"/><ellipse cx="350.5" cy="127.4" rx="0.66" ry="0.49" fill="#15202b" opacity="0.74"/><ellipse cx="354.3" cy="110.6" rx="0.82" ry="0.61" fill="#15202b" opacity="0.86"/><ellipse cx="419.8" cy="101.6" rx="0.75" ry="0.56" fill="#15202b" opacity="0.65"/><ellipse cx="343.2" cy="127.3" rx="0.66" ry="0.49" fill="#15202b" opacity="0.88"/><ellipse cx="352.4" cy="105.2" rx="0.47" ry="0.34" fill="#15202b" opacity="0.88"/><ellipse cx="344.4" cy="124.1" rx="0.80" ry="0.59" fill="#15202b" opacity="0.63"/><ellipse cx="388.1" cy="127.3" rx="0.84" ry="0.62" fill="#15202b" opacity="0.81"/><ellipse cx="363.7" cy="114.5" rx="0.81" ry="0.60" fill="#15202b" opacity="0.87"/><ellipse cx="415.9" cy="101.1" rx="0.51" ry="0.38" fill="#15202b" opacity="0.64"/><ellipse cx="402.1" cy="122.8" rx="0.59" ry="0.44" fill="#15202b" opacity="0.55"/><ellipse cx="363.5" cy="109.8" rx="0.67" ry="0.50" fill="#15202b" opacity="0.70"/><ellipse cx="359.1" cy="110.5" rx="0.77" ry="0.57" fill="#15202b" opacity="0.78"/><ellipse cx="365.1" cy="125.7" rx="0.38" ry="0.28" fill="#15202b" opacity="0.72"/><ellipse cx="414.0" cy="123.0" rx="0.51" ry="0.38" fill="#15202b" opacity="0.76"/><ellipse cx="375.4" cy="110.6" rx="0.36" ry="0.27" fill="#15202b" opacity="0.56"/><ellipse cx="375.1" cy="110.8" rx="0.77" ry="0.57" fill="#15202b" opacity="0.57"/><ellipse cx="368.6" cy="113.3" rx="0.63" ry="0.47" fill="#15202b" opacity="0.56"/><ellipse cx="389.1" cy="108.5" rx="0.37" ry="0.27" fill="#15202b" opacity="0.71"/><ellipse cx="387.9" cy="101.9" rx="0.57" ry="0.42" fill="#15202b" opacity="0.73"/><ellipse cx="346.9" cy="105.5" rx="0.67" ry="0.50" fill="#15202b" opacity="0.70"/><ellipse cx="419.6" cy="104.0" rx="0.45" ry="0.33" fill="#15202b" opacity="0.94"/><ellipse cx="351.7" cy="104.7" rx="0.78" ry="0.58" fill="#15202b" opacity="0.86"/><ellipse cx="360.3" cy="114.4" rx="0.83" ry="0.61" fill="#15202b" opacity="0.73"/><ellipse cx="417.4" cy="109.1" rx="0.60" ry="0.44" fill="#15202b" opacity="0.81"/><ellipse cx="350.4" cy="117.3" rx="0.51" ry="0.38" fill="#15202b" opacity="0.78"/><ellipse cx="378.1" cy="105.2" rx="0.56" ry="0.41" fill="#15202b" opacity="0.59"/><ellipse cx="409.4" cy="105.8" rx="0.72" ry="0.53" fill="#15202b" opacity="0.93"/><ellipse cx="358.7" cy="119.5" rx="0.81" ry="0.60" fill="#15202b" opacity="0.82"/><ellipse cx="401.0" cy="111.7" rx="0.37" ry="0.27" fill="#15202b" opacity="0.57"/><ellipse cx="367.8" cy="125.0" rx="0.82" ry="0.60" fill="#15202b" opacity="0.81"/><ellipse cx="400.7" cy="117.7" rx="0.51" ry="0.37" fill="#15202b" opacity="0.68"/><ellipse cx="344.8" cy="127.6" rx="0.69" ry="0.51" fill="#15202b" opacity="0.79"/><ellipse cx="396.1" cy="112.9" rx="0.61" ry="0.45" fill="#15202b" opacity="0.88"/><ellipse cx="408.6" cy="124.8" rx="0.54" ry="0.40" fill="#15202b" opacity="0.55"/><ellipse cx="374.6" cy="110.1" rx="0.72" ry="0.53" fill="#15202b" opacity="0.74"/><ellipse cx="393.3" cy="127.4" rx="0.42" ry="0.31" fill="#15202b" opacity="0.63"/><ellipse cx="385.8" cy="100.1" rx="0.37" ry="0.28" fill="#15202b" opacity="0.76"/><ellipse cx="355.6" cy="102.3" rx="0.46" ry="0.34" fill="#15202b" opacity="0.82"/><ellipse cx="415.5" cy="103.6" rx="0.83" ry="0.61" fill="#15202b" opacity="0.74"/><ellipse cx="359.4" cy="116.2" rx="0.58" ry="0.43" fill="#15202b" opacity="0.91"/><ellipse cx="389.6" cy="127.3" rx="0.58" ry="0.43" fill="#15202b" opacity="0.85"/><ellipse cx="346.3" cy="127.8" rx="0.50" ry="0.37" fill="#15202b" opacity="0.57"/><ellipse cx="394.7" cy="105.6" rx="0.56" ry="0.42" fill="#15202b" opacity="0.81"/><ellipse cx="408.6" cy="122.8" rx="0.39" ry="0.29" fill="#15202b" opacity="0.93"/><ellipse cx="416.5" cy="124.1" rx="0.60" ry="0.45" fill="#15202b" opacity="0.83"/><ellipse cx="395.3" cy="108.9" rx="0.36" ry="0.27" fill="#15202b" opacity="0.57"/><ellipse cx="373.3" cy="106.9" rx="0.41" ry="0.30" fill="#15202b" opacity="0.77"/><ellipse cx="382.7" cy="110.3" rx="0.85" ry="0.63" fill="#15202b" opacity="0.89"/><ellipse cx="400.9" cy="110.6" rx="0.47" ry="0.35" fill="#15202b" opacity="0.66"/><ellipse cx="383.7" cy="123.9" rx="0.68" ry="0.50" fill="#15202b" opacity="0.78"/><ellipse cx="357.6" cy="117.8" rx="0.62" ry="0.46" fill="#15202b" opacity="0.95"/><ellipse cx="420.1" cy="115.8" rx="0.65" ry="0.48" fill="#15202b" opacity="0.85"/><ellipse cx="361.4" cy="122.7" rx="0.86" ry="0.63" fill="#15202b" opacity="0.73"/><ellipse cx="387.8" cy="104.8" rx="0.55" ry="0.41" fill="#15202b" opacity="0.93"/><ellipse cx="375.1" cy="123.1" rx="0.84" ry="0.62" fill="#15202b" opacity="0.65"/><ellipse cx="367.3" cy="117.2" rx="0.77" ry="0.57" fill="#15202b" opacity="0.76"/><ellipse cx="410.6" cy="117.1" rx="0.77" ry="0.57" fill="#15202b" opacity="0.81"/><ellipse cx="400.8" cy="109.7" rx="0.78" ry="0.58" fill="#15202b" opacity="0.59"/><ellipse cx="360.2" cy="108.9" rx="0.78" ry="0.58" fill="#15202b" opacity="0.86"/><ellipse cx="399.5" cy="114.3" rx="0.78" ry="0.58" fill="#15202b" opacity="0.69"/><ellipse cx="397.4" cy="118.0" rx="0.81" ry="0.60" fill="#15202b" opacity="0.71"/><ellipse cx="393.1" cy="122.1" rx="0.48" ry="0.36" fill="#15202b" opacity="0.87"/><ellipse cx="402.4" cy="121.6" rx="0.39" ry="0.29" fill="#15202b" opacity="0.80"/><ellipse cx="373.1" cy="127.3" rx="0.48" ry="0.35" fill="#15202b" opacity="0.87"/><ellipse cx="393.8" cy="124.5" rx="0.35" ry="0.26" fill="#15202b" opacity="0.87"/><ellipse cx="414.9" cy="115.4" rx="0.68" ry="0.50" fill="#15202b" opacity="0.63"/><ellipse cx="375.1" cy="122.8" rx="0.75" ry="0.55" fill="#15202b" opacity="0.74"/><ellipse cx="389.2" cy="103.5" rx="0.64" ry="0.47" fill="#15202b" opacity="0.58"/><ellipse cx="347.4" cy="120.2" rx="0.68" ry="0.50" fill="#15202b" opacity="0.67"/><ellipse cx="355.2" cy="128.0" rx="0.33" ry="0.24" fill="#15202b" opacity="0.59"/><ellipse cx="363.6" cy="113.4" rx="0.47" ry="0.35" fill="#15202b" opacity="0.70"/><ellipse cx="419.0" cy="123.3" rx="0.43" ry="0.32" fill="#15202b" opacity="0.85"/><ellipse cx="343.1" cy="126.3" rx="0.64" ry="0.47" fill="#15202b" opacity="0.81"/><ellipse cx="373.8" cy="117.1" rx="0.85" ry="0.63" fill="#15202b" opacity="0.71"/><ellipse cx="343.1" cy="108.8" rx="0.46" ry="0.34" fill="#15202b" opacity="0.72"/><ellipse cx="347.7" cy="121.6" rx="0.69" ry="0.51" fill="#15202b" opacity="0.57"/><ellipse cx="369.1" cy="118.0" rx="0.70" ry="0.52" fill="#15202b" opacity="0.83"/><ellipse cx="397.1" cy="114.3" rx="0.74" ry="0.55" fill="#15202b" opacity="0.67"/><ellipse cx="369.4" cy="121.4" rx="0.78" ry="0.58" fill="#15202b" opacity="0.72"/><ellipse cx="362.9" cy="110.9" rx="0.74" ry="0.55" fill="#15202b" opacity="0.64"/><ellipse cx="406.4" cy="124.8" rx="0.86" ry="0.63" fill="#15202b" opacity="0.70"/><ellipse cx="402.1" cy="121.0" rx="0.73" ry="0.54" fill="#15202b" opacity="0.76"/><ellipse cx="414.0" cy="120.9" rx="0.80" ry="0.59" fill="#15202b" opacity="0.65"/><ellipse cx="399.2" cy="127.0" rx="0.70" ry="0.52" fill="#15202b" opacity="0.81"/><ellipse cx="414.0" cy="116.9" rx="0.58" ry="0.43" fill="#15202b" opacity="0.78"/><ellipse cx="409.3" cy="104.5" rx="0.44" ry="0.32" fill="#15202b" opacity="0.64"/><ellipse cx="398.1" cy="100.1" rx="0.75" ry="0.55" fill="#15202b" opacity="0.65"/><ellipse cx="419.3" cy="104.8" rx="0.74" ry="0.54" fill="#15202b" opacity="0.87"/><ellipse cx="376.8" cy="121.4" rx="0.53" ry="0.39" fill="#15202b" opacity="0.65"/><ellipse cx="401.8" cy="104.6" rx="0.68" ry="0.50" fill="#15202b" opacity="0.86"/><ellipse cx="360.5" cy="124.0" rx="0.46" ry="0.34" fill="#15202b" opacity="0.87"/><ellipse cx="388.8" cy="106.1" rx="0.62" ry="0.46" fill="#15202b" opacity="0.83"/><ellipse cx="375.9" cy="116.8" rx="0.67" ry="0.50" fill="#15202b" opacity="0.74"/><ellipse cx="369.6" cy="112.5" rx="0.52" ry="0.39" fill="#15202b" opacity="0.93"/><ellipse cx="346.5" cy="114.8" rx="0.55" ry="0.40" fill="#15202b" opacity="0.76"/><ellipse cx="351.2" cy="124.8" rx="0.50" ry="0.37" fill="#15202b" opacity="0.63"/><ellipse cx="418.8" cy="111.5" rx="0.42" ry="0.31" fill="#15202b" opacity="0.65"/><ellipse cx="403.5" cy="114.3" rx="0.84" ry="0.62" fill="#15202b" opacity="0.80"/><ellipse cx="362.0" cy="117.6" rx="0.33" ry="0.24" fill="#15202b" opacity="0.78"/><ellipse cx="410.4" cy="102.4" rx="0.68" ry="0.50" fill="#15202b" opacity="0.77"/><ellipse cx="374.8" cy="101.0" rx="0.53" ry="0.39" fill="#15202b" opacity="0.75"/><ellipse cx="352.6" cy="126.4" rx="0.68" ry="0.50" fill="#15202b" opacity="0.70"/><ellipse cx="380.1" cy="107.2" rx="0.63" ry="0.47" fill="#15202b" opacity="0.87"/><ellipse cx="401.1" cy="100.3" rx="0.72" ry="0.54" fill="#15202b" opacity="0.79"/><ellipse cx="367.7" cy="102.6" rx="0.54" ry="0.40" fill="#15202b" opacity="0.57"/><ellipse cx="394.3" cy="101.8" rx="0.47" ry="0.35" fill="#15202b" opacity="0.66"/><ellipse cx="363.7" cy="115.7" rx="0.37" ry="0.27" fill="#15202b" opacity="0.58"/><ellipse cx="347.5" cy="122.3" rx="0.63" ry="0.46" fill="#15202b" opacity="0.79"/><ellipse cx="421.5" cy="106.5" rx="0.35" ry="0.26" fill="#15202b" opacity="0.81"/><ellipse cx="371.4" cy="127.6" rx="0.65" ry="0.48" fill="#15202b" opacity="0.74"/><ellipse cx="355.0" cy="112.0" rx="0.56" ry="0.41" fill="#15202b" opacity="0.91"/><ellipse cx="347.7" cy="116.9" rx="0.50" ry="0.37" fill="#15202b" opacity="0.76"/><ellipse cx="395.0" cy="121.8" rx="0.47" ry="0.35" fill="#15202b" opacity="0.77"/><ellipse cx="382.6" cy="124.2" rx="0.34" ry="0.25" fill="#15202b" opacity="0.62"/><ellipse cx="348.2" cy="109.8" rx="0.75" ry="0.55" fill="#15202b" opacity="0.56"/><ellipse cx="400.2" cy="118.8" rx="0.77" ry="0.57" fill="#15202b" opacity="0.71"/><ellipse cx="418.2" cy="121.0" rx="0.37" ry="0.27" fill="#15202b" opacity="0.80"/><ellipse cx="370.5" cy="114.9" rx="0.56" ry="0.41" fill="#15202b" opacity="0.88"/><ellipse cx="405.2" cy="119.1" rx="0.47" ry="0.34" fill="#15202b" opacity="0.69"/><ellipse cx="398.5" cy="113.6" rx="0.77" ry="0.57" fill="#15202b" opacity="0.66"/><ellipse cx="382.2" cy="109.3" rx="0.57" ry="0.42" fill="#15202b" opacity="0.93"/><ellipse cx="420.0" cy="118.3" rx="0.32" ry="0.24" fill="#15202b" opacity="0.85"/><ellipse cx="402.6" cy="110.5" rx="0.71" ry="0.52" fill="#15202b" opacity="0.73"/><ellipse cx="360.2" cy="108.5" rx="0.72" ry="0.53" fill="#15202b" opacity="0.78"/><ellipse cx="355.8" cy="125.6" rx="0.47" ry="0.35" fill="#15202b" opacity="0.58"/><ellipse cx="378.5" cy="102.4" rx="0.41" ry="0.30" fill="#15202b" opacity="0.59"/><ellipse cx="411.4" cy="118.9" rx="0.71" ry="0.53" fill="#15202b" opacity="0.66"/><ellipse cx="382.3" cy="115.9" rx="0.57" ry="0.42" fill="#15202b" opacity="0.94"/><ellipse cx="378.5" cy="122.6" rx="0.37" ry="0.27" fill="#15202b" opacity="0.83"/><ellipse cx="395.0" cy="110.7" rx="0.40" ry="0.30" fill="#15202b" opacity="0.85"/><ellipse cx="386.7" cy="118.0" rx="0.39" ry="0.29" fill="#15202b" opacity="0.55"/><ellipse cx="347.3" cy="103.1" rx="0.59" ry="0.44" fill="#15202b" opacity="0.93"/><ellipse cx="377.6" cy="107.5" rx="0.85" ry="0.63" fill="#15202b" opacity="0.72"/><ellipse cx="365.6" cy="102.1" rx="0.57" ry="0.42" fill="#15202b" opacity="0.73"/><ellipse cx="372.0" cy="119.6" rx="0.64" ry="0.47" fill="#15202b" opacity="0.61"/><ellipse cx="394.0" cy="108.5" rx="0.85" ry="0.63" fill="#15202b" opacity="0.85"/><ellipse cx="351.5" cy="103.3" rx="0.46" ry="0.34" fill="#15202b" opacity="0.62"/><ellipse cx="378.0" cy="126.9" rx="0.78" ry="0.58" fill="#15202b" opacity="0.83"/><ellipse cx="415.4" cy="107.0" rx="0.58" ry="0.43" fill="#15202b" opacity="0.82"/><ellipse cx="368.0" cy="128.0" rx="0.56" ry="0.41" fill="#15202b" opacity="0.80"/><ellipse cx="355.6" cy="115.0" rx="0.58" ry="0.43" fill="#15202b" opacity="0.70"/><ellipse cx="376.0" cy="121.2" rx="0.81" ry="0.60" fill="#15202b" opacity="0.81"/><ellipse cx="403.0" cy="120.8" rx="0.72" ry="0.53" fill="#15202b" opacity="0.85"/><ellipse cx="401.3" cy="123.4" rx="0.72" ry="0.53" fill="#15202b" opacity="0.64"/><ellipse cx="418.3" cy="121.7" rx="0.80" ry="0.59" fill="#15202b" opacity="0.57"/><ellipse cx="416.6" cy="125.1" rx="0.83" ry="0.62" fill="#15202b" opacity="0.80"/><ellipse cx="411.5" cy="113.9" rx="0.49" ry="0.36" fill="#15202b" opacity="0.73"/><ellipse cx="369.0" cy="118.5" rx="0.69" ry="0.51" fill="#15202b" opacity="0.72"/><ellipse cx="397.2" cy="118.5" rx="0.72" ry="0.53" fill="#15202b" opacity="0.55"/><ellipse cx="415.8" cy="121.6" rx="0.51" ry="0.37" fill="#15202b" opacity="0.88"/><ellipse cx="395.7" cy="113.0" rx="0.58" ry="0.43" fill="#15202b" opacity="0.76"/><ellipse cx="389.5" cy="119.9" rx="0.76" ry="0.56" fill="#15202b" opacity="0.68"/><ellipse cx="401.0" cy="101.4" rx="0.69" ry="0.51" fill="#15202b" opacity="0.62"/><ellipse cx="382.9" cy="100.4" rx="0.72" ry="0.53" fill="#15202b" opacity="0.73"/><ellipse cx="402.9" cy="126.5" rx="0.80" ry="0.59" fill="#15202b" opacity="0.83"/><ellipse cx="369.6" cy="108.5" rx="0.35" ry="0.26" fill="#15202b" opacity="0.88"/><ellipse cx="386.2" cy="117.6" rx="0.36" ry="0.27" fill="#15202b" opacity="0.69"/><ellipse cx="399.1" cy="117.8" rx="0.71" ry="0.52" fill="#15202b" opacity="0.77"/><ellipse cx="361.2" cy="112.3" rx="0.48" ry="0.35" fill="#15202b" opacity="0.89"/><ellipse cx="346.7" cy="120.7" rx="0.45" ry="0.33" fill="#15202b" opacity="0.89"/><ellipse cx="363.4" cy="115.9" rx="0.85" ry="0.63" fill="#15202b" opacity="0.81"/><ellipse cx="349.2" cy="125.6" rx="0.77" ry="0.57" fill="#15202b" opacity="0.68"/><ellipse cx="419.3" cy="124.5" rx="0.60" ry="0.45" fill="#15202b" opacity="0.66"/><ellipse cx="375.2" cy="127.4" rx="0.86" ry="0.64" fill="#15202b" opacity="0.63"/><ellipse cx="383.3" cy="110.3" rx="0.71" ry="0.52" fill="#15202b" opacity="0.95"/><ellipse cx="377.8" cy="125.7" rx="0.51" ry="0.38" fill="#15202b" opacity="0.91"/><ellipse cx="408.6" cy="110.3" rx="0.84" ry="0.62" fill="#15202b" opacity="0.63"/><ellipse cx="359.8" cy="122.6" rx="0.43" ry="0.32" fill="#15202b" opacity="0.65"/><ellipse cx="418.1" cy="122.5" rx="0.64" ry="0.47" fill="#15202b" opacity="0.90"/><ellipse cx="361.2" cy="121.3" rx="0.41" ry="0.30" fill="#15202b" opacity="0.60"/><ellipse cx="380.7" cy="100.3" rx="0.50" ry="0.37" fill="#15202b" opacity="0.89"/><ellipse cx="411.4" cy="124.1" rx="0.42" ry="0.31" fill="#15202b" opacity="0.69"/><ellipse cx="348.4" cy="101.3" rx="0.48" ry="0.36" fill="#15202b" opacity="0.83"/><ellipse cx="419.6" cy="119.7" rx="0.43" ry="0.32" fill="#15202b" opacity="0.86"/><ellipse cx="366.4" cy="113.6" rx="0.65" ry="0.48" fill="#15202b" opacity="0.92"/><ellipse cx="354.3" cy="128.1" rx="0.53" ry="0.40" fill="#15202b" opacity="0.58"/><ellipse cx="355.5" cy="123.9" rx="0.37" ry="0.27" fill="#15202b" opacity="0.60"/><ellipse cx="409.3" cy="124.0" rx="0.85" ry="0.63" fill="#15202b" opacity="0.60"/><ellipse cx="392.9" cy="103.2" rx="0.73" ry="0.54" fill="#15202b" opacity="0.82"/><ellipse cx="361.1" cy="125.2" rx="0.60" ry="0.45" fill="#15202b" opacity="0.88"/><ellipse cx="397.4" cy="111.2" rx="0.62" ry="0.46" fill="#15202b" opacity="0.59"/><ellipse cx="382.5" cy="122.1" rx="0.75" ry="0.56" fill="#15202b" opacity="0.68"/><ellipse cx="349.9" cy="112.2" rx="0.79" ry="0.58" fill="#15202b" opacity="0.68"/></g>
<path d="M380.4 131.8 Q381.5 142.5 390.5 148.6" fill="none" stroke="#000" stroke-width="1.1"/>
<path d="M394.2 151.2 L386.2 148.6 L390.4 144.8 Z" fill="#000"/>
<text x="394" y="154.8" font-size="12.5" font-style="italic" font-family='"Liberation Serif", serif' fill="#111">A</text>
<line x1="403.8" y1="151.6" x2="428" y2="151.6" stroke="#000" stroke-width="1.1" />
<path d="M435.4 151.6 L425.6 148.8 L425.6 154.4 Z" fill="#000"/>
<text x="436.2" y="154.8" font-size="12.5" font-style="italic" font-family='"Liberation Serif", serif' fill="#111">A</text>
<line x1="439.9" y1="146.2" x2="444.4" y2="146.2" stroke="#111" stroke-width="0.9" />
<line x1="299.7" y1="44.5" x2="299.7" y2="79" stroke="#000" stroke-width="1.3" />
<path d="M299.7 86.8 L297.1 76.8 L302.3 76.8 Z" fill="#000"/>
<text x="284.4" y="56.9" font-size="15.5" font-style="italic" font-family='"Liberation Serif", serif' fill="#111">v<tspan font-size="10.5" dy="2.6">i</tspan></text>
<text x="290.4" y="125.7" font-size="17" font-style="italic" font-family='"Liberation Serif", serif' fill="#111" stroke="#111" stroke-width="0.25">m</text>
<ellipse cx="380.6" cy="63.4" rx="18.0" ry="12.7" fill="#fff0c8" stroke="#000" stroke-width="1.7"/>
<g transform="translate(368.8 66.8)" fill="#111"><text font-family='"Liberation Serif", serif'><tspan x="0" y="0" font-size="13" font-style="italic">h</tspan><tspan x="7.1" y="2.6" font-size="11.2" font-style="italic">min</tspan></text></g>
<line x1="410" y1="63.7" x2="428" y2="63.7" stroke="#000" stroke-width="1.1" />
<path d="M400.6 63.7 L411 60.9 L411 66.5 Z" fill="#000"/>
<g transform="translate(431.4 66.8)" fill="#111"><text font-family='"Liberation Serif", serif'><tspan x="0" y="0" font-size="13" font-style="italic">h</tspan><tspan x="7.1" y="2.6" font-size="11.2" font-style="italic">min</tspan></text><line x1="0.86" y1="-10.66" x2="6.16" y2="-10.66" stroke="#111" stroke-width="0.84"/></g>
<line x1="638.92" y1="19.2" x2="638.92" y2="162.6" stroke="#555" stroke-width="1" stroke-dasharray="1 1"/>
<path d="M492 19.4 L493.64 20.23 L495.85 21.35 L498.49 22.68 L501.4 24.16 L504.45 25.69 L507.5 27.21 L510.39 28.64 L513 29.9 L515.36 31.02 L517.64 32.08 L519.86 33.09 L522.03 34.07 L524.16 35.02 L526.29 35.95 L528.43 36.87 L530.6 37.8 L532.78 38.73 L534.96 39.66 L537.13 40.57 L539.3 41.47 L541.47 42.35 L543.64 43.2 L545.82 44.02 L548 44.8 L550.19 45.54 L552.39 46.23 L554.59 46.89 L556.79 47.52 L559 48.14 L561.2 48.76 L563.4 49.37 L565.6 50 L567.81 50.65 L570.04 51.31 L572.28 51.97 L574.52 52.62 L576.73 53.27 L578.91 53.88 L581.04 54.46 L583.1 55 L585.09 55.48 L587.03 55.92 L588.92 56.32 L590.77 56.7 L592.59 57.06 L594.4 57.43 L596.2 57.8 L598 58.2 L599.82 58.62 L601.65 59.06 L603.47 59.51 L605.27 59.96 L607.05 60.4 L608.77 60.82 L610.42 61.23 L612 61.6 L613.55 61.96 L615.12 62.31 L616.66 62.64 L618.12 62.96 L619.49 63.25 L620.7 63.51 L621.71 63.73 L622.5 63.9" fill="none" stroke="#f014aa" stroke-width="1.9" stroke-dasharray="7.6 1.9 1.5 1.9" stroke-linejoin="round" />
<path d="M480.6 53.5 L483.08 54.35 L486.36 55.47 L490.26 56.82 L494.61 58.31 L499.24 59.88 L503.96 61.47 L508.6 63 L513 64.4 L517.37 65.75 L521.97 67.14 L526.68 68.54 L531.4 69.92 L536.01 71.25 L540.38 72.49 L544.42 73.62 L548 74.6 L551.07 75.41 L553.72 76.08 L556.03 76.63 L558.12 77.1 L560.06 77.52 L561.96 77.92 L563.91 78.34 L566 78.8 L568.23 79.31 L570.52 79.82 L572.81 80.33 L575.08 80.83 L577.28 81.32 L579.38 81.78 L581.33 82.21 L583.1 82.6 L584.72 82.96 L586.23 83.29 L587.64 83.6 L588.92 83.89 L590.07 84.14 L591.07 84.36 L591.92 84.55 L592.6 84.7" fill="none" stroke="#ff6428" stroke-width="1.9" stroke-dasharray="7.6 1.9 1.5 1.9" stroke-linejoin="round" />
<path d="M480.6 76.3 L483.08 76.95 L486.36 77.8 L490.26 78.82 L494.61 79.95 L499.24 81.15 L503.96 82.37 L508.6 83.57 L513 84.7 L517.37 85.82 L521.97 87 L526.68 88.2 L531.4 89.41 L536.01 90.57 L540.38 91.66 L544.42 92.65 L548 93.5 L551.08 94.2 L553.76 94.77 L556.11 95.25 L558.23 95.65 L560.19 96 L562.08 96.33 L563.99 96.65 L566 97 L568.1 97.36 L570.22 97.71 L572.31 98.04 L574.36 98.36 L576.32 98.65 L578.17 98.92 L579.87 99.17 L581.4 99.4 L582.77 99.6 L584.01 99.77 L585.12 99.92 L586.11 100.05 L586.98 100.16 L587.74 100.25 L588.38 100.33 L588.9 100.4" fill="none" stroke="#1e9bff" stroke-width="1.9" stroke-dasharray="7.6 1.9 1.5 1.9" stroke-linejoin="round" />
<path d="M588.9 100.4 L590.2 99.15 L591.94 97.49 L594 95.51 L596.29 93.31 L598.71 90.99 L601.16 88.63 L603.52 86.34 L605.7 84.2 L607.73 82.21 L609.73 80.27 L611.7 78.36 L613.66 76.43 L615.64 74.46 L617.64 72.42 L619.69 70.28 L621.8 68 L623.97 65.61 L626.2 63.13 L628.46 60.58 L630.75 57.94 L633.06 55.22 L635.38 52.41 L637.7 49.5 L640 46.5 L642.42 43.18 L645.04 39.44 L647.73 35.49 L650.39 31.51 L652.9 27.69 L655.17 24.24 L657.07 21.35 L658.5 19.2" fill="none" stroke="#1e9bff" stroke-width="1.9" stroke-linejoin="round" />
<path d="M592.6 84.7 L678.5 46.9" fill="none" stroke="#ff6428" stroke-width="1.9" stroke-linejoin="round" />
<path d="M622.5 63.9 L678.5 49.8" fill="none" stroke="#f014aa" stroke-width="1.9" stroke-linejoin="round" />
<circle cx="588.9" cy="100.4" r="4.75" fill="#1e9bff" stroke="#000" stroke-width="1.6"/>
<circle cx="592.6" cy="84.7" r="4.75" fill="#ff6428" stroke="#000" stroke-width="1.6"/>
<circle cx="622.5" cy="63.9" r="4.75" fill="#f014aa" stroke="#000" stroke-width="1.6"/>
<line x1="462" y1="64.9" x2="639" y2="64.9" stroke="#727272" stroke-width="1.25" />
<path d="M458.6 65 L469 62.2 L469 67.8 Z" fill="#111"/>
<circle cx="638.8" cy="64.8" r="2.6" fill="#000"/>
<line x1="652.3" y1="87" x2="644.2" y2="72.4" stroke="#000" stroke-width="1.1" />
<path d="M641.6 67.6 L647.0 72.2 L642.4 74.6 Z" fill="#000"/>
<g transform="translate(649 99.9)" fill="#111"><text font-family='"Liberation Serif", serif'><tspan x="0" y="0" font-size="13" font-style="italic">h</tspan><tspan x="7.1" y="2.6" font-size="11.2" font-style="italic">min</tspan></text><line x1="0.86" y1="-10.66" x2="6.16" y2="-10.66" stroke="#111" stroke-width="0.84"/></g>
<path d="M588.1 73.1 L589.6 72.2 L591.3 74.7 L601.3 66.8 L601.9 67.5 L591.9 77.5 L590.4 77.8 Z" fill="#14b04c" stroke="#14b04c" stroke-width="0.5" stroke-linejoin="round"/>
<rect x="480.6" y="19.2" width="197.9" height="143.4" fill="none" stroke="#262626" stroke-width="1.1"/>
<path d="M480.60 162.60v-2.20M480.60 19.20v2.20M520.18 162.60v-2.20M520.18 19.20v2.20M559.76 162.60v-2.20M559.76 19.20v2.20M599.34 162.60v-2.20M599.34 19.20v2.20M638.92 162.60v-2.20M638.92 19.20v2.20M678.50 162.60v-2.20M678.50 19.20v2.20" stroke="#262626" stroke-width="0.8" fill="none"/>
<path d="M480.60 162.60h2.20M678.50 162.60h-2.20M480.60 138.70h2.20M678.50 138.70h-2.20M480.60 114.80h2.20M678.50 114.80h-2.20M480.60 90.90h2.20M678.50 90.90h-2.20M480.60 67.00h2.20M678.50 67.00h-2.20M480.60 43.10h2.20M678.50 43.10h-2.20M480.60 19.20h2.20M678.50 19.20h-2.20" stroke="#262626" stroke-width="0.8" fill="none"/>
<text x="480.6" y="177.2" font-size="10" text-anchor="middle" font-weight="normal" font-style="normal" font-family='"Liberation Sans", sans-serif' fill="#262626" >7</text>
<text x="520.18" y="177.2" font-size="10" text-anchor="middle" font-weight="normal" font-style="normal" font-family='"Liberation Sans", sans-serif' fill="#262626" >8</text>
<text x="559.76" y="177.2" font-size="10" text-anchor="middle" font-weight="normal" font-style="normal" font-family='"Liberation Sans", sans-serif' fill="#262626" >9</text>
<text x="599.34" y="177.2" font-size="10" text-anchor="middle" font-weight="normal" font-style="normal" font-family='"Liberation Sans", sans-serif' fill="#262626" >10</text>
<text x="638.92" y="177.2" font-size="10" text-anchor="middle" font-weight="normal" font-style="normal" font-family='"Liberation Sans", sans-serif' fill="#262626" >11</text>
<text x="678.5" y="177.2" font-size="10" text-anchor="middle" font-weight="normal" font-style="normal" font-family='"Liberation Sans", sans-serif' fill="#262626" >12</text>
<text x="477.6" y="166.2" font-size="10" text-anchor="end" font-weight="normal" font-style="normal" font-family='"Liberation Sans", sans-serif' fill="#262626" >0</text>
<text x="477.6" y="142.3" font-size="10" text-anchor="end" font-weight="normal" font-style="normal" font-family='"Liberation Sans", sans-serif' fill="#262626" >1</text>
<text x="477.6" y="118.4" font-size="10" text-anchor="end" font-weight="normal" font-style="normal" font-family='"Liberation Sans", sans-serif' fill="#262626" >2</text>
<text x="477.6" y="94.5" font-size="10" text-anchor="end" font-weight="normal" font-style="normal" font-family='"Liberation Sans", sans-serif' fill="#262626" >3</text>
<text x="477.6" y="70.6" font-size="10" text-anchor="end" font-weight="normal" font-style="normal" font-family='"Liberation Sans", sans-serif' fill="#262626" >4</text>
<text x="477.6" y="46.7" font-size="10" text-anchor="end" font-weight="normal" font-style="normal" font-family='"Liberation Sans", sans-serif' fill="#262626" >5</text>
<text x="477.6" y="22.8" font-size="10" text-anchor="end" font-weight="normal" font-style="normal" font-family='"Liberation Sans", sans-serif' fill="#262626" >6</text>
<text x="449.8" y="16.2" font-size="21.5" text-anchor="middle" font-weight="bold" font-style="normal" font-family='"Liberation Sans", sans-serif' fill="#000" >b</text>
<g transform="translate(552.3 30.6)" fill="#111"><text font-family='"Liberation Serif", serif'><tspan x="0" y="0" font-size="13.6" font-style="italic">α</tspan><tspan x="12.04" y="0" font-size="13.6">=</tspan><tspan x="24.71" y="0" font-size="13.6">1,</tspan><tspan x="37.71" y="0" font-size="13.6" font-style="italic">β</tspan><tspan x="49.08" y="0" font-size="13.6">=</tspan><tspan x="61.75" y="0" font-size="13.6">1</tspan></text></g>
<g transform="translate(490.9 118.7)" fill="#f014aa"><text font-family='"Liberation Serif", serif'><tspan x="0" y="0" font-size="13.2" font-style="italic">ρ</tspan><tspan x="10.74" y="0" font-size="13.2">=</tspan><tspan x="23.18" y="0" font-size="13.2">0.1,</tspan><tspan x="45.88" y="0" font-size="13.2" font-style="italic">λ</tspan><tspan x="51.9" y="2.6" font-size="9.6" font-style="italic">L</tspan><tspan x="62.24" y="0" font-size="13.2">=</tspan><tspan x="74.48" y="0" font-size="13.2">0.9</tspan></text><line x1="2.6" y1="-7.92" x2="7.8" y2="-7.92" stroke="#f014aa" stroke-width="0.86"/></g>
<g transform="translate(490.9 135.4)" fill="#ff6428"><text font-family='"Liberation Serif", serif'><tspan x="0" y="0" font-size="13.2" font-style="italic">ρ</tspan><tspan x="10.74" y="0" font-size="13.2">=</tspan><tspan x="23.18" y="0" font-size="13.2">0.1,</tspan><tspan x="45.88" y="0" font-size="13.2" font-style="italic">λ</tspan><tspan x="51.9" y="2.6" font-size="9.6" font-style="italic">L</tspan><tspan x="62.24" y="0" font-size="13.2">=</tspan><tspan x="74.48" y="0" font-size="13.2">0.5</tspan></text><line x1="2.6" y1="-7.92" x2="7.8" y2="-7.92" stroke="#ff6428" stroke-width="0.86"/></g>
<g transform="translate(490.9 152.1)" fill="#1e9bff"><text font-family='"Liberation Serif", serif'><tspan x="0" y="0" font-size="13.2" font-style="italic">ρ</tspan><tspan x="10.74" y="0" font-size="13.2">=</tspan><tspan x="23.18" y="0" font-size="13.2">0.1,</tspan><tspan x="45.88" y="0" font-size="13.2" font-style="italic">λ</tspan><tspan x="51.9" y="2.6" font-size="9.6" font-style="italic">L</tspan><tspan x="62.24" y="0" font-size="13.2">=</tspan><tspan x="74.48" y="0" font-size="13.2">0.2</tspan></text><line x1="2.6" y1="-7.92" x2="7.8" y2="-7.92" stroke="#1e9bff" stroke-width="0.86"/></g>
<path d="M583.2 130.3 L584.7 129.4 L586.4 131.9 L596.4 124 L597 124.7 L587 134.7 L585.5 135 Z" fill="#14b04c" stroke="#14b04c" stroke-width="0.5" stroke-linejoin="round"/>
<g transform="translate(465 90.85) rotate(-90)" fill="#262626"><text font-family='"Liberation Serif", serif'><tspan x="-3.25" y="0" font-size="13" font-style="italic">h</tspan></text><line x1="-2.55" y1="-11.57" x2="2.15" y2="-11.57" stroke="#262626" stroke-width="0.84"/></g>
<g transform="translate(580.6 190.9)" fill="#262626"><text font-family='"Liberation Serif", serif'><tspan x="-4.12" y="0" font-size="13.5" font-style="italic">A</tspan></text><line x1="-1.55" y1="-10.8" x2="3.45" y2="-10.8" stroke="#262626" stroke-width="0.88"/></g>
<path d="M440.3 160.2 L440.3 196.8 L639.6 196.8 L639.6 185" fill="none" stroke="#111" stroke-width="1.1"/>
<path d="M639.6 176.6 L642.4 186.2 L636.8 186.2 Z" fill="#111"/>
<rect x="37.5" y="259.6" width="187.9" height="136.8" fill="none" stroke="#262626" stroke-width="1.1"/>
<path d="M37.50 396.40h2.20M225.40 396.40h-2.20M37.50 328.00h2.20M225.40 328.00h-2.20M37.50 259.60h2.20M225.40 259.60h-2.20" stroke="#262626" stroke-width="0.8" fill="none"/>
<path d="M37.50 375.81h1.50M225.40 375.81h-1.50M37.50 363.76h1.50M225.40 363.76h-1.50M37.50 355.22h1.50M225.40 355.22h-1.50M37.50 348.59h1.50M225.40 348.59h-1.50M37.50 343.17h1.50M225.40 343.17h-1.50M37.50 338.60h1.50M225.40 338.60h-1.50M37.50 334.63h1.50M225.40 334.63h-1.50M37.50 331.13h1.50M225.40 331.13h-1.50M37.50 328.00h1.50M225.40 328.00h-1.50M37.50 307.41h1.50M225.40 307.41h-1.50M37.50 295.36h1.50M225.40 295.36h-1.50M37.50 286.82h1.50M225.40 286.82h-1.50M37.50 280.19h1.50M225.40 280.19h-1.50M37.50 274.77h1.50M225.40 274.77h-1.50M37.50 270.20h1.50M225.40 270.20h-1.50M37.50 266.23h1.50M225.40 266.23h-1.50M37.50 262.73h1.50M225.40 262.73h-1.50" stroke="#262626" stroke-width="0.7" fill="none"/>
<text x="34.7" y="265.2" font-size="10" text-anchor="end" font-family='"Liberation Sans", sans-serif' fill="#262626">10<tspan font-size="7.3" dx="0.25" dy="-5">2</tspan></text>
<text x="34.7" y="333.6" font-size="10" text-anchor="end" font-family='"Liberation Sans", sans-serif' fill="#262626">10<tspan font-size="7.3" dx="0.25" dy="-5">1</tspan></text>
<text x="34.7" y="402" font-size="10" text-anchor="end" font-family='"Liberation Sans", sans-serif' fill="#262626">10<tspan font-size="7.3" dx="0.25" dy="-5">0</tspan></text>
<path d="M44.07 396.40v-2.20M44.07 259.60v2.20M87.76 396.40v-2.20M87.76 259.60v2.20M131.45 396.40v-2.20M131.45 259.60v2.20M175.14 396.40v-2.20M175.14 259.60v2.20M218.83 396.40v-2.20M218.83 259.60v2.20" stroke="#262626" stroke-width="0.8" fill="none"/>
<path d="M39.23 396.40v-1.50M39.23 259.60v1.50M40.69 396.40v-1.50M40.69 259.60v1.50M41.96 396.40v-1.50M41.96 259.60v1.50M43.08 396.40v-1.50M43.08 259.60v1.50M50.65 396.40v-1.50M50.65 259.60v1.50M54.50 396.40v-1.50M54.50 259.60v1.50M57.23 396.40v-1.50M57.23 259.60v1.50M59.34 396.40v-1.50M59.34 259.60v1.50M61.07 396.40v-1.50M61.07 259.60v1.50M62.54 396.40v-1.50M62.54 259.60v1.50M63.80 396.40v-1.50M63.80 259.60v1.50M64.92 396.40v-1.50M64.92 259.60v1.50M65.92 396.40v-1.50M65.92 259.60v1.50M72.49 396.40v-1.50M72.49 259.60v1.50M76.34 396.40v-1.50M76.34 259.60v1.50M79.07 396.40v-1.50M79.07 259.60v1.50M81.19 396.40v-1.50M81.19 259.60v1.50M82.92 396.40v-1.50M82.92 259.60v1.50M84.38 396.40v-1.50M84.38 259.60v1.50M85.65 396.40v-1.50M85.65 259.60v1.50M86.76 396.40v-1.50M86.76 259.60v1.50M94.34 396.40v-1.50M94.34 259.60v1.50M98.18 396.40v-1.50M98.18 259.60v1.50M100.91 396.40v-1.50M100.91 259.60v1.50M103.03 396.40v-1.50M103.03 259.60v1.50M104.76 396.40v-1.50M104.76 259.60v1.50M106.22 396.40v-1.50M106.22 259.60v1.50M107.49 396.40v-1.50M107.49 259.60v1.50M108.61 396.40v-1.50M108.61 259.60v1.50M109.61 396.40v-1.50M109.61 259.60v1.50M116.18 396.40v-1.50M116.18 259.60v1.50M120.03 396.40v-1.50M120.03 259.60v1.50M122.76 396.40v-1.50M122.76 259.60v1.50M124.87 396.40v-1.50M124.87 259.60v1.50M126.60 396.40v-1.50M126.60 259.60v1.50M128.07 396.40v-1.50M128.07 259.60v1.50M129.33 396.40v-1.50M129.33 259.60v1.50M130.45 396.40v-1.50M130.45 259.60v1.50M138.03 396.40v-1.50M138.03 259.60v1.50M141.87 396.40v-1.50M141.87 259.60v1.50M144.60 396.40v-1.50M144.60 259.60v1.50M146.72 396.40v-1.50M146.72 259.60v1.50M148.45 396.40v-1.50M148.45 259.60v1.50M149.91 396.40v-1.50M149.91 259.60v1.50M151.18 396.40v-1.50M151.18 259.60v1.50M152.29 396.40v-1.50M152.29 259.60v1.50M153.29 396.40v-1.50M153.29 259.60v1.50M159.87 396.40v-1.50M159.87 259.60v1.50M163.72 396.40v-1.50M163.72 259.60v1.50M166.45 396.40v-1.50M166.45 259.60v1.50M168.56 396.40v-1.50M168.56 259.60v1.50M170.29 396.40v-1.50M170.29 259.60v1.50M171.75 396.40v-1.50M171.75 259.60v1.50M173.02 396.40v-1.50M173.02 259.60v1.50M174.14 396.40v-1.50M174.14 259.60v1.50M181.71 396.40v-1.50M181.71 259.60v1.50M185.56 396.40v-1.50M185.56 259.60v1.50M188.29 396.40v-1.50M188.29 259.60v1.50M190.41 396.40v-1.50M190.41 259.60v1.50M192.14 396.40v-1.50M192.14 259.60v1.50M193.60 396.40v-1.50M193.60 259.60v1.50M194.86 396.40v-1.50M194.86 259.60v1.50M195.98 396.40v-1.50M195.98 259.60v1.50M196.98 396.40v-1.50M196.98 259.60v1.50M203.56 396.40v-1.50M203.56 259.60v1.50M207.40 396.40v-1.50M207.40 259.60v1.50M210.13 396.40v-1.50M210.13 259.60v1.50M212.25 396.40v-1.50M212.25 259.60v1.50M213.98 396.40v-1.50M213.98 259.60v1.50M215.44 396.40v-1.50M215.44 259.60v1.50M216.71 396.40v-1.50M216.71 259.60v1.50M217.83 396.40v-1.50M217.83 259.60v1.50" stroke="#262626" stroke-width="0.7" fill="none"/>
<text x="44.57" y="412.9" font-size="10" text-anchor="middle" font-family='"Liberation Sans", sans-serif' fill="#262626">10<tspan font-size="7.3" dx="0.25" dy="-4.6">0</tspan></text>
<text x="88.26" y="412.9" font-size="10" text-anchor="middle" font-family='"Liberation Sans", sans-serif' fill="#262626">10<tspan font-size="7.3" dx="0.25" dy="-4.6">2</tspan></text>
<text x="131.95" y="412.9" font-size="10" text-anchor="middle" font-family='"Liberation Sans", sans-serif' fill="#262626">10<tspan font-size="7.3" dx="0.25" dy="-4.6">4</tspan></text>
<text x="175.64" y="412.9" font-size="10" text-anchor="middle" font-family='"Liberation Sans", sans-serif' fill="#262626">10<tspan font-size="7.3" dx="0.25" dy="-4.6">6</tspan></text>
<text x="219.33" y="412.9" font-size="10" text-anchor="middle" font-family='"Liberation Sans", sans-serif' fill="#262626">10<tspan font-size="7.3" dx="0.25" dy="-4.6">8</tspan></text>
<g transform="translate(131.45 427.2)" fill="#262626"><text font-family='"Liberation Serif", serif'><tspan x="-4.28" y="0" font-size="14" font-style="italic">A</tspan></text><line x1="-1.6" y1="-11.2" x2="3.3" y2="-11.2" stroke="#262626" stroke-width="0.91"/></g>
<text x="130.45" y="256.8" font-size="21.5" text-anchor="middle" font-weight="bold" font-style="normal" font-family='"Liberation Sans", sans-serif' fill="#000" >c</text>
<path d="M44.07 303.03 L65 370.27" fill="none" stroke="#0064ff" stroke-width="1.75" stroke-linejoin="round" />
<path d="M65 370.27 L65.32 370.58 L65.73 370.99 L66.21 371.48 L66.76 372.03 L67.35 372.6 L67.96 373.16 L68.58 373.7 L69.2 374.17 L69.81 374.6 L70.45 375.02 L71.1 375.44 L71.78 375.83 L72.47 376.21 L73.18 376.58 L73.91 376.92 L74.66 377.25 L75.42 377.55 L76.22 377.83 L77.03 378.09 L77.86 378.33 L78.7 378.56 L79.55 378.77 L80.38 378.97 L81.21 379.16 L82.07 379.34 L83 379.51 L83.95 379.66 L84.9 379.8 L85.79 379.92 L86.58 380.03 L87.26 380.12 L87.76 380.19" fill="none" stroke="#0064ff" stroke-width="1.75" stroke-linejoin="round" />
<path d="M87.76 380.19 L87.76 379.04 L87.76 377.47 L87.76 375.6 L87.76 373.55 L87.76 371.41 L87.77 369.3 L87.79 367.33 L87.83 365.62 L87.87 364.11 L87.93 362.69 L87.99 361.34 L88.06 360.05 L88.14 358.82 L88.22 357.63 L88.32 356.48 L88.42 355.36 L88.51 354.31 L88.6 353.35 L88.68 352.45 L88.78 351.59 L88.9 350.72 L89.06 349.83 L89.26 348.88 L89.51 347.84 L89.82 346.68 L90.17 345.44 L90.56 344.13 L90.98 342.8 L91.44 341.46 L91.94 340.16 L92.46 338.92 L93 337.78 L93.56 336.75 L94.11 335.82 L94.68 334.95 L95.28 334.11 L95.95 333.28 L96.69 332.41 L97.52 331.48 L98.47 330.46 L99.55 329.36 L100.76 328.22 L102.07 327.04 L103.45 325.82 L104.88 324.56 L106.32 323.26 L107.76 321.92 L109.17 320.54 L110.56 319.11 L111.97 317.62 L113.4 316.08 L114.84 314.5 L116.27 312.91 L117.7 311.31 L119.12 309.73 L120.53 308.16 L121.99 306.54 L123.55 304.79 L125.14 303 L126.7 301.23 L128.17 299.56 L129.5 298.06 L130.61 296.8 L131.45 295.85" fill="none" stroke="#0064ff" stroke-width="1.75" stroke-linejoin="round" />
<path d="M65.92 301.32 L87.54 369.38" fill="none" stroke="#ff00aa" stroke-width="1.75" stroke-dasharray="6.4 6.2" stroke-linejoin="round" />
<path d="M87.54 369.38 L93 373.9 L100.87 375.88 L109.17 377.45 L120.53 378.96 L131.45 379.98 L131.52 365.62 L132.21 355.77 L134.03 344.96 L139.42 332.24 L148.49 323.21 L161.16 310.63 L175.14 295.85" fill="none" stroke="#ff00aa" stroke-width="1.75" stroke-dasharray="6.4 6.2" stroke-linejoin="round" />
<path d="M87.76 297.9 L89.55 303.65 L92.07 311.79 L95.09 321.52 L98.36 332.07 L101.64 342.63 L104.7 352.43 L107.29 360.68 L109.17 366.58 L110.33 370.09 L110.98 371.93 L111.25 372.5 L111.26 372.16 L111.11 371.3 L110.93 370.3 L110.82 369.53 L110.92 369.38 L111.14 369.65 L111.36 369.9 L111.58 370.12 L111.8 370.34 L112.04 370.54 L112.29 370.74 L112.57 370.95 L112.88 371.16 L113.22 371.39 L113.58 371.62 L113.97 371.85 L114.37 372.08 L114.79 372.31 L115.23 372.53 L115.69 372.74 L116.16 372.94 L116.68 373.13 L117.28 373.31 L117.91 373.49 L118.55 373.67 L119.16 373.82 L119.72 373.96 L120.18 374.08 L120.53 374.17" fill="none" stroke="#08aa3c" stroke-width="1.75" stroke-dasharray="1.75 1.55" stroke-linejoin="round" />
<path d="M120.53 374.17 L121.03 374.29 L121.68 374.44 L122.45 374.62 L123.31 374.83 L124.25 375.04 L125.25 375.26 L126.27 375.48 L127.3 375.67 L128.35 375.87 L129.45 376.07 L130.59 376.27 L131.78 376.47 L133.01 376.66 L134.27 376.85 L135.58 377.02 L136.91 377.18 L138.29 377.32 L139.72 377.45 L141.19 377.57 L142.7 377.68 L144.23 377.78 L145.79 377.88 L147.35 377.97 L148.93 378.07 L150.52 378.16 L152.14 378.25 L153.79 378.33 L155.45 378.42 L157.12 378.5 L158.78 378.58 L160.42 378.66 L162.03 378.75 L163.7 378.85 L165.48 378.97 L167.3 379.09 L169.08 379.21 L170.75 379.32 L172.26 379.42 L173.53 379.51 L174.48 379.57" fill="none" stroke="#08aa3c" stroke-width="1.75" stroke-linejoin="round" />
<path d="M174.48 379.57 L174.51 378.75 L174.56 377.66 L174.61 376.36 L174.66 374.91 L174.72 373.39 L174.79 371.86 L174.85 370.39 L174.92 369.04 L174.98 367.82 L175.03 366.68 L175.08 365.57 L175.14 364.46 L175.21 363.32 L175.29 362.12 L175.4 360.82 L175.53 359.4 L175.67 357.81 L175.81 356.08 L175.95 354.26 L176.12 352.37 L176.33 350.46 L176.59 348.56 L176.91 346.72 L177.32 344.96 L177.79 343.28 L178.3 341.62 L178.86 339.98 L179.48 338.38 L180.17 336.8 L180.95 335.25 L181.81 333.73 L182.78 332.24 L183.88 330.81 L185.1 329.43 L186.43 328.1 L187.83 326.79 L189.29 325.48 L190.77 324.17 L192.25 322.82 L193.7 321.43 L195.15 320 L196.63 318.55 L198.12 317.08 L199.63 315.59 L201.15 314.09 L202.67 312.58 L204.2 311.06 L205.72 309.53 L207.32 307.91 L209.05 306.15 L210.83 304.33 L212.59 302.53 L214.25 300.82 L215.75 299.28 L217.01 297.98 L217.95 297.01" fill="none" stroke="#08aa3c" stroke-width="1.75" stroke-dasharray="1.75 1.55" stroke-linejoin="round" />
<line x1="43.1" y1="272.4" x2="60.2" y2="272.4" stroke="#0064ff" stroke-width="1.75" />
<g transform="translate(61.4 276.1)" fill="#262626"><text font-family='"Liberation Serif", serif'><tspan x="0" y="0" font-size="13.5" font-style="italic">α</tspan><tspan x="10.99" y="0" font-size="13.5">=</tspan><tspan x="22.7" y="0" font-size="13.5">1</tspan></text></g>
<path d="M94.8 272.4 L111.2 272.4" fill="none" stroke="#ff00aa" stroke-width="1.75" stroke-dasharray="6.4 6.2" stroke-linejoin="round" />
<g transform="translate(112.7 276.1)" fill="#262626"><text font-family='"Liberation Serif", serif'><tspan x="0" y="0" font-size="13.5" font-style="italic">α</tspan><tspan x="10.99" y="0" font-size="13.5">=</tspan><tspan x="22.7" y="0" font-size="13.5">2</tspan></text></g>
<path d="M146 272.4 L161.4 272.4" fill="none" stroke="#08aa3c" stroke-width="1.75" stroke-dasharray="1.75 1.55" stroke-linejoin="round" />
<g transform="translate(163.4 276.1)" fill="#262626"><text font-family='"Liberation Serif", serif'><tspan x="0" y="0" font-size="13.5" font-style="italic">α</tspan><tspan x="10.99" y="0" font-size="13.5">=</tspan><tspan x="22.7" y="0" font-size="13.5">3</tspan></text></g>
<g transform="translate(12.2 328.7) rotate(-90)" fill="#262626"><text font-family='"Liberation Serif", serif'><tspan x="-11.88" y="0" font-size="14.5" font-style="italic">h</tspan><tspan x="-4.62" y="2" font-size="11" font-style="italic">min</tspan></text><line x1="-10.69" y1="-12.04" x2="-6.09" y2="-12.04" stroke="#262626" stroke-width="0.94"/></g>
<rect x="261" y="259.6" width="192.6" height="136.8" fill="none" stroke="#262626" stroke-width="1.1"/>
<path d="M261.00 396.40h2.20M453.60 396.40h-2.20M261.00 362.20h2.20M453.60 362.20h-2.20M261.00 328.00h2.20M453.60 328.00h-2.20M261.00 293.80h2.20M453.60 293.80h-2.20M261.00 259.60h2.20M453.60 259.60h-2.20" stroke="#262626" stroke-width="0.8" fill="none"/>
<text x="257.2" y="400" font-size="10" text-anchor="end" font-weight="normal" font-style="normal" font-family='"Liberation Sans", sans-serif' fill="#262626" >0</text>
<text x="257.2" y="365.8" font-size="10" text-anchor="end" font-weight="normal" font-style="normal" font-family='"Liberation Sans", sans-serif' fill="#262626" >1</text>
<text x="257.2" y="331.6" font-size="10" text-anchor="end" font-weight="normal" font-style="normal" font-family='"Liberation Sans", sans-serif' fill="#262626" >2</text>
<text x="257.2" y="297.4" font-size="10" text-anchor="end" font-weight="normal" font-style="normal" font-family='"Liberation Sans", sans-serif' fill="#262626" >3</text>
<text x="257.2" y="263.2" font-size="10" text-anchor="end" font-weight="normal" font-style="normal" font-family='"Liberation Sans", sans-serif' fill="#262626" >4</text>
<path d="M267.74 396.40v-2.20M267.74 259.60v2.20M312.52 396.40v-2.20M312.52 259.60v2.20M357.30 396.40v-2.20M357.30 259.60v2.20M402.08 396.40v-2.20M402.08 259.60v2.20M446.86 396.40v-2.20M446.86 259.60v2.20" stroke="#262626" stroke-width="0.8" fill="none"/>
<path d="M262.77 396.40v-1.50M262.77 259.60v1.50M264.27 396.40v-1.50M264.27 259.60v1.50M265.57 396.40v-1.50M265.57 259.60v1.50M266.71 396.40v-1.50M266.71 259.60v1.50M274.48 396.40v-1.50M274.48 259.60v1.50M278.42 396.40v-1.50M278.42 259.60v1.50M281.22 396.40v-1.50M281.22 259.60v1.50M283.39 396.40v-1.50M283.39 259.60v1.50M285.16 396.40v-1.50M285.16 259.60v1.50M286.66 396.40v-1.50M286.66 259.60v1.50M287.96 396.40v-1.50M287.96 259.60v1.50M289.11 396.40v-1.50M289.11 259.60v1.50M290.13 396.40v-1.50M290.13 259.60v1.50M296.87 396.40v-1.50M296.87 259.60v1.50M300.81 396.40v-1.50M300.81 259.60v1.50M303.61 396.40v-1.50M303.61 259.60v1.50M305.78 396.40v-1.50M305.78 259.60v1.50M307.55 396.40v-1.50M307.55 259.60v1.50M309.05 396.40v-1.50M309.05 259.60v1.50M310.35 396.40v-1.50M310.35 259.60v1.50M311.50 396.40v-1.50M311.50 259.60v1.50M319.26 396.40v-1.50M319.26 259.60v1.50M323.20 396.40v-1.50M323.20 259.60v1.50M326.00 396.40v-1.50M326.00 259.60v1.50M328.17 396.40v-1.50M328.17 259.60v1.50M329.94 396.40v-1.50M329.94 259.60v1.50M331.44 396.40v-1.50M331.44 259.60v1.50M332.74 396.40v-1.50M332.74 259.60v1.50M333.89 396.40v-1.50M333.89 259.60v1.50M334.91 396.40v-1.50M334.91 259.60v1.50M341.65 396.40v-1.50M341.65 259.60v1.50M345.59 396.40v-1.50M345.59 259.60v1.50M348.39 396.40v-1.50M348.39 259.60v1.50M350.56 396.40v-1.50M350.56 259.60v1.50M352.33 396.40v-1.50M352.33 259.60v1.50M353.83 396.40v-1.50M353.83 259.60v1.50M355.13 396.40v-1.50M355.13 259.60v1.50M356.28 396.40v-1.50M356.28 259.60v1.50M364.04 396.40v-1.50M364.04 259.60v1.50M367.98 396.40v-1.50M367.98 259.60v1.50M370.78 396.40v-1.50M370.78 259.60v1.50M372.95 396.40v-1.50M372.95 259.60v1.50M374.72 396.40v-1.50M374.72 259.60v1.50M376.22 396.40v-1.50M376.22 259.60v1.50M377.52 396.40v-1.50M377.52 259.60v1.50M378.67 396.40v-1.50M378.67 259.60v1.50M379.69 396.40v-1.50M379.69 259.60v1.50M386.43 396.40v-1.50M386.43 259.60v1.50M390.37 396.40v-1.50M390.37 259.60v1.50M393.17 396.40v-1.50M393.17 259.60v1.50M395.34 396.40v-1.50M395.34 259.60v1.50M397.11 396.40v-1.50M397.11 259.60v1.50M398.61 396.40v-1.50M398.61 259.60v1.50M399.91 396.40v-1.50M399.91 259.60v1.50M401.06 396.40v-1.50M401.06 259.60v1.50M408.82 396.40v-1.50M408.82 259.60v1.50M412.76 396.40v-1.50M412.76 259.60v1.50M415.56 396.40v-1.50M415.56 259.60v1.50M417.73 396.40v-1.50M417.73 259.60v1.50M419.50 396.40v-1.50M419.50 259.60v1.50M421.00 396.40v-1.50M421.00 259.60v1.50M422.30 396.40v-1.50M422.30 259.60v1.50M423.45 396.40v-1.50M423.45 259.60v1.50M424.47 396.40v-1.50M424.47 259.60v1.50M431.21 396.40v-1.50M431.21 259.60v1.50M435.15 396.40v-1.50M435.15 259.60v1.50M437.95 396.40v-1.50M437.95 259.60v1.50M440.12 396.40v-1.50M440.12 259.60v1.50M441.89 396.40v-1.50M441.89 259.60v1.50M443.39 396.40v-1.50M443.39 259.60v1.50M444.69 396.40v-1.50M444.69 259.60v1.50M445.84 396.40v-1.50M445.84 259.60v1.50" stroke="#262626" stroke-width="0.7" fill="none"/>
<text x="268.24" y="412.9" font-size="10" text-anchor="middle" font-family='"Liberation Sans", sans-serif' fill="#262626">10<tspan font-size="7.3" dx="0.25" dy="-4.6">0</tspan></text>
<text x="313.02" y="412.9" font-size="10" text-anchor="middle" font-family='"Liberation Sans", sans-serif' fill="#262626">10<tspan font-size="7.3" dx="0.25" dy="-4.6">2</tspan></text>
<text x="357.8" y="412.9" font-size="10" text-anchor="middle" font-family='"Liberation Sans", sans-serif' fill="#262626">10<tspan font-size="7.3" dx="0.25" dy="-4.6">4</tspan></text>
<text x="402.58" y="412.9" font-size="10" text-anchor="middle" font-family='"Liberation Sans", sans-serif' fill="#262626">10<tspan font-size="7.3" dx="0.25" dy="-4.6">6</tspan></text>
<text x="447.36" y="412.9" font-size="10" text-anchor="middle" font-family='"Liberation Sans", sans-serif' fill="#262626">10<tspan font-size="7.3" dx="0.25" dy="-4.6">8</tspan></text>
<g transform="translate(357.3 427.2)" fill="#262626"><text font-family='"Liberation Serif", serif'><tspan x="-4.28" y="0" font-size="14" font-style="italic">A</tspan></text><line x1="-1.6" y1="-11.2" x2="3.3" y2="-11.2" stroke="#262626" stroke-width="0.91"/></g>
<text x="354.3" y="256.8" font-size="21.5" text-anchor="middle" font-weight="bold" font-style="normal" font-family='"Liberation Sans", sans-serif' fill="#000" >d</text>
<path d="M267.74 392.98 L312.52 392.98" fill="none" stroke="#0064ff" stroke-width="1.75" stroke-linejoin="round" />
<path d="M312.52 392.98 L312.53 392.18 L312.53 391.1 L312.54 389.82 L312.54 388.4 L312.56 386.91 L312.58 385.42 L312.61 384 L312.65 382.72 L312.71 381.61 L312.76 380.63 L312.82 379.71 L312.89 378.8 L312.98 377.82 L313.08 376.72 L313.2 375.43 L313.35 373.9 L313.51 372.12 L313.69 370.15 L313.88 368.03 L314.1 365.77 L314.33 363.39 L314.59 360.92 L314.88 358.39 L315.21 355.8 L315.57 353.11 L315.96 350.27 L316.38 347.31 L316.83 344.28 L317.3 341.22 L317.79 338.18 L318.28 335.19 L318.79 332.31 L319.31 329.49 L319.85 326.66 L320.41 323.86 L320.98 321.09 L321.56 318.37 L322.15 315.72 L322.74 313.16 L323.33 310.69 L323.96 308.24 L324.64 305.74 L325.35 303.27 L326.05 300.9 L326.71 298.69 L327.31 296.73 L327.82 295.07 L328.19 293.8" fill="none" stroke="#0064ff" stroke-width="1.75" stroke-linejoin="round" />
<path d="M328.19 293.8 L357.3 293.8" fill="none" stroke="#0064ff" stroke-width="1.75" stroke-linejoin="round" />
<path d="M290.13 392.3 L312.52 392.3" fill="none" stroke="#ff00aa" stroke-width="1.75" stroke-dasharray="6.4 6.2" stroke-linejoin="round" />
<path d="M314.31 392.3 L357.3 392.3" fill="none" stroke="#ff00aa" stroke-width="1.75" stroke-dasharray="4 2.9" stroke-linejoin="round" />
<path d="M357.3 392.3 L357.75 379.3 L359.34 367.22 L360.93 357.53 L363.31 344.27 L365.7 331.87 L368.88 316.16 L371.26 304.83 L373.64 293.8 L396.48 293.8" fill="none" stroke="#ff00aa" stroke-width="1.75" stroke-dasharray="6.4 6.2" stroke-linejoin="round" />
<path d="M337.6 392.3 L341.63 391.95 L346.1 392.3 L350.58 391.61 L355.06 392.3 L359.54 391.27 L364.02 392.3 L370.73 392.64" fill="none" stroke="#08aa3c" stroke-width="1.6" stroke-dasharray="1.6 1.1" stroke-linejoin="round" />
<path d="M370.73 392.64 L401.63 392.98 L401.95 389.81 L403.22 379.91 L404.81 368.92 L407.2 353.61 L409.58 339.09 L412.76 320.52 L415.14 307.02 L417.53 293.8 L446.86 293.8" fill="none" stroke="#08aa3c" stroke-width="1.75" stroke-dasharray="1.75 1.55" stroke-linejoin="round" />
<line x1="267.3" y1="272.1" x2="284.4" y2="272.1" stroke="#0064ff" stroke-width="1.75" />
<g transform="translate(285.6 275.8)" fill="#262626"><text font-family='"Liberation Serif", serif'><tspan x="0" y="0" font-size="13.5" font-style="italic">α</tspan><tspan x="10.99" y="0" font-size="13.5">=</tspan><tspan x="22.7" y="0" font-size="13.5">1</tspan></text></g>
<path d="M319 272.1 L335.4 272.1" fill="none" stroke="#ff00aa" stroke-width="1.75" stroke-dasharray="6.4 6.2" stroke-linejoin="round" />
<g transform="translate(336.9 275.8)" fill="#262626"><text font-family='"Liberation Serif", serif'><tspan x="0" y="0" font-size="13.5" font-style="italic">α</tspan><tspan x="10.99" y="0" font-size="13.5">=</tspan><tspan x="22.7" y="0" font-size="13.5">2</tspan></text></g>
<path d="M370.2 272.1 L385.6 272.1" fill="none" stroke="#08aa3c" stroke-width="1.75" stroke-dasharray="1.75 1.55" stroke-linejoin="round" />
<g transform="translate(387.6 275.8)" fill="#262626"><text font-family='"Liberation Serif", serif'><tspan x="0" y="0" font-size="13.5" font-style="italic">α</tspan><tspan x="10.99" y="0" font-size="13.5">=</tspan><tspan x="22.7" y="0" font-size="13.5">3</tspan></text></g>
<g transform="translate(245.6 328.3) rotate(-90)" fill="#262626"><text font-family='"Liberation Serif", serif'><tspan x="-19.23" y="0" font-size="14.5">λ</tspan><tspan x="-12.2" y="2.5" font-size="11.2" font-style="italic">L,hmin</tspan></text></g>
<rect x="261" y="497.3" width="192.6" height="136.8" fill="none" stroke="#262626" stroke-width="1.1"/>
<path d="M261.00 634.10h2.20M453.60 634.10h-2.20M261.00 599.90h2.20M453.60 599.90h-2.20M261.00 565.70h2.20M453.60 565.70h-2.20M261.00 531.50h2.20M453.60 531.50h-2.20M261.00 497.30h2.20M453.60 497.30h-2.20" stroke="#262626" stroke-width="0.8" fill="none"/>
<text x="257.2" y="637.7" font-size="10" text-anchor="end" font-weight="normal" font-style="normal" font-family='"Liberation Sans", sans-serif' fill="#262626" >0</text>
<text x="257.2" y="603.5" font-size="10" text-anchor="end" font-weight="normal" font-style="normal" font-family='"Liberation Sans", sans-serif' fill="#262626" >1</text>
<text x="257.2" y="569.3" font-size="10" text-anchor="end" font-weight="normal" font-style="normal" font-family='"Liberation Sans", sans-serif' fill="#262626" >2</text>
<text x="257.2" y="535.1" font-size="10" text-anchor="end" font-weight="normal" font-style="normal" font-family='"Liberation Sans", sans-serif' fill="#262626" >3</text>
<text x="257.2" y="500.9" font-size="10" text-anchor="end" font-weight="normal" font-style="normal" font-family='"Liberation Sans", sans-serif' fill="#262626" >4</text>
<path d="M267.74 634.10v-2.20M267.74 497.30v2.20M312.52 634.10v-2.20M312.52 497.30v2.20M357.30 634.10v-2.20M357.30 497.30v2.20M402.08 634.10v-2.20M402.08 497.30v2.20M446.86 634.10v-2.20M446.86 497.30v2.20" stroke="#262626" stroke-width="0.8" fill="none"/>
<path d="M262.77 634.10v-1.50M262.77 497.30v1.50M264.27 634.10v-1.50M264.27 497.30v1.50M265.57 634.10v-1.50M265.57 497.30v1.50M266.71 634.10v-1.50M266.71 497.30v1.50M274.48 634.10v-1.50M274.48 497.30v1.50M278.42 634.10v-1.50M278.42 497.30v1.50M281.22 634.10v-1.50M281.22 497.30v1.50M283.39 634.10v-1.50M283.39 497.30v1.50M285.16 634.10v-1.50M285.16 497.30v1.50M286.66 634.10v-1.50M286.66 497.30v1.50M287.96 634.10v-1.50M287.96 497.30v1.50M289.11 634.10v-1.50M289.11 497.30v1.50M290.13 634.10v-1.50M290.13 497.30v1.50M296.87 634.10v-1.50M296.87 497.30v1.50M300.81 634.10v-1.50M300.81 497.30v1.50M303.61 634.10v-1.50M303.61 497.30v1.50M305.78 634.10v-1.50M305.78 497.30v1.50M307.55 634.10v-1.50M307.55 497.30v1.50M309.05 634.10v-1.50M309.05 497.30v1.50M310.35 634.10v-1.50M310.35 497.30v1.50M311.50 634.10v-1.50M311.50 497.30v1.50M319.26 634.10v-1.50M319.26 497.30v1.50M323.20 634.10v-1.50M323.20 497.30v1.50M326.00 634.10v-1.50M326.00 497.30v1.50M328.17 634.10v-1.50M328.17 497.30v1.50M329.94 634.10v-1.50M329.94 497.30v1.50M331.44 634.10v-1.50M331.44 497.30v1.50M332.74 634.10v-1.50M332.74 497.30v1.50M333.89 634.10v-1.50M333.89 497.30v1.50M334.91 634.10v-1.50M334.91 497.30v1.50M341.65 634.10v-1.50M341.65 497.30v1.50M345.59 634.10v-1.50M345.59 497.30v1.50M348.39 634.10v-1.50M348.39 497.30v1.50M350.56 634.10v-1.50M350.56 497.30v1.50M352.33 634.10v-1.50M352.33 497.30v1.50M353.83 634.10v-1.50M353.83 497.30v1.50M355.13 634.10v-1.50M355.13 497.30v1.50M356.28 634.10v-1.50M356.28 497.30v1.50M364.04 634.10v-1.50M364.04 497.30v1.50M367.98 634.10v-1.50M367.98 497.30v1.50M370.78 634.10v-1.50M370.78 497.30v1.50M372.95 634.10v-1.50M372.95 497.30v1.50M374.72 634.10v-1.50M374.72 497.30v1.50M376.22 634.10v-1.50M376.22 497.30v1.50M377.52 634.10v-1.50M377.52 497.30v1.50M378.67 634.10v-1.50M378.67 497.30v1.50M379.69 634.10v-1.50M379.69 497.30v1.50M386.43 634.10v-1.50M386.43 497.30v1.50M390.37 634.10v-1.50M390.37 497.30v1.50M393.17 634.10v-1.50M393.17 497.30v1.50M395.34 634.10v-1.50M395.34 497.30v1.50M397.11 634.10v-1.50M397.11 497.30v1.50M398.61 634.10v-1.50M398.61 497.30v1.50M399.91 634.10v-1.50M399.91 497.30v1.50M401.06 634.10v-1.50M401.06 497.30v1.50M408.82 634.10v-1.50M408.82 497.30v1.50M412.76 634.10v-1.50M412.76 497.30v1.50M415.56 634.10v-1.50M415.56 497.30v1.50M417.73 634.10v-1.50M417.73 497.30v1.50M419.50 634.10v-1.50M419.50 497.30v1.50M421.00 634.10v-1.50M421.00 497.30v1.50M422.30 634.10v-1.50M422.30 497.30v1.50M423.45 634.10v-1.50M423.45 497.30v1.50M424.47 634.10v-1.50M424.47 497.30v1.50M431.21 634.10v-1.50M431.21 497.30v1.50M435.15 634.10v-1.50M435.15 497.30v1.50M437.95 634.10v-1.50M437.95 497.30v1.50M440.12 634.10v-1.50M440.12 497.30v1.50M441.89 634.10v-1.50M441.89 497.30v1.50M443.39 634.10v-1.50M443.39 497.30v1.50M444.69 634.10v-1.50M444.69 497.30v1.50M445.84 634.10v-1.50M445.84 497.30v1.50" stroke="#262626" stroke-width="0.7" fill="none"/>
<text x="268.24" y="650.6" font-size="10" text-anchor="middle" font-family='"Liberation Sans", sans-serif' fill="#262626">10<tspan font-size="7.3" dx="0.25" dy="-4.6">0</tspan></text>
<text x="313.02" y="650.6" font-size="10" text-anchor="middle" font-family='"Liberation Sans", sans-serif' fill="#262626">10<tspan font-size="7.3" dx="0.25" dy="-4.6">2</tspan></text>
<text x="357.8" y="650.6" font-size="10" text-anchor="middle" font-family='"Liberation Sans", sans-serif' fill="#262626">10<tspan font-size="7.3" dx="0.25" dy="-4.6">4</tspan></text>
<text x="402.58" y="650.6" font-size="10" text-anchor="middle" font-family='"Liberation Sans", sans-serif' fill="#262626">10<tspan font-size="7.3" dx="0.25" dy="-4.6">6</tspan></text>
<text x="447.36" y="650.6" font-size="10" text-anchor="middle" font-family='"Liberation Sans", sans-serif' fill="#262626">10<tspan font-size="7.3" dx="0.25" dy="-4.6">8</tspan></text>
<g transform="translate(357.3 664.9)" fill="#262626"><text font-family='"Liberation Serif", serif'><tspan x="-4.28" y="0" font-size="14" font-style="italic">A</tspan></text><line x1="-1.6" y1="-11.2" x2="3.3" y2="-11.2" stroke="#262626" stroke-width="0.91"/></g>
<text x="354.3" y="494.6" font-size="21.5" text-anchor="middle" font-weight="bold" font-style="normal" font-family='"Liberation Sans", sans-serif' fill="#000" >g</text>
<path d="M267.74 630.68 L312.52 630.68" fill="none" stroke="#0064ff" stroke-width="1.75" stroke-linejoin="round" />
<path d="M312.52 630.68 L312.53 629.88 L312.53 628.8 L312.54 627.52 L312.54 626.1 L312.56 624.61 L312.58 623.12 L312.61 621.7 L312.65 620.42 L312.71 619.31 L312.76 618.33 L312.82 617.41 L312.89 616.5 L312.98 615.52 L313.08 614.42 L313.2 613.13 L313.35 611.6 L313.51 609.82 L313.69 607.85 L313.88 605.73 L314.1 603.47 L314.33 601.09 L314.59 598.62 L314.88 596.09 L315.21 593.5 L315.57 590.81 L315.96 587.97 L316.38 585.01 L316.83 581.98 L317.3 578.92 L317.79 575.88 L318.28 572.89 L318.79 570.01 L319.31 567.19 L319.85 564.36 L320.41 561.56 L320.98 558.79 L321.56 556.07 L322.15 553.42 L322.74 550.86 L323.33 548.39 L323.96 545.94 L324.64 543.44 L325.35 540.97 L326.05 538.6 L326.71 536.39 L327.31 534.43 L327.82 532.77 L328.19 531.5" fill="none" stroke="#0064ff" stroke-width="1.75" stroke-linejoin="round" />
<path d="M328.19 531.5 L357.3 531.5" fill="none" stroke="#0064ff" stroke-width="1.75" stroke-linejoin="round" />
<path d="M290.13 630 L312.52 630" fill="none" stroke="#ff00aa" stroke-width="1.75" stroke-dasharray="6.4 6.2" stroke-linejoin="round" />
<path d="M314.31 630 L357.3 630" fill="none" stroke="#ff00aa" stroke-width="1.75" stroke-dasharray="4 2.9" stroke-linejoin="round" />
<path d="M357.3 630 L357.75 617 L359.34 604.92 L360.93 595.23 L363.31 581.97 L365.7 569.57 L368.88 553.86 L371.26 542.53 L373.64 531.5 L396.48 531.5" fill="none" stroke="#ff00aa" stroke-width="1.75" stroke-dasharray="6.4 6.2" stroke-linejoin="round" />
<path d="M337.6 630 L341.63 629.65 L346.1 630 L350.58 629.31 L355.06 630 L359.54 628.97 L364.02 630 L370.73 630.34" fill="none" stroke="#08aa3c" stroke-width="1.6" stroke-dasharray="1.6 1.1" stroke-linejoin="round" />
<path d="M370.73 630.34 L401.63 630.68 L401.95 627.51 L403.22 617.61 L404.81 606.62 L407.2 591.31 L409.58 576.79 L412.76 558.22 L415.14 544.72 L417.53 531.5 L446.86 531.5" fill="none" stroke="#08aa3c" stroke-width="1.75" stroke-dasharray="1.75 1.55" stroke-linejoin="round" />
<line x1="267.3" y1="510.3" x2="284.4" y2="510.3" stroke="#0064ff" stroke-width="1.75" />
<g transform="translate(285.6 514)" fill="#262626"><text font-family='"Liberation Serif", serif'><tspan x="0" y="0" font-size="13.5" font-style="italic">α</tspan><tspan x="10.99" y="0" font-size="13.5">=</tspan><tspan x="22.7" y="0" font-size="13.5">1</tspan></text></g>
<path d="M319 510.3 L335.4 510.3" fill="none" stroke="#ff00aa" stroke-width="1.75" stroke-dasharray="6.4 6.2" stroke-linejoin="round" />
<g transform="translate(336.9 514)" fill="#262626"><text font-family='"Liberation Serif", serif'><tspan x="0" y="0" font-size="13.5" font-style="italic">α</tspan><tspan x="10.99" y="0" font-size="13.5">=</tspan><tspan x="22.7" y="0" font-size="13.5">2</tspan></text></g>
<path d="M370.2 510.3 L385.6 510.3" fill="none" stroke="#08aa3c" stroke-width="1.75" stroke-dasharray="1.75 1.55" stroke-linejoin="round" />
<g transform="translate(387.6 514)" fill="#262626"><text font-family='"Liberation Serif", serif'><tspan x="0" y="0" font-size="13.5" font-style="italic">α</tspan><tspan x="10.99" y="0" font-size="13.5">=</tspan><tspan x="22.7" y="0" font-size="13.5">3</tspan></text></g>
<g transform="translate(245.6 566) rotate(-90)" fill="#262626"><text font-family='"Liberation Serif", serif'><tspan x="-21.09" y="0" font-size="14.5">λ</tspan><tspan x="-14.06" y="2.5" font-size="11.2" font-style="italic">L,Mmin</tspan></text></g>
<rect x="499.6" y="259.5" width="184.4" height="136.3" fill="none" stroke="#262626" stroke-width="1.1"/>
<path d="M499.60 395.80h2.20M684.00 395.80h-2.20M499.60 373.08h2.20M684.00 373.08h-2.20M499.60 350.37h2.20M684.00 350.37h-2.20M499.60 327.65h2.20M684.00 327.65h-2.20M499.60 304.93h2.20M684.00 304.93h-2.20M499.60 282.22h2.20M684.00 282.22h-2.20M499.60 259.50h2.20M684.00 259.50h-2.20" stroke="#262626" stroke-width="0.8" fill="none"/>
<text x="496.2" y="399.4" font-size="10" text-anchor="end" font-weight="normal" font-style="normal" font-family='"Liberation Sans", sans-serif' fill="#262626" >0</text>
<text x="496.2" y="376.68" font-size="10" text-anchor="end" font-weight="normal" font-style="normal" font-family='"Liberation Sans", sans-serif' fill="#262626" >0.02</text>
<text x="496.2" y="353.97" font-size="10" text-anchor="end" font-weight="normal" font-style="normal" font-family='"Liberation Sans", sans-serif' fill="#262626" >0.04</text>
<text x="496.2" y="331.25" font-size="10" text-anchor="end" font-weight="normal" font-style="normal" font-family='"Liberation Sans", sans-serif' fill="#262626" >0.06</text>
<text x="496.2" y="308.53" font-size="10" text-anchor="end" font-weight="normal" font-style="normal" font-family='"Liberation Sans", sans-serif' fill="#262626" >0.08</text>
<text x="496.2" y="285.82" font-size="10" text-anchor="end" font-weight="normal" font-style="normal" font-family='"Liberation Sans", sans-serif' fill="#262626" >0.1</text>
<text x="496.2" y="263.1" font-size="10" text-anchor="end" font-weight="normal" font-style="normal" font-family='"Liberation Sans", sans-serif' fill="#262626" >0.12</text>
<path d="M506.05 395.80v-2.20M506.05 259.50v2.20M548.93 395.80v-2.20M548.93 259.50v2.20M591.80 395.80v-2.20M591.80 259.50v2.20M634.67 395.80v-2.20M634.67 259.50v2.20M677.55 395.80v-2.20M677.55 259.50v2.20" stroke="#262626" stroke-width="0.8" fill="none"/>
<path d="M501.30 395.80v-1.50M501.30 259.50v1.50M502.73 395.80v-1.50M502.73 259.50v1.50M503.98 395.80v-1.50M503.98 259.50v1.50M505.07 395.80v-1.50M505.07 259.50v1.50M512.51 395.80v-1.50M512.51 259.50v1.50M516.28 395.80v-1.50M516.28 259.50v1.50M518.96 395.80v-1.50M518.96 259.50v1.50M521.04 395.80v-1.50M521.04 259.50v1.50M522.73 395.80v-1.50M522.73 259.50v1.50M524.17 395.80v-1.50M524.17 259.50v1.50M525.41 395.80v-1.50M525.41 259.50v1.50M526.51 395.80v-1.50M526.51 259.50v1.50M527.49 395.80v-1.50M527.49 259.50v1.50M533.94 395.80v-1.50M533.94 259.50v1.50M537.72 395.80v-1.50M537.72 259.50v1.50M540.40 395.80v-1.50M540.40 259.50v1.50M542.47 395.80v-1.50M542.47 259.50v1.50M544.17 395.80v-1.50M544.17 259.50v1.50M545.61 395.80v-1.50M545.61 259.50v1.50M546.85 395.80v-1.50M546.85 259.50v1.50M547.95 395.80v-1.50M547.95 259.50v1.50M555.38 395.80v-1.50M555.38 259.50v1.50M559.15 395.80v-1.50M559.15 259.50v1.50M561.83 395.80v-1.50M561.83 259.50v1.50M563.91 395.80v-1.50M563.91 259.50v1.50M565.61 395.80v-1.50M565.61 259.50v1.50M567.04 395.80v-1.50M567.04 259.50v1.50M568.29 395.80v-1.50M568.29 259.50v1.50M569.38 395.80v-1.50M569.38 259.50v1.50M570.36 395.80v-1.50M570.36 259.50v1.50M576.82 395.80v-1.50M576.82 259.50v1.50M580.59 395.80v-1.50M580.59 259.50v1.50M583.27 395.80v-1.50M583.27 259.50v1.50M585.35 395.80v-1.50M585.35 259.50v1.50M587.04 395.80v-1.50M587.04 259.50v1.50M588.48 395.80v-1.50M588.48 259.50v1.50M589.72 395.80v-1.50M589.72 259.50v1.50M590.82 395.80v-1.50M590.82 259.50v1.50M598.25 395.80v-1.50M598.25 259.50v1.50M602.03 395.80v-1.50M602.03 259.50v1.50M604.71 395.80v-1.50M604.71 259.50v1.50M606.78 395.80v-1.50M606.78 259.50v1.50M608.48 395.80v-1.50M608.48 259.50v1.50M609.92 395.80v-1.50M609.92 259.50v1.50M611.16 395.80v-1.50M611.16 259.50v1.50M612.26 395.80v-1.50M612.26 259.50v1.50M613.24 395.80v-1.50M613.24 259.50v1.50M619.69 395.80v-1.50M619.69 259.50v1.50M623.46 395.80v-1.50M623.46 259.50v1.50M626.14 395.80v-1.50M626.14 259.50v1.50M628.22 395.80v-1.50M628.22 259.50v1.50M629.92 395.80v-1.50M629.92 259.50v1.50M631.35 395.80v-1.50M631.35 259.50v1.50M632.60 395.80v-1.50M632.60 259.50v1.50M633.69 395.80v-1.50M633.69 259.50v1.50M641.13 395.80v-1.50M641.13 259.50v1.50M644.90 395.80v-1.50M644.90 259.50v1.50M647.58 395.80v-1.50M647.58 259.50v1.50M649.66 395.80v-1.50M649.66 259.50v1.50M651.35 395.80v-1.50M651.35 259.50v1.50M652.79 395.80v-1.50M652.79 259.50v1.50M654.03 395.80v-1.50M654.03 259.50v1.50M655.13 395.80v-1.50M655.13 259.50v1.50M656.11 395.80v-1.50M656.11 259.50v1.50M662.56 395.80v-1.50M662.56 259.50v1.50M666.34 395.80v-1.50M666.34 259.50v1.50M669.02 395.80v-1.50M669.02 259.50v1.50M671.09 395.80v-1.50M671.09 259.50v1.50M672.79 395.80v-1.50M672.79 259.50v1.50M674.23 395.80v-1.50M674.23 259.50v1.50M675.47 395.80v-1.50M675.47 259.50v1.50M676.57 395.80v-1.50M676.57 259.50v1.50" stroke="#262626" stroke-width="0.7" fill="none"/>
<text x="506.55" y="412.3" font-size="10" text-anchor="middle" font-family='"Liberation Sans", sans-serif' fill="#262626">10<tspan font-size="7.3" dx="0.25" dy="-4.6">0</tspan></text>
<text x="549.43" y="412.3" font-size="10" text-anchor="middle" font-family='"Liberation Sans", sans-serif' fill="#262626">10<tspan font-size="7.3" dx="0.25" dy="-4.6">2</tspan></text>
<text x="592.3" y="412.3" font-size="10" text-anchor="middle" font-family='"Liberation Sans", sans-serif' fill="#262626">10<tspan font-size="7.3" dx="0.25" dy="-4.6">4</tspan></text>
<text x="635.17" y="412.3" font-size="10" text-anchor="middle" font-family='"Liberation Sans", sans-serif' fill="#262626">10<tspan font-size="7.3" dx="0.25" dy="-4.6">6</tspan></text>
<text x="678.05" y="412.3" font-size="10" text-anchor="middle" font-family='"Liberation Sans", sans-serif' fill="#262626">10<tspan font-size="7.3" dx="0.25" dy="-4.6">8</tspan></text>
<g transform="translate(591.8 426.6)" fill="#262626"><text font-family='"Liberation Serif", serif'><tspan x="-4.28" y="0" font-size="14" font-style="italic">A</tspan></text><line x1="-1.6" y1="-11.2" x2="3.3" y2="-11.2" stroke="#262626" stroke-width="0.91"/></g>
<text x="592.6" y="256.6" font-size="21.5" text-anchor="middle" font-weight="bold" font-style="normal" font-family='"Liberation Sans", sans-serif' fill="#000" >e</text>
<path d="M506.05 282.22 L527.49 282.22 L527.49 282.22 L528.38 292.61 L529.28 302.05 L530.17 310.62 L531.06 318.42 L531.96 325.5 L532.85 331.93 L533.74 337.77 L534.63 343.08 L535.53 347.9 L536.42 352.28 L537.31 356.27 L538.21 359.88 L539.1 363.17 L539.99 366.15 L540.89 368.87 L541.78 371.33 L542.67 373.57 L543.57 375.6 L544.46 377.45 L545.35 379.13 L546.25 380.65 L547.14 382.04 L548.03 383.3 L548.93 384.44 L591.8 384.44" fill="none" stroke="#0064ff" stroke-width="1.75" stroke-linejoin="round" />
<path d="M527.49 284.49 L548.93 284.49 L548.93 284.49 L550.71 294.67 L552.5 303.92 L554.29 310.62 L556.07 318.42 L557.86 325.5 L559.64 331.93 L561.43 337.77 L563.22 343.08 L565 347.9 L566.79 352.28 L568.58 356.27 L570.36 359.88 L572.15 363.17 L573.94 366.15 L575.72 368.87 L577.51 371.33 L579.3 373.57 L581.08 375.6 L582.87 377.45 L584.65 379.13 L586.44 380.65 L588.23 382.04 L590.01 383.3 L591.8 384.44 L634.67 384.44" fill="none" stroke="#ff00aa" stroke-width="1.75" stroke-dasharray="6.4 6.2" stroke-linejoin="round" />
<path d="M548.93 282.22 L570.36 282.22 L570.36 282.22 L573.04 292.61 L575.72 302.05 L578.4 310.62 L581.08 318.42 L583.76 325.5 L586.44 331.93 L589.12 337.77 L591.8 343.08 L594.48 347.9 L597.16 352.28 L599.84 356.27 L602.52 359.88 L605.2 363.17 L607.88 366.15 L610.56 368.87 L613.24 371.33 L615.92 373.57 L618.6 375.6 L621.28 377.45 L623.96 379.13 L626.63 380.65 L629.31 382.04 L631.99 383.3 L634.67 384.44 L677.55 384.44" fill="none" stroke="#08aa3c" stroke-width="1.75" stroke-dasharray="1.75 1.55" stroke-linejoin="round" />
<line x1="506" y1="269.7" x2="523.1" y2="269.7" stroke="#0064ff" stroke-width="1.75" />
<g transform="translate(524.3 273.4)" fill="#262626"><text font-family='"Liberation Serif", serif'><tspan x="0" y="0" font-size="13.5" font-style="italic">α</tspan><tspan x="10.99" y="0" font-size="13.5">=</tspan><tspan x="22.7" y="0" font-size="13.5">1</tspan></text></g>
<path d="M557.7 269.7 L574.1 269.7" fill="none" stroke="#ff00aa" stroke-width="1.75" stroke-dasharray="6.4 6.2" stroke-linejoin="round" />
<g transform="translate(575.6 273.4)" fill="#262626"><text font-family='"Liberation Serif", serif'><tspan x="0" y="0" font-size="13.5" font-style="italic">α</tspan><tspan x="10.99" y="0" font-size="13.5">=</tspan><tspan x="22.7" y="0" font-size="13.5">2</tspan></text></g>
<path d="M608.9 269.7 L624.3 269.7" fill="none" stroke="#08aa3c" stroke-width="1.75" stroke-dasharray="1.75 1.55" stroke-linejoin="round" />
<g transform="translate(626.3 273.4)" fill="#262626"><text font-family='"Liberation Serif", serif'><tspan x="0" y="0" font-size="13.5" font-style="italic">α</tspan><tspan x="10.99" y="0" font-size="13.5">=</tspan><tspan x="22.7" y="0" font-size="13.5">3</tspan></text></g>
<g transform="translate(471.6 327.65) rotate(-90)" fill="#262626"><text font-family='"Liberation Serif", serif'><tspan x="-14.48" y="0" font-size="14.5" font-style="italic">ρ</tspan><tspan x="-7.52" y="1.8" font-size="11" font-style="italic">hmin</tspan></text><line x1="-12.66" y1="-9.43" x2="-8.26" y2="-9.43" stroke="#262626" stroke-width="0.94"/></g>
<rect x="499.6" y="497.5" width="184.4" height="136.1" fill="none" stroke="#262626" stroke-width="1.1"/>
<path d="M499.60 633.60h2.20M684.00 633.60h-2.20M499.60 610.92h2.20M684.00 610.92h-2.20M499.60 588.23h2.20M684.00 588.23h-2.20M499.60 565.55h2.20M684.00 565.55h-2.20M499.60 542.87h2.20M684.00 542.87h-2.20M499.60 520.18h2.20M684.00 520.18h-2.20M499.60 497.50h2.20M684.00 497.50h-2.20" stroke="#262626" stroke-width="0.8" fill="none"/>
<text x="496.2" y="637.2" font-size="10" text-anchor="end" font-weight="normal" font-style="normal" font-family='"Liberation Sans", sans-serif' fill="#262626" >0</text>
<text x="496.2" y="614.52" font-size="10" text-anchor="end" font-weight="normal" font-style="normal" font-family='"Liberation Sans", sans-serif' fill="#262626" >0.02</text>
<text x="496.2" y="591.83" font-size="10" text-anchor="end" font-weight="normal" font-style="normal" font-family='"Liberation Sans", sans-serif' fill="#262626" >0.04</text>
<text x="496.2" y="569.15" font-size="10" text-anchor="end" font-weight="normal" font-style="normal" font-family='"Liberation Sans", sans-serif' fill="#262626" >0.06</text>
<text x="496.2" y="546.47" font-size="10" text-anchor="end" font-weight="normal" font-style="normal" font-family='"Liberation Sans", sans-serif' fill="#262626" >0.08</text>
<text x="496.2" y="523.78" font-size="10" text-anchor="end" font-weight="normal" font-style="normal" font-family='"Liberation Sans", sans-serif' fill="#262626" >0.1</text>
<text x="496.2" y="501.1" font-size="10" text-anchor="end" font-weight="normal" font-style="normal" font-family='"Liberation Sans", sans-serif' fill="#262626" >0.12</text>
<path d="M506.05 633.60v-2.20M506.05 497.50v2.20M548.93 633.60v-2.20M548.93 497.50v2.20M591.80 633.60v-2.20M591.80 497.50v2.20M634.67 633.60v-2.20M634.67 497.50v2.20M677.55 633.60v-2.20M677.55 497.50v2.20" stroke="#262626" stroke-width="0.8" fill="none"/>
<path d="M501.30 633.60v-1.50M501.30 497.50v1.50M502.73 633.60v-1.50M502.73 497.50v1.50M503.98 633.60v-1.50M503.98 497.50v1.50M505.07 633.60v-1.50M505.07 497.50v1.50M512.51 633.60v-1.50M512.51 497.50v1.50M516.28 633.60v-1.50M516.28 497.50v1.50M518.96 633.60v-1.50M518.96 497.50v1.50M521.04 633.60v-1.50M521.04 497.50v1.50M522.73 633.60v-1.50M522.73 497.50v1.50M524.17 633.60v-1.50M524.17 497.50v1.50M525.41 633.60v-1.50M525.41 497.50v1.50M526.51 633.60v-1.50M526.51 497.50v1.50M527.49 633.60v-1.50M527.49 497.50v1.50M533.94 633.60v-1.50M533.94 497.50v1.50M537.72 633.60v-1.50M537.72 497.50v1.50M540.40 633.60v-1.50M540.40 497.50v1.50M542.47 633.60v-1.50M542.47 497.50v1.50M544.17 633.60v-1.50M544.17 497.50v1.50M545.61 633.60v-1.50M545.61 497.50v1.50M546.85 633.60v-1.50M546.85 497.50v1.50M547.95 633.60v-1.50M547.95 497.50v1.50M555.38 633.60v-1.50M555.38 497.50v1.50M559.15 633.60v-1.50M559.15 497.50v1.50M561.83 633.60v-1.50M561.83 497.50v1.50M563.91 633.60v-1.50M563.91 497.50v1.50M565.61 633.60v-1.50M565.61 497.50v1.50M567.04 633.60v-1.50M567.04 497.50v1.50M568.29 633.60v-1.50M568.29 497.50v1.50M569.38 633.60v-1.50M569.38 497.50v1.50M570.36 633.60v-1.50M570.36 497.50v1.50M576.82 633.60v-1.50M576.82 497.50v1.50M580.59 633.60v-1.50M580.59 497.50v1.50M583.27 633.60v-1.50M583.27 497.50v1.50M585.35 633.60v-1.50M585.35 497.50v1.50M587.04 633.60v-1.50M587.04 497.50v1.50M588.48 633.60v-1.50M588.48 497.50v1.50M589.72 633.60v-1.50M589.72 497.50v1.50M590.82 633.60v-1.50M590.82 497.50v1.50M598.25 633.60v-1.50M598.25 497.50v1.50M602.03 633.60v-1.50M602.03 497.50v1.50M604.71 633.60v-1.50M604.71 497.50v1.50M606.78 633.60v-1.50M606.78 497.50v1.50M608.48 633.60v-1.50M608.48 497.50v1.50M609.92 633.60v-1.50M609.92 497.50v1.50M611.16 633.60v-1.50M611.16 497.50v1.50M612.26 633.60v-1.50M612.26 497.50v1.50M613.24 633.60v-1.50M613.24 497.50v1.50M619.69 633.60v-1.50M619.69 497.50v1.50M623.46 633.60v-1.50M623.46 497.50v1.50M626.14 633.60v-1.50M626.14 497.50v1.50M628.22 633.60v-1.50M628.22 497.50v1.50M629.92 633.60v-1.50M629.92 497.50v1.50M631.35 633.60v-1.50M631.35 497.50v1.50M632.60 633.60v-1.50M632.60 497.50v1.50M633.69 633.60v-1.50M633.69 497.50v1.50M641.13 633.60v-1.50M641.13 497.50v1.50M644.90 633.60v-1.50M644.90 497.50v1.50M647.58 633.60v-1.50M647.58 497.50v1.50M649.66 633.60v-1.50M649.66 497.50v1.50M651.35 633.60v-1.50M651.35 497.50v1.50M652.79 633.60v-1.50M652.79 497.50v1.50M654.03 633.60v-1.50M654.03 497.50v1.50M655.13 633.60v-1.50M655.13 497.50v1.50M656.11 633.60v-1.50M656.11 497.50v1.50M662.56 633.60v-1.50M662.56 497.50v1.50M666.34 633.60v-1.50M666.34 497.50v1.50M669.02 633.60v-1.50M669.02 497.50v1.50M671.09 633.60v-1.50M671.09 497.50v1.50M672.79 633.60v-1.50M672.79 497.50v1.50M674.23 633.60v-1.50M674.23 497.50v1.50M675.47 633.60v-1.50M675.47 497.50v1.50M676.57 633.60v-1.50M676.57 497.50v1.50" stroke="#262626" stroke-width="0.7" fill="none"/>
<text x="506.55" y="650.1" font-size="10" text-anchor="middle" font-family='"Liberation Sans", sans-serif' fill="#262626">10<tspan font-size="7.3" dx="0.25" dy="-4.6">0</tspan></text>
<text x="549.43" y="650.1" font-size="10" text-anchor="middle" font-family='"Liberation Sans", sans-serif' fill="#262626">10<tspan font-size="7.3" dx="0.25" dy="-4.6">2</tspan></text>
<text x="592.3" y="650.1" font-size="10" text-anchor="middle" font-family='"Liberation Sans", sans-serif' fill="#262626">10<tspan font-size="7.3" dx="0.25" dy="-4.6">4</tspan></text>
<text x="635.17" y="650.1" font-size="10" text-anchor="middle" font-family='"Liberation Sans", sans-serif' fill="#262626">10<tspan font-size="7.3" dx="0.25" dy="-4.6">6</tspan></text>
<text x="678.05" y="650.1" font-size="10" text-anchor="middle" font-family='"Liberation Sans", sans-serif' fill="#262626">10<tspan font-size="7.3" dx="0.25" dy="-4.6">8</tspan></text>
<g transform="translate(591.8 664.4)" fill="#262626"><text font-family='"Liberation Serif", serif'><tspan x="-4.28" y="0" font-size="14" font-style="italic">A</tspan></text><line x1="-1.6" y1="-11.2" x2="3.3" y2="-11.2" stroke="#262626" stroke-width="0.91"/></g>
<text x="592.6" y="494.6" font-size="21.5" text-anchor="middle" font-weight="bold" font-style="normal" font-family='"Liberation Sans", sans-serif' fill="#000" >h</text>
<path d="M506.05 622.71 L591.8 622.71" fill="none" stroke="#0064ff" stroke-width="1.75" stroke-linejoin="round" />
<path d="M527.49 522.45 L548.93 522.45 L548.93 522.45 L550.71 532.62 L552.5 541.86 L554.29 548.55 L556.07 556.33 L557.86 563.4 L559.64 569.82 L561.43 575.66 L563.22 580.96 L565 585.77 L566.79 590.15 L568.58 594.12 L570.36 597.73 L572.15 601.02 L573.94 604 L575.72 606.7 L577.51 609.17 L579.3 611.4 L581.08 613.43 L582.87 615.28 L584.65 616.95 L586.44 618.48 L588.23 619.86 L590.01 621.12 L591.8 622.26 L634.67 622.26" fill="none" stroke="#ff00aa" stroke-width="1.75" stroke-dasharray="6.4 6.2" stroke-linejoin="round" />
<path d="M548.93 520.18 L570.36 520.18 L570.36 520.18 L573.04 530.56 L575.72 539.99 L578.4 548.55 L581.08 556.33 L583.76 563.4 L586.44 569.82 L589.12 575.66 L591.8 580.96 L594.48 585.77 L597.16 590.15 L599.84 594.12 L602.52 597.73 L605.2 601.02 L607.88 604 L610.56 606.7 L613.24 609.17 L615.92 611.4 L618.6 613.43 L621.28 615.28 L623.96 616.95 L626.63 618.48 L629.31 619.86 L631.99 621.12 L634.67 622.26 L677.55 622.26" fill="none" stroke="#08aa3c" stroke-width="1.75" stroke-dasharray="1.75 1.55" stroke-linejoin="round" />
<line x1="506" y1="510.3" x2="523.1" y2="510.3" stroke="#0064ff" stroke-width="1.75" />
<g transform="translate(524.3 514)" fill="#262626"><text font-family='"Liberation Serif", serif'><tspan x="0" y="0" font-size="13.5" font-style="italic">α</tspan><tspan x="10.99" y="0" font-size="13.5">=</tspan><tspan x="22.7" y="0" font-size="13.5">1</tspan></text></g>
<path d="M557.7 510.3 L574.1 510.3" fill="none" stroke="#ff00aa" stroke-width="1.75" stroke-dasharray="6.4 6.2" stroke-linejoin="round" />
<g transform="translate(575.6 514)" fill="#262626"><text font-family='"Liberation Serif", serif'><tspan x="0" y="0" font-size="13.5" font-style="italic">α</tspan><tspan x="10.99" y="0" font-size="13.5">=</tspan><tspan x="22.7" y="0" font-size="13.5">2</tspan></text></g>
<path d="M608.9 510.3 L624.3 510.3" fill="none" stroke="#08aa3c" stroke-width="1.75" stroke-dasharray="1.75 1.55" stroke-linejoin="round" />
<g transform="translate(626.3 514)" fill="#262626"><text font-family='"Liberation Serif", serif'><tspan x="0" y="0" font-size="13.5" font-style="italic">α</tspan><tspan x="10.99" y="0" font-size="13.5">=</tspan><tspan x="22.7" y="0" font-size="13.5">3</tspan></text></g>
<g transform="translate(471.6 565.55) rotate(-90)" fill="#262626"><text font-family='"Liberation Serif", serif'><tspan x="-16.31" y="0" font-size="14.5" font-style="italic">ρ</tspan><tspan x="-9.35" y="1.8" font-size="11" font-style="italic">Mmin</tspan></text><line x1="-14.49" y1="-9.43" x2="-10.09" y2="-9.43" stroke="#262626" stroke-width="0.94"/></g>
<rect x="39.5" y="497.3" width="185" height="136.8" fill="none" stroke="#262626" stroke-width="1.1"/>
<path d="M39.50 634.10h2.20M224.50 634.10h-2.20M39.50 588.50h2.20M224.50 588.50h-2.20M39.50 542.90h2.20M224.50 542.90h-2.20M39.50 497.30h2.20M224.50 497.30h-2.20" stroke="#262626" stroke-width="0.8" fill="none"/>
<path d="M39.50 620.37h1.50M224.50 620.37h-1.50M39.50 612.34h1.50M224.50 612.34h-1.50M39.50 606.65h1.50M224.50 606.65h-1.50M39.50 602.23h1.50M224.50 602.23h-1.50M39.50 598.62h1.50M224.50 598.62h-1.50M39.50 595.56h1.50M224.50 595.56h-1.50M39.50 592.92h1.50M224.50 592.92h-1.50M39.50 590.59h1.50M224.50 590.59h-1.50M39.50 588.50h1.50M224.50 588.50h-1.50M39.50 574.77h1.50M224.50 574.77h-1.50M39.50 566.74h1.50M224.50 566.74h-1.50M39.50 561.05h1.50M224.50 561.05h-1.50M39.50 556.63h1.50M224.50 556.63h-1.50M39.50 553.02h1.50M224.50 553.02h-1.50M39.50 549.96h1.50M224.50 549.96h-1.50M39.50 547.32h1.50M224.50 547.32h-1.50M39.50 544.99h1.50M224.50 544.99h-1.50M39.50 529.17h1.50M224.50 529.17h-1.50M39.50 521.14h1.50M224.50 521.14h-1.50M39.50 515.45h1.50M224.50 515.45h-1.50M39.50 511.03h1.50M224.50 511.03h-1.50M39.50 507.42h1.50M224.50 507.42h-1.50M39.50 504.36h1.50M224.50 504.36h-1.50M39.50 501.72h1.50M224.50 501.72h-1.50M39.50 499.39h1.50M224.50 499.39h-1.50M39.50 497.30h1.50M224.50 497.30h-1.50" stroke="#262626" stroke-width="0.7" fill="none"/>
<text x="36.7" y="502.9" font-size="10" text-anchor="end" font-family='"Liberation Sans", sans-serif' fill="#262626">10<tspan font-size="7.3" dx="0.25" dy="-5">1</tspan></text>
<text x="36.7" y="548.5" font-size="10" text-anchor="end" font-family='"Liberation Sans", sans-serif' fill="#262626">10<tspan font-size="7.3" dx="0.25" dy="-5">0</tspan></text>
<text x="36.7" y="594.1" font-size="10" text-anchor="end" font-family='"Liberation Sans", sans-serif' fill="#262626">10<tspan font-size="7.3" dx="0.25" dy="-5">-1</tspan></text>
<text x="36.7" y="639.7" font-size="10" text-anchor="end" font-family='"Liberation Sans", sans-serif' fill="#262626">10<tspan font-size="7.3" dx="0.25" dy="-5">-2</tspan></text>
<path d="M45.97 634.10v-2.20M45.97 497.30v2.20M88.99 634.10v-2.20M88.99 497.30v2.20M132.00 634.10v-2.20M132.00 497.30v2.20M175.01 634.10v-2.20M175.01 497.30v2.20M218.03 634.10v-2.20M218.03 497.30v2.20" stroke="#262626" stroke-width="0.8" fill="none"/>
<path d="M41.20 634.10v-1.50M41.20 497.30v1.50M42.64 634.10v-1.50M42.64 497.30v1.50M43.89 634.10v-1.50M43.89 497.30v1.50M44.99 634.10v-1.50M44.99 497.30v1.50M52.45 634.10v-1.50M52.45 497.30v1.50M56.23 634.10v-1.50M56.23 497.30v1.50M58.92 634.10v-1.50M58.92 497.30v1.50M61.01 634.10v-1.50M61.01 497.30v1.50M62.71 634.10v-1.50M62.71 497.30v1.50M64.15 634.10v-1.50M64.15 497.30v1.50M65.40 634.10v-1.50M65.40 497.30v1.50M66.50 634.10v-1.50M66.50 497.30v1.50M67.48 634.10v-1.50M67.48 497.30v1.50M73.95 634.10v-1.50M73.95 497.30v1.50M77.74 634.10v-1.50M77.74 497.30v1.50M80.43 634.10v-1.50M80.43 497.30v1.50M82.51 634.10v-1.50M82.51 497.30v1.50M84.22 634.10v-1.50M84.22 497.30v1.50M85.66 634.10v-1.50M85.66 497.30v1.50M86.90 634.10v-1.50M86.90 497.30v1.50M88.00 634.10v-1.50M88.00 497.30v1.50M95.46 634.10v-1.50M95.46 497.30v1.50M99.25 634.10v-1.50M99.25 497.30v1.50M101.94 634.10v-1.50M101.94 497.30v1.50M104.02 634.10v-1.50M104.02 497.30v1.50M105.72 634.10v-1.50M105.72 497.30v1.50M107.16 634.10v-1.50M107.16 497.30v1.50M108.41 634.10v-1.50M108.41 497.30v1.50M109.51 634.10v-1.50M109.51 497.30v1.50M110.49 634.10v-1.50M110.49 497.30v1.50M116.97 634.10v-1.50M116.97 497.30v1.50M120.75 634.10v-1.50M120.75 497.30v1.50M123.44 634.10v-1.50M123.44 497.30v1.50M125.53 634.10v-1.50M125.53 497.30v1.50M127.23 634.10v-1.50M127.23 497.30v1.50M128.67 634.10v-1.50M128.67 497.30v1.50M129.92 634.10v-1.50M129.92 497.30v1.50M131.02 634.10v-1.50M131.02 497.30v1.50M138.47 634.10v-1.50M138.47 497.30v1.50M142.26 634.10v-1.50M142.26 497.30v1.50M144.95 634.10v-1.50M144.95 497.30v1.50M147.03 634.10v-1.50M147.03 497.30v1.50M148.74 634.10v-1.50M148.74 497.30v1.50M150.18 634.10v-1.50M150.18 497.30v1.50M151.42 634.10v-1.50M151.42 497.30v1.50M152.52 634.10v-1.50M152.52 497.30v1.50M153.51 634.10v-1.50M153.51 497.30v1.50M159.98 634.10v-1.50M159.98 497.30v1.50M163.77 634.10v-1.50M163.77 497.30v1.50M166.45 634.10v-1.50M166.45 497.30v1.50M168.54 634.10v-1.50M168.54 497.30v1.50M170.24 634.10v-1.50M170.24 497.30v1.50M171.68 634.10v-1.50M171.68 497.30v1.50M172.93 634.10v-1.50M172.93 497.30v1.50M174.03 634.10v-1.50M174.03 497.30v1.50M181.49 634.10v-1.50M181.49 497.30v1.50M185.27 634.10v-1.50M185.27 497.30v1.50M187.96 634.10v-1.50M187.96 497.30v1.50M190.05 634.10v-1.50M190.05 497.30v1.50M191.75 634.10v-1.50M191.75 497.30v1.50M193.19 634.10v-1.50M193.19 497.30v1.50M194.44 634.10v-1.50M194.44 497.30v1.50M195.54 634.10v-1.50M195.54 497.30v1.50M196.52 634.10v-1.50M196.52 497.30v1.50M202.99 634.10v-1.50M202.99 497.30v1.50M206.78 634.10v-1.50M206.78 497.30v1.50M209.47 634.10v-1.50M209.47 497.30v1.50M211.55 634.10v-1.50M211.55 497.30v1.50M213.26 634.10v-1.50M213.26 497.30v1.50M214.70 634.10v-1.50M214.70 497.30v1.50M215.94 634.10v-1.50M215.94 497.30v1.50M217.04 634.10v-1.50M217.04 497.30v1.50" stroke="#262626" stroke-width="0.7" fill="none"/>
<text x="46.47" y="650.6" font-size="10" text-anchor="middle" font-family='"Liberation Sans", sans-serif' fill="#262626">10<tspan font-size="7.3" dx="0.25" dy="-4.6">0</tspan></text>
<text x="89.49" y="650.6" font-size="10" text-anchor="middle" font-family='"Liberation Sans", sans-serif' fill="#262626">10<tspan font-size="7.3" dx="0.25" dy="-4.6">2</tspan></text>
<text x="132.5" y="650.6" font-size="10" text-anchor="middle" font-family='"Liberation Sans", sans-serif' fill="#262626">10<tspan font-size="7.3" dx="0.25" dy="-4.6">4</tspan></text>
<text x="175.51" y="650.6" font-size="10" text-anchor="middle" font-family='"Liberation Sans", sans-serif' fill="#262626">10<tspan font-size="7.3" dx="0.25" dy="-4.6">6</tspan></text>
<text x="218.53" y="650.6" font-size="10" text-anchor="middle" font-family='"Liberation Sans", sans-serif' fill="#262626">10<tspan font-size="7.3" dx="0.25" dy="-4.6">8</tspan></text>
<g transform="translate(132 664.9)" fill="#262626"><text font-family='"Liberation Serif", serif'><tspan x="-4.28" y="0" font-size="14" font-style="italic">A</tspan></text><line x1="-1.6" y1="-11.2" x2="3.3" y2="-11.2" stroke="#262626" stroke-width="0.91"/></g>
<text x="129.7" y="494.6" font-size="21.5" text-anchor="middle" font-weight="bold" font-style="normal" font-family='"Liberation Sans", sans-serif' fill="#000" >f</text>
<path d="M45.97 533.51 L88.99 623.79" fill="none" stroke="#0064ff" stroke-width="1.75" stroke-linejoin="round" />
<path d="M88.99 623.79 L88.99 623.17 L88.99 622.34 L88.99 621.35 L89 620.25 L89 619.1 L89.01 617.95 L89.03 616.85 L89.05 615.86 L89.08 614.96 L89.11 614.1 L89.14 613.26 L89.18 612.43 L89.22 611.61 L89.27 610.77 L89.34 609.92 L89.42 609.02 L89.5 608.08 L89.58 607.09 L89.66 606.08 L89.76 605.06 L89.87 604.05 L90.02 603.05 L90.19 602.09 L90.41 601.18 L90.64 600.32 L90.88 599.5 L91.14 598.71 L91.43 597.94 L91.77 597.18 L92.17 596.43 L92.65 595.66 L93.22 594.88 L93.85 594.12 L94.5 593.4 L95.19 592.69 L95.97 591.97 L96.84 591.22 L97.85 590.4 L99.03 589.51 L100.39 588.5 L101.99 587.37 L103.83 586.12 L105.85 584.79 L107.99 583.4 L110.2 581.98 L112.41 580.55 L114.57 579.14 L116.62 577.78 L118.69 576.39 L120.89 574.9 L123.13 573.37 L125.33 571.87 L127.4 570.45 L129.26 569.18 L130.82 568.1 L132 567.3" fill="none" stroke="#0064ff" stroke-width="1.75" stroke-linejoin="round" />
<path d="M67.48 525.39 L132 623.29 L132 623.29 L132.01 622.71 L132.02 621.91 L132.04 620.97 L132.05 619.92 L132.08 618.84 L132.11 617.76 L132.16 616.75 L132.22 615.86 L132.28 615.11 L132.34 614.46 L132.41 613.87 L132.49 613.3 L132.59 612.69 L132.71 612.02 L132.87 611.23 L133.08 610.3 L133.31 609.18 L133.57 607.9 L133.85 606.52 L134.17 605.06 L134.52 603.58 L134.91 602.11 L135.34 600.71 L135.83 599.4 L136.32 598.2 L136.78 597.06 L137.27 595.97 L137.81 594.9 L138.44 593.83 L139.2 592.74 L140.12 591.61 L141.25 590.42 L142.59 589.16 L144.1 587.88 L145.78 586.56 L147.58 585.22 L149.5 583.85 L151.5 582.46 L153.56 581.04 L155.66 579.61 L157.97 578.06 L160.6 576.35 L163.4 574.56 L166.24 572.78 L168.96 571.08 L171.42 569.54 L173.49 568.26 L175.01 567.3" fill="none" stroke="#ff00aa" stroke-width="1.75" stroke-dasharray="6.4 6.2" stroke-linejoin="round" />
<path d="M88.99 523.2 L89.28 524.02 L89.64 525.06 L90.06 526.28 L90.54 527.68 L91.1 529.21 L91.73 530.87 L92.44 532.61 L93.22 534.42 L94.12 536.36 L95.14 538.5 L96.25 540.79 L97.42 543.16 L98.63 545.57 L99.85 547.97 L101.06 550.3 L102.21 552.52 L103.36 554.69 L104.55 556.87 L105.75 559.04 L106.94 561.18 L108.11 563.24 L109.23 565.21 L110.27 567.04 L111.22 568.71 L112.02 570.17 L112.66 571.44 L113.19 572.56 L113.69 573.59 L114.22 574.57 L114.84 575.57 L115.62 576.62 L116.62 577.78 L117.89 579.07 L119.37 580.44 L121.01 581.85 L122.75 583.28 L124.51 584.69 L126.24 586.06 L127.87 587.33 L129.33 588.5 L130.71 589.59 L132.08 590.64 L133.42 591.65 L134.69 592.59 L135.86 593.45 L136.9 594.2 L137.77 594.84 L138.45 595.34" fill="none" stroke="#08aa3c" stroke-width="1.75" stroke-dasharray="1.75 1.55" stroke-linejoin="round" />
<path d="M138.45 595.34 L175.01 623.43" fill="none" stroke="#08aa3c" stroke-width="1.75" stroke-linejoin="round" />
<path d="M175.01 623.43 L175.02 622.87 L175.03 622.15 L175.03 621.3 L175.04 620.34 L175.05 619.29 L175.07 618.18 L175.09 617.03 L175.12 615.86 L175.14 614.63 L175.13 613.29 L175.11 611.87 L175.11 610.41 L175.14 608.94 L175.21 607.48 L175.34 606.09 L175.55 604.78 L175.82 603.54 L176.12 602.35 L176.47 601.18 L176.87 600.05 L177.33 598.95 L177.88 597.87 L178.51 596.82 L179.25 595.8 L180.08 594.83 L180.99 593.93 L181.98 593.08 L183.06 592.24 L184.22 591.4 L185.46 590.51 L186.81 589.55 L188.24 588.5 L189.8 587.34 L191.51 586.11 L193.33 584.81 L195.23 583.47 L197.17 582.1 L199.13 580.72 L201.08 579.36 L202.97 578.01 L204.94 576.61 L207.07 575.1 L209.26 573.54 L211.42 572 L213.47 570.54 L215.31 569.23 L216.86 568.12 L218.03 567.3" fill="none" stroke="#08aa3c" stroke-width="1.75" stroke-dasharray="1.75 1.55" stroke-linejoin="round" />
<line x1="45.6" y1="510.2" x2="62.7" y2="510.2" stroke="#0064ff" stroke-width="1.75" />
<g transform="translate(63.9 513.9)" fill="#262626"><text font-family='"Liberation Serif", serif'><tspan x="0" y="0" font-size="13.5" font-style="italic">α</tspan><tspan x="10.99" y="0" font-size="13.5">=</tspan><tspan x="22.7" y="0" font-size="13.5">1</tspan></text></g>
<path d="M97.3 510.2 L113.7 510.2" fill="none" stroke="#ff00aa" stroke-width="1.75" stroke-dasharray="6.4 6.2" stroke-linejoin="round" />
<g transform="translate(115.2 513.9)" fill="#262626"><text font-family='"Liberation Serif", serif'><tspan x="0" y="0" font-size="13.5" font-style="italic">α</tspan><tspan x="10.99" y="0" font-size="13.5">=</tspan><tspan x="22.7" y="0" font-size="13.5">2</tspan></text></g>
<path d="M148.5 510.2 L163.9 510.2" fill="none" stroke="#08aa3c" stroke-width="1.75" stroke-dasharray="1.75 1.55" stroke-linejoin="round" />
<g transform="translate(165.9 513.9)" fill="#262626"><text font-family='"Liberation Serif", serif'><tspan x="0" y="0" font-size="13.5" font-style="italic">α</tspan><tspan x="10.99" y="0" font-size="13.5">=</tspan><tspan x="22.7" y="0" font-size="13.5">3</tspan></text></g>
<g transform="translate(11.2 566) rotate(-90)" fill="#262626"><text font-family='"Liberation Serif", serif'><tspan x="-21.83" y="0" font-size="14.5" font-style="italic">M</tspan><tspan x="-9.75" y="2.2" font-size="11" font-style="italic">min</tspan><tspan x="7.95" y="0" font-size="14.5" font-style="italic">/</tspan><tspan x="12.98" y="0" font-size="14.5" font-style="italic">A</tspan></text><line x1="-17.14" y1="-11.6" x2="-13.54" y2="-11.6" stroke="#262626" stroke-width="0.94"/><line x1="17.17" y1="-11.6" x2="20.77" y2="-11.6" stroke="#262626" stroke-width="0.94"/></g>
<text x="357.5" y="228.2" font-size="16.8" text-anchor="middle" font-weight="normal" font-style="normal" font-family='"Liberation Sans", sans-serif' fill="#111" >Thickness Minimization</text>
<text x="355.8" y="463" font-size="16.8" text-anchor="middle" font-weight="normal" font-style="normal" font-family='"Liberation Sans", sans-serif' fill="#111" >Mass Minimization</text>
</svg></body></html>
